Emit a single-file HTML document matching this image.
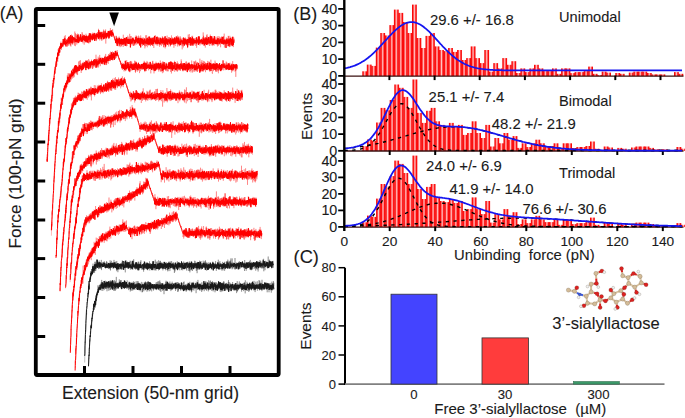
<!DOCTYPE html>
<html><head><meta charset="utf-8"><style>
html,body{margin:0;padding:0;background:#fff;width:685px;height:418px;overflow:hidden}
svg{display:block;font-family:"Liberation Sans", sans-serif}
text{stroke:#1a1a1a;stroke-width:0.1px}
</style></head><body>
<svg width="685" height="418" viewBox="0 0 685 418">
<rect width="685" height="418" fill="#fff"/>
<g transform="scale(0.1)" fill="none" stroke="#ff0000" stroke-width="10" stroke-opacity="1.0" stroke-linejoin="round">
<path d="M470 1593l2 24 1-67 2-14 2-23 1-38 2-37 2 13 1-30 2-68 2 57 1-50 2-56 2 8 1-49 2-15 2-6 1-62 2 13 2-7 1-23 2-53 2 2 1-69 2 8 2-7 1-53 2 6 2 17 1 0 2-51 2-16 1-50 2-21 2-19 1 21 2-11 2-41 1-26 2 14 2-12 2-22 1 13 2-38 2-12 1-32 2 12 2 12 1-35 2-10 2-4 1-12 2-5 2-10 1-7 2-36 2 12 1-45 2 27 2-37 1 15 2 3 2-24 1 3 2-40 2 9 1 23 2-41 2 29 1-45 2 4 2-10 1 16 2 4 2-35 1 11 2 30 2-42 1-14 2 18 2-16 1-13 2-24 2 46 1-30 2 8 2-23 1 42 2-13 2 3 1-23 2 9 2 6 1 1 2-16 2-9 1-7 2-9 2-5 1 23 2-13 2-34 1 33 2 22 2-26 1-32 2 32 2 16 1-12 2-12 2 42 1 0 2-39 2 17 1-9 2 7 2 12 1-12 2-15 2-15 2-3 1 14 2 22 2-17 1-5 2 4 2-5 1 9 2-32 2-17 1 30 2-15 2 53 1-35 2-2 2-25 1 35 2-18 2 33 1-6 2-31 2 23 1-60 2 38 2 36 1-9 2-12 2-4 1-26 2 0 2 30 1 29 2-75 2 53 1-1 2 6 2-34 1 6 2 10 2-20 1-4 2 6 2 15 1 8 2-8 2 2 1-15 2-1 2 35 1-23 2 0 2 19 1 5 2 1 2-17 1-9 2 6 2-2 1 23 2-21 2 6 1-13 2 26 2-65 1 46 2 7 2-37 1 63 2-44 2 0 1-18 2 37 2-13 1-15 2 15 2 9 1 9 2-19 2-22 2 7 1-33 2 29 2 28 1-5 2-11 2-5 1 36 2-25 2 12 1-10 2-20 2 42 1-54 2 1 2 14 1-6 2 4 2-1 1 29 2-17 2 5 1-37 2 14 2 36 1-43 2 45 2-42 1 25 2-22 2 19 1-21 2 12 2 37 1-40 2 46 2-48 1-13 2 23 2-9 1 41 2-18 2 6 1-10 2 34 2-32 1-5 2-26 2-2 1 21 2 15 2 2 1-39 2 27 2-6 1-25 2 30 2-53 1 48 2 42 2-67 1 20 2-37 2 21 1 29 2-34 2 18 1-6 2-1 2 11 1 5 2 14 2-8 1-26 2 37 2-3 1-54 2 42 2 3 2 2 1-8 2-35 2 19 1-35 2 37 2 41 1-26 2 3 2-26 1-10 2-1 2 22 1-18 2 3 2 34 1-54 2 6 2 15 1 8 2-1 2-24 1 30 2-7 2 9 1-27 2 25 2-1 1-17 2 8 2-7 1 36 2-85 2 32 1-6 2 25 2-6 1 5 2 21 2-45 1 15 2 12 2-19 1 29 2-1 2-20 1-20 2 63 2-21 1-2 2-6 2-2 1 15 2-16 2-12 1 25 2-13 2-16 1-3 2 39 2-10 1 25 2-48 2-4 1 21 2 19 2-16 1-3 2 27 2-50 1-10 2 9 2 8 1 13 2 12 2-12 1 20 2-45 2 52 2-52 1 37 2-40 2 24 1-6 2 8 2 4 1-18 2 2 2 5 1-29 2 10 2-17 1 30 2 42 2-29 1-31 2 3 2 32 1-28 2-22 2 10 1-1 2 0 2 32 1-12 2-30 2 18 1-12 2-2 2-6 1 61 2-39 2 16 1 5 2-24 2 17 1 0 2-7 0 2 2 1 2 4 1 9 2 9 2 3 2 2 1 5 2 6 2 6 2 9 2 8 1-3 2 12 2 3 0 16 2 4 1-32 2 6 2-9 1 25 2-38 2 10 1 8 2 36 2 23 1-46 2-23 2 24 1-18 2 26 2-30 1 14 2 7 2 10 1-11 2 25 2-22 1-36 2 52 2-24 1-7 2 42 2-48 1 20 2-15 2 40 1-33 2 11 2-30 1 53 2-47 2 37 1 4 2 2 2 11 1-56 2 30 2-5 1 5 2 13 2-19 1-18 2 14 2 31 1-51 2 24 2-21 1 40 2-52 2 25 1 4 2 4 2 43 1-15 2-50 2 61 1-64 2-13 2 8 1 32 2 6 2-52 1 50 2-13 2 18 2-20 1 24 2-6 2-33 1 49 2-23 2 10 1 10 2-43 2 17 1-14 2-2 2 23 1 1 2 19 2 1 1-26 2-16 2 77 1-20 2-43 2-16 1 10 2 13 2 16 1-3 2-10 2-13 1 8 2-9 2 7 1-3 2 12 2-46 1 29 2 1 2-15 1 18 2-17 2 7 1 7 2 1 2-6 1 32 2-17 2 2 1-2 2-17 2-4 1 33 2-23 2-27 1-8 2 46 2-18 1 13 2-9 2 2 1 5 2-21 2 24 1 19 2-6 2-46 1 8 2 0 2 20 1 21 2-10 2-39 1 34 2 14 2-24 1 45 2-48 2 34 1 23 2-69 2 18 1 17 2 50 2-95 1 45 2-6 2-13 1-8 2 6 2 4 1-18 2 54 2-51 1 13 2-5 2 5 1 10 2-16 2 10 1 37 2-13 2-25 1 22 2-32 2 19 1-31 2 5 2 6 1 40 2-20 2 6 1-7 2 4 2 1 1 7 2-12 2-20 1 2 2 38 2 4 1-16 2-42 2 61 1-24 2-7 2 1 1-7 2 40 2-1 1-52 2 16 2 10 1 18 2-70 2 64 1 14 2-38 2 5 1 25 2-17 2-33 1 4 2 2 2-7 1 27 2-10 2 11 2 12 1 21 2-30 2-40 1 62 2-29 2 25 1-31 2 14 2-8 1 2 2 25 2-37 1 16 2 1 2-12 1-34 2 48 2-60 1 25 2 20 2 17 1 8 2-1 2-4 1-18 2 30 2-28 1 26 2-64 2 25 1 7 2 11 2-46 1 61 2 4 2-4 1-25 2 37 2-38 1 28 2-18 2 0 1-2 2 2 2 22 1 6 2 0 2-10 1-5 2-4 2 25 1-42 2-3 2 13 1-33 2 27 2 4 1-19 2 9 2 24 1-18 2 6 2 18 1-31 2-10 2 21 1 9 2-43 2 47 1-18 2-2 2-9 1 13 2 22 2-8 1 5 2-22 2 37 1-6 2-25 2-49 1 51 2 51 2-53 1-19 2 52 2-44 1 21 2 5 2-42 1 30 2 21 2-29 1 18 2-13 2 20 1 16 2-56 2 15 1 13 2-19 2-4 1 9 2 2 2-8 1 19 2 9 2-1 1-1 2 10 2-49 1 24 2 6 2 6 1-41 2 67 2-53 1 22 2 9 2 7 1-34 2 3 2 17 1 4 2 6 2-18 1-12 2-12 2 58 1-59 2 39 2-8 1 10 2 3 2 8 1-27 2 9 2-45 2 38 1-18 2 14 2 27 1-22 2 19 2-25 1 12 2-16 2-40 1 35 2 8 2 8 1-3 2-2 2 20 1-6 2-19 2 24 1-55 2 33 2 2 1 28 2-35 2-18 1 32 2 28 2-36 1 2 2-2 2 5 1 24 2 13 2-29 1-11 2 37 2-33 1 0 2-9 2 1 1 11 2-10 2 13 1-6 2 9 2-18 1 4 2 8 2-3 1 0 2 21 2-43 1-17 2 51 2-18 1 30 2-27 2-21 1 64 2-34 2-16 1-6 2 25 2-24 1 21 2 14 2-48 1 19 2 16 2 23 1-14 2-26 2 36 1-35 2 4 2 10 1-28 2 80 2-36 1-19 2-15 2-11 1 29 2 6 2-20 1 3 2 15 2-12 1-34 2 48 2-8 1 9 2-28 2-26 1 16 2 30 2 34 1 5 2-39 2-34 1 22 2 15 2-1 1-6 2 24 2-43 1-24 2 24 2-5 1 65 2-46 2-24 1 39 2 7 2-18 1 3 2 16 2-10 1-23 2 24 2 7 1-11 2 10 2-6 1-15 2 1 2 15 1-22 2 32 2 1 1-62 2 38 2-13 1 2 2 15 2-6 1 14 2-5 2 1 1-22 2 8 2 35 1-75 2 80 2-44 2 33 1-71 2 41 2 24 1-13 2 16 2-36 1 6 2-1 2 22 1-1 2-11 2-3 1-1 2 8 2-20 1 17 2-2 2-7 1-1 2 39 2-40 1 20 2 18 2-12 1-14 2 19 2-46 1 4 2 15 2 4 1 2 2 38 2-4 1-33 2 6 2-22 1 23 2-31 2 52 1-37 2 21 2-36 1 51 2-14 2 25 1-36 2-32 2 16 1-9 2 54 2-42 1-2 2 25 2-6 1 4 2-19 2-28 1 12 2-16 2 66 1-7 2-24 2 19 1 1 2-1 2-2 1 7 2-15 2-44 1-11 2 77 2-13 1-59 2 51 2-20 1 7 2-39 2 64 1-17 2 18 2 5 1 4 2 6 2-25 1-2 2-16 2 22 1-15 2-17 2 45 1-9 2-65 2 16 1 31 2-22 2 49 1-19 2 7 2 7 1 8 2-31 2 17 1-7 2 11 2-5 1 17 2-17 2-20 1 12 2-24 2 27 1 23 2-40 2-20 1 30 2-8 2 9 1-11 2 13 2-21 1 49 2-34 2 14 1 5 2-18 2 12 1-13 2-4 2 4 1 14 2-34 2 7 1 2 2 5 2 32 1-22 2-5 2 8 2 18 1-35 2 34 2-64 1 27 2 46 2 1 1-26 2-12 2 24 1-23 2 37 2-7 1-8 2-30 2 34 1-23 2 0 2-3 1 6 2 11 2 7 1 0 2 49 2-72 1 29 2-35 2 9 1-18 2 45 2-18 1-2 2-5 2 20 1-27 2 17 2 40 1-50 2-10 2-7 1 35 2-14 2-16 1-1 2 16 2-20 1 60 2-44 2 0 1 2 2-33 2 7 1 21 2 6 2-23 1 56 2-24 2 16 1-2 2-27 2 51 1-44 2-38 2-9 1 45 2 16 2-15 1 32 2-39 2 16 1 4 2-34"/>
<path d="M514 2303l2-60 1 22 2-68 2-28 1-40 2-30 2-1 1-62 2-14 2-48 1-25 2-13 2-32 1-66 2-9 2-50 1 0 2-56 2-36 1 4 2-56 2-14 1-16 2-49 2-20 2-5 1 10 2-52 2-16 1-32 2-19 2 11 1-59 2-15 2 26 1-59 2-24 2 19 1-5 2 1 2-5 1-99 2 26 2-16 1 0 2-36 2 4 1-8 2-14 2-33 1 9 2-33 2-12 1 0 2 8 2-64 1 26 2 16 2-34 1-23 2 5 2 16 1-43 2-20 2 19 1-28 2-16 2 21 1-40 2 2 2 24 1-31 2 14 2-65 2-2 1 7 2 6 2-41 1 35 2-20 2-6 1 6 2-11 2-23 1 14 2-23 2 44 1-38 2 0 2-11 1 10 2 0 2-10 1-21 2 38 2-25 1-38 2-10 2 18 1-4 2-12 2 10 1 22 2 14 2-23 1 0 2 12 2 17 1-23 2-14 2-17 1-19 2 24 2 12 1-20 2-19 2 19 1-16 2-13 2-29 1 46 2-26 2 33 2-37 1 11 2-14 2 42 1-10 2-28 2 26 1-53 2 34 2-25 1 7 2-8 2 19 1-48 2 24 2 34 1-72 2 38 2-23 1-27 2 57 2-18 1 32 2-61 2 41 1 22 2-67 2 47 1-1 2-10 2 21 1-15 2-28 2-2 1 11 2 34 2-36 1 19 2-21 2 14 1-3 2 13 2 11 1-46 2-13 2 20 1 0 2 5 2 13 2-28 1 8 2-1 2 21 1-30 2 31 2 13 1-42 2 31 2-17 1-13 2 40 2-15 1-31 2 17 2-25 1-14 2 47 2-21 1 31 2-29 2 2 1-8 2 5 2-19 1 10 2-29 2-2 1 8 2 14 2 10 1-3 2 26 2 25 1-95 2 74 2-10 1-30 2 14 2-41 1 33 2 34 2-54 1 11 2 13 2 11 1-13 2-11 2 22 1-24 2 57 2-22 2-23 1-18 2 5 2-4 1 7 2 15 2-34 1 28 2-4 2-18 1 42 2-16 2-3 1-18 2-3 2 14 1-29 2 35 2-29 1 21 2 13 2-19 1-8 2-2 2 17 1-25 2 20 2 19 1-55 2 21 2 20 1-27 2 0 2-4 1 40 2-58 2 38 1-2 2 4 2-16 1 16 2-12 2-7 1 65 2-30 2-41 1 7 2 21 2 19 2-32 1 17 2-10 2 18 1-34 2-4 2 19 1 0 2-5 2 22 1-11 2-12 2-24 1 34 2 3 2-29 1 10 2-20 2 23 1-7 2-30 2 33 1-7 2 0 2 26 1-12 2 7 2-23 1 31 2-41 2 29 1-43 2 32 2-24 1-9 2 40 2-10 1 5 2-9 2 4 1-7 2-3 2 5 1 41 2-63 2-10 1 10 2 4 2 23 2 10 1 0 2-26 2 17 1 21 2-23 2 12 1-44 2 35 2-2 1-40 2 24 2 10 1-29 2 33 2 1 1-14 2-8 2-2 1 10 2 13 2-48 1 29 2 1 2-23 1-8 2 19 2-28 1 35 2-10 2-17 1 21 2-18 2 2 1 35 2-38 2-35 1 54 2-26 2 2 1 45 2-31 2 16 1-43 2 5 2 3 1 29 2-27 2-25 2 50 1-25 2 10 2 12 1 26 2-43 2 30 1-57 2 28 2 2 1-49 2 22 2 4 1 23 2-20 2 0 1-6 2 21 2-11 1-1 2-4 2 17 1-28 2 12 0 1 2 6 1 7 2 3 2 0 2 11 1 6 2 5 2 4 2-2 1 9 2 7 2 5 2 2 1 6 2 1 2 9 1-2 2 10 2 9 2-2 1 12 2 7 2 1 2 2 1 5 2 3 0 19 2-35 1 24 2-24 2 31 1-37 2 24 2-11 1 33 2-27 2 5 1 24 2-43 2-2 1 22 2-18 2 51 1-29 2 2 2-11 1-54 2 84 2-26 1-37 2 18 2 20 1 25 2-18 2 1 1-1 2-23 2 4 1 13 2-26 2 27 1 12 2-58 2 41 1-1 2 7 2 31 1-60 2 64 2-24 1 34 2-54 2 14 1-10 2 12 2-26 1 2 2 11 2 16 1-37 2 18 2-5 1 17 2 10 2-44 1 9 2 13 2-13 1 46 2 6 2-18 1-5 2-31 2 3 1 26 2 21 2-36 2 13 1 25 2 2 2-52 1 24 2 9 2-45 1 22 2 13 2-14 1 20 2-18 2-25 1 9 2-17 2 15 1 36 2-5 2 4 1 15 2-47 2 13 1 12 2 29 2-26 1-8 2 8 2-23 1-21 2 47 2-17 1 17 2-32 2 6 1 32 2-11 2 14 1-31 2 14 2 12 1 4 2-18 2 7 1-8 2-1 2 2 1 10 2-35 2 25 1-19 2 20 2-5 1 8 2-8 2 1 1-23 2 53 2-53 1-10 2 42 2 5 1-13 2-5 2-15 1 57 2-68 2 77 1-75 2 11 2 15 1-4 2 18 2-26 1 10 2-24 2 53 1-28 2-9 2 15 1 17 2-10 2-21 1 17 2 4 2 1 1-13 2 19 2-34 1 23 2-18 2 17 1-12 2 24 2-21 1 31 2-41 2 38 1-36 2-31 2 28 1 36 2-13 2 5 1-16 2 14 2-26 1 52 2-2 2-22 1-19 2-2 2 25 1-5 2-24 2 31 1 3 2-6 2-3 1-3 2-4 2-6 1-6 2 35 2-53 1 32 2 14 2 27 1-50 2 33 2-2 1-6 2 17 2-66 1 50 2-20 2 10 2-11 1-13 2-20 2 44 1-13 2-20 2 22 1-18 2 4 2 20 1 11 2-52 2 36 1 12 2-35 2 18 1 12 2 12 2-40 1-9 2 19 2 2 1 9 2 1 2-38 1 51 2-46 2 39 1 3 2-2 2-2 1 1 2-22 2-1 1 57 2-11 2-4 1-10 2-46 2 66 1-40 2 4 2 15 1-28 2 38 2-71 1 69 2-13 2-26 1 32 2 6 2-7 1 3 2-23 2 25 1 0 2 4 2-11 1-45 2 42 2-35 1 10 2 12 2 6 1-10 2 12 2 4 1-7 2-2 2 5 1 7 2-31 2-11 1 49 2-18 2-47 1 65 2 1 2-57 1 12 2 13 2-14 1 12 2 10 2 21 1-67 2 49 2 20 1-68 2 53 2-7 1-10 2 26 2 11 1-5 2 19 2-54 1-25 2 29 2 14 1 19 2-12 2-22 1 38 2-18 2-4 1-8 2 12 2 3 1-11 2-46 2 29 1 25 2 22 2-7 1-2 2 13 2-21 1 13 2-6 2-15 1-22 2-14 2 40 1-32 2 22 2 16 1-28 2 32 2-17 1-18 2 28 2 3 1-23 2 19 2-32 1 25 2 3 2-26 2 22 1 27 2-41 2-10 1-5 2 12 2-6 1-11 2 35 2 4 1-25 2 20 2 17 1-11 2-3 2 9 1-26 2 30 2 19 1-49 2-23 2 22 1-5 2 24 2 19 1-13 2 23 2-25 1-7 2-39 2 45 1-20 2 2 2 5 1 37 2-15 2-16 1-28 2 19 2 4 1 22 2-7 2 0 1-29 2 37 2 34 1-79 2 7 2 21 1 17 2-14 2-3 1 27 2-50 2-19 1 10 2 46 2 2 1-26 2-20 2 11 1 24 2 11 2-31 1-4 2-2 2 6 1 25 2-10 2 4 1-5 2 1 2-29 1 5 2 27 2 1 1 14 2-23 2-15 1 13 2-1 2 15 1-13 2 13 2 1 1 0 2 1 2-31 1 42 2 10 2-16 1 16 2-23 2-18 1 21 2-11 2-2 1 34 2-48 2 38 1-32 2-23 2 48 1-12 2 2 2 1 1 17 2-14 2-12 1 3 2 11 2-19 1 18 2-46 2 36 1 2 2 14 2-34 1 17 2 12 2 46 1-51 2 8 2-22 1 52 2-46 2 0 1 7 2-27 2 5 1 12 2-8 2 34 1-29 2 52 2-37 1-19 2 17 2 10 2-14 1 9 2-13 2-11 1 13 2 35 2-41 1 6 2-27 2 16 1 19 2-13 2 28 1-4 2-26 2 6 1 14 2-5 2-13 1-29 2 61 2-26 1 3 2-17 2 42 1-30 2 5 2-41 1 29 2 7 2 9 1 5 2-16 2 23 1-22 2-1 2 3 1-31 2-11 2 76 1-67 2 21 2 23 1-24 2 34 2-58 1 39 2 9 2 29 1-13 2-41 2 30 1-11 2-29 2 14 1 29 2-25 2-13 1 6 2-12 2-6 1 37 2 1 2 11 1-48 2 8 2 28 1-5 2-6 2-19 1 16 2-20 2 55 1-16 2-31 2 41 1-42 2 30 2-8 1-10 2 32 2-56 1 25 2 0 2-28 1 5 2 31 2 3 1-24 2 29 2-1 1 5 2-19 2 3 1 13 2-22 2-5 1-7 2 33 2 14 1-58 2 29 2 19 1 15 2-23 2-20 1 29 2 30 2-36 1 6 2 19 2-59 1 43 2 12 2-9 1-14 2-10 2-4 1-14 2 15 2-13 1 20 2-2 2-7 1 4 2 8 2-24 1 35 2-9 2 8 1-17 2 2 2 7 1-1 2-9 2 1 2-3 1 2 2-6 2-1 1-4 2 43 2-37 1 10 2-16 2 21 1 20 2-36 2 16 1-4 2 17 2-17 1-1 2-2 2-31 1 54 2 12 2-46 1 31 2-15 2 26 1-36 2 18 2 16 1-14 2-6 2-4 1-11 2 14 2-20 1 48 2-20 2-13 1-24 2 46 2 5 1-16 2 8 2 0 1-16 2-4 2 7 1 20 2-33 2-18 1 31 2 0 2-4 1 5 2-25 2 6 1 8 2 6 2 10 1 4 2-9 2-6 1-15 2 9 2-20 1 15 2 20 2 3 1-29 2 39"/>
<path d="M560 2578l2-27 1 7 2-65 2-52 1-61 2 17 2-30 1-73 2-7 2-83 1 0 2 19 2-78 1 27 2-11 2-69 1 8 2 15 2 2 1-62 2 13 2-61 1-12 2 7 2-8 1-26 2 4 2-21 1-6 2-27 2-30 1-15 2-21 2-12 1 2 2-19 2-10 1-26 2-17 2-51 1-8 2-19 2-22 2-51 1 45 2-51 2-10 1-16 2 29 2-38 1 6 2-45 2 2 1-15 2-32 2-8 1-51 2-1 2 9 1-61 2 37 2-15 1-30 2 16 2-19 1 1 2-31 2-4 1-17 2-44 2 15 1-13 2-6 2-11 1 6 2-27 2-22 1 15 2-61 2 3 1 42 2-61 2 25 1-36 2 25 2-15 1 5 2-18 2 4 1-49 2 39 2-45 1 17 2-27 2 19 1-20 2-10 2 2 1-18 2-4 2 23 1-21 2-12 2-13 1 28 2-41 2 11 1-23 2 8 2 6 1 8 2-10 2 17 1-55 2 74 2-31 1-4 2-27 2 33 1-34 2 11 2 4 1 5 2-2 2-28 2-9 1 49 2-12 2-5 1-4 2 1 2-47 1 35 2 17 2-17 1 11 2-7 2-17 1-8 2 12 2 21 1-51 2 46 2-54 1 73 2-42 2 5 1-12 2 26 2-33 1 39 2 14 2-41 1-18 2 31 2-30 1 7 2 9 2 15 1-42 2 34 2-5 1-12 2 14 2-12 1-10 2-31 2-10 1 47 2 11 2-33 1 13 2 34 2-14 1-50 2 45 2-19 1 14 2-9 2-20 1 56 2-89 2 28 1 41 2-25 2 7 1-26 2 33 2-30 1-9 2-1 2 43 1-23 2 14 2-7 1-12 2-19 2 27 1 6 2-34 2 9 1-5 2-24 2 45 1 5 2-13 2 5 2-2 1 20 2-8 2 1 1-33 2 24 2-11 1-21 2 29 2-41 1 10 2 41 2-8 1-49 2 42 2-5 1-8 2-17 2 15 1 19 2 20 2-18 1-34 2 29 2 27 1-45 2-21 2 45 1-33 2 12 2 5 1-11 2 3 2 12 1 1 2-9 2 8 1-9 2-19 2 46 1-28 2 3 2 10 1-23 2-25 2-7 1 24 2 27 2-13 1 3 2-21 2-19 1 22 2-31 2 17 1 26 2-23 2-16 1 36 2-1 2-7 1-38 2 47 2-20 1 15 2 10 2-12 1 15 2-11 2-23 1-3 2 47 2 5 1-47 2 11 2 3 1 6 2-45 2 44 1-12 2 1 2-12 2 34 1-34 2 41 2-5 1-40 2 27 2 1 1-25 2-37 2 36 1 11 2 37 2-19 1-7 2-14 2 12 1-34 2 0 2-10 1 2 2 18 2 41 1-66 2 32 2-5 1-37 2 31 2-38 1 61 2-5 2-32 1 6 2-3 2-3 1 26 2-36 2 14 1-17 2 44 2-19 1 16 2-36 2-35 1 60 2-5 2 10 1-18 2 12 2 4 1-28 2-32 2 54 1-10 2-13 2-15 1 56 2-31 2-1 1-20 2 2 2 18 1-29 2 47 2-32 1 32 2-22 2-18 1 53 2-40 2-10 1 27 2-10 2-8 1-39 2 5 2 49 1-28 2 19 2-27 1 22 2-40 2 29 2 32 1-24 2-12 2 5 1 1 2 35 2-33 1 5 2-18 2 19 1-2 2-23 2-19 1 27 2 26 2-34 1 4 2 29 2-25 1-35 2 67 2-30 1-12 2 5 2 14 1-20 2 43 2-26 1 3 2-7 2-16 1 13 2 30 2-43 1 6 2 9 2-22 1 31 2-41 2 31 1-27 2 12 0 5 2 14 1-4 2 10 2 3 2 2 1 10 2 3 2 0 2 5 1 11 2 5 2 0 1 10 2 4 2 8 2 2 1 7 2 5 2 7 1 7 2 8 2-5 2 10 1 2 2 5 2 3 2 9 1 7 2 4 0 3 2 0 1 4 2-7 2 5 1-3 2-12 2-17 1-3 2 36 2-27 1 32 2-23 2-5 1 9 2 8 2 29 1-40 2-2 2 17 1 11 2-20 2-8 1 20 2-4 2 3 1-34 2 38 2-10 1 18 2-24 2 12 1-12 2 44 2-67 1 9 2 3 2-41 1 46 2 40 2-16 1 6 2-22 2-10 1 9 2-21 2-8 1 53 2-21 2 26 1-51 2 27 2-30 1 58 2-28 2-21 1 1 2 42 2-44 1 16 2 5 2-19 1 47 2 6 2-45 1 14 2 10 2-2 2 2 1-34 2 22 2-27 1 24 2 12 2 6 1-55 2 44 2-31 1 35 2-1 2-4 1 15 2-13 2-20 1 8 2 13 2-37 1 26 2 11 2-26 1 42 2-2 2-10 1-12 2-5 2 18 1-3 2 10 2-31 1 24 2 9 2-38 1 20 2-2 2-4 1 21 2-21 2 17 1-6 2 7 2-19 1-7 2 24 2-12 1 15 2-24 2-2 1 23 2-10 2-5 1 15 2-16 2 7 1 6 2-29 2 38 1-18 2-5 2 4 1-10 2-22 2 34 1-9 2 38 2-3 1-36 2 15 2 14 1-13 2-9 2-3 1-13 2 34 2-4 1-8 2-3 2 31 1-23 2 16 2-46 1 6 2 1 2 28 1-20 2 31 2-22 1 16 2-24 2 22 1-21 2 4 2-17 1-14 2 11 2 26 1 0 2-34 2 8 1-4 2 35 2-26 1-2 2 26 2-19 1 20 2 4 2-23 1-21 2 26 2 44 1-58 2 43 2-36 1-5 2 43 2-34 1-31 2 15 2 8 1 5 2 33 2-5 1-17 2 8 2-17 1-21 2 30 2-4 1 20 2-11 2 15 1-28 2 1 2-1 2-7 1 34 2-16 2-25 1 11 2 45 2 8 1-17 2-23 2 26 1-29 2-20 2 22 1-21 2 16 2 44 1-31 2-5 2 10 1-22 2 12 2-22 1-7 2 16 2-13 1-19 2 31 2-10 1 3 2 42 2-14 1 6 2-22 2-15 1 3 2 48 2-83 1 42 2 13 2-31 1 46 2-34 2 15 1 28 2-12 2-20 1 2 2 29 2 8 1-25 2-43 2 25 1 28 2-32 2 8 1-13 2 10 2 26 1-5 2-32 2 42 1-49 2 44 2-1 1-40 2-10 2 52 1-6 2-8 2-18 1 21 2-34 2 41 1 28 2-46 2 23 1-35 2 22 2-10 1 12 2-14 2-25 1 50 2-40 2 41 1-42 2 36 2-8 1-16 2 27 2-13 1 25 2-17 2 10 1-60 2 63 2-30 1 0 2-19 2 10 1 8 2 7 2-1 1-8 2 10 2 13 1-25 2-3 2 32 1-12 2-25 2 30 1-5 2 32 2-23 1-2 2-16 2-16 1 16 2-3 2-1 1 26 2-40 2 51 1-50 2-8 2 44 1-22 2-9 2 21 1-17 2 11 2-9 1 10 2-18 2 27 2-20 1 9 2-41 2 48 1-19 2 6 2-2 1-4 2-8 2 35 1-26 2 5 2-3 1-7 2 33 2-32 1 18 2-21 2-12 1 0 2 36 2-45 1 4 2 20 2 22 1-24 2 33 2-23 1-1 2 32 2-19 1-17 2-2 2 25 1 10 2-30 2 2 1 23 2-32 2 20 1-3 2-7 2-14 1-26 2 39 2-19 1 27 2-15 2 2 1 34 2-13 2-30 1 33 2-22 2-17 1 26 2-3 2 18 1 1 2 1 2-32 1 11 2-31 2 38 1-9 2-36 2 51 1-3 2-37 2-12 1 34 2 10 2-6 1 28 2 16 2-40 1-6 2-4 2 46 1-37 2 12 2 3 1 3 2-11 2 27 1-24 2-7 2-23 1 13 2 6 2 20 1-29 2 14 2-8 1-45 2 54 2 26 1-58 2 48 2-44 1 15 2 6 2 19 1-17 2 1 2 16 1 1 2-20 2 12 1 16 2-16 2-28 1 20 2-29 2 68 1-37 2-34 2 22 1 17 2 5 2-16 1-5 2-10 2 34 1 7 2-17 2-3 1-1 2-13 2 4 1 17 2-6 2 3 2-21 1 28 2-34 2 43 1-27 2 9 2-18 1 11 2-13 2 17 1-36 2 55 2-18 1 9 2-15 2 12 1-23 2-3 2 9 1-20 2 42 2-21 1 2 2-12 2 26 1 10 2-26 2 27 1-15 2-2 2-35 1 15 2 39 2-3 1 22 2-53 2 27 1-43 2 12 2-4 1 5 2 21 2 21 1-23 2-26 2 48 1-18 2-36 2 55 1-25 2 13 2-26 1 2 2 18 2-38 1 31 2 16 2-9 1-9 2-7 2 0 1 36 2-23 2-2 1-20 2 25 2 6 1-57 2 74 2-16 1-19 2-30 2 80 1-33 2-22 2-18 1 47 2-55 2 34 1-5 2-17 2 9 1 0 2 30 2-9 1 14 2-41 2 44 1-18 2 17 2-29 1 15 2-27 2 39 1-19 2-14 2 9 1 4 2-37 2 37 1-23 2 18 2 6 1 41 2-37 2-33 1 36 2-33 2 3 1 5 2 32 2 14 1-19 2-38 2 28 1 13 2-64 2 41 1 56 2-75 2 7 1-3 2 49 2-8 1-4 2 9 2-35 1-24 2 47 2-42 1 44 2-2 2-7 1 22 2-17 2-31 2 8 1 28 2-25 2 24 1-17 2 11 2-24 1 15 2-28 2 18 1 24 2-23 2-6 1 35 2-2 2-37 1 27 2 5 2-27 1 3 2 11 2 32 1-29 2-1 2-49 1 57 2 11 2-39 1 36 2-8 2 8 1-15 2 1 2 47 1-13 2-52 2-14 1 39 2 1 2-7 1-4 2 30 2-85 1 38 2 31 2-3 1 0 2-23 2 46 1-14 2-2 2-8 1-36 2 16 2-13 1 24 2-29 2 27 1-12 2 12 2-42 1 21 2 23 2 11 1-37 2 36"/>
<path d="M600 2909l2-77 1 17 2-77 2-24 1-29 2-48 2 4 1-63 2-10 2-20 1-4 2-33 2-11 1-34 2-72 2 25 1-34 2-9 2-19 1 2 2-72 2 23 1-28 2-38 2 2 1-6 2-24 2-16 1-28 2-2 2-25 1-37 2 36 2-78 1 30 2-54 2-21 1 9 2-45 2-27 1-6 2 15 2-66 1 44 2-30 2-17 2-25 1-41 2-7 2 3 1-8 2-15 2-27 1-20 2 43 2-81 1 11 2-35 2 33 1-44 2 11 2 5 1-89 2 17 2-30 1 2 2-11 2 0 1 32 2-36 2 0 1 12 2-35 2-15 1 18 2-26 2-33 1-30 2 19 2 7 1-23 2 20 2 15 1-22 2-72 2 34 1-16 2 31 2-12 1-16 2-7 2-11 1-19 2 17 2-22 1 7 2 24 2-31 1 16 2-14 2-24 1 24 2-24 2 12 1-13 2 19 2-15 1-15 2-16 2 50 1-46 2 3 2-5 1-11 2-22 2 13 1-13 2 34 2 20 1-58 2 11 2 10 1-36 2 2 2-4 1 38 2-20 2-30 1 14 2-3 2-3 1-39 2 32 2 3 1 4 2-10 2-16 2 2 1 21 2 36 2-71 1 34 2 0 2-26 1-58 2 68 2-21 1-4 2 20 2-27 1-4 2 37 2-1 1 2 2-13 2-8 1 9 2 10 2 7 1-19 2 4 2-24 1 27 2 14 2-2 1-34 2-37 2 17 1 21 2-28 2 7 1 47 2-63 2-1 1 26 2-1 2 41 1-34 2 2 2-4 1-36 2-8 2 5 1 24 2-29 2 46 1-16 2 10 2 1 1-11 2-35 2 15 1 18 2-32 2 22 1-19 2 34 2-3 1-8 2 7 2 10 1-20 2 5 2 11 1-13 2-4 2-5 1-6 2-6 2 24 1-7 2-12 2 27 1 2 2-21 2-18 1 22 2-7 2 10 1-10 2 17 2-41 1 20 2-5 2 11 2-20 1-1 2-13 2 25 1 33 2-2 2-41 1 7 2 7 2-39 1 43 2 13 2-29 1-32 2 5 2 38 1-18 2 4 2 14 1-12 2-8 2 0 1-29 2 57 2 1 1-34 2 15 2-23 1 27 2-13 2-9 1-3 2 31 2-21 1 10 2-26 2 65 1-44 2-31 2 48 1-47 2 43 2-3 1 16 2-41 2-25 1 38 2 6 2-11 1-4 2 30 2-12 1-38 2 23 2-30 1 17 2-29 2 16 1-5 2-14 2 32 1 6 2-16 2-19 1 57 2-32 2-6 1-3 2 28 2-39 1 20 2-26 2 44 1-37 2-3 2 29 1-2 2 7 2-5 1 24 2-53 2 25 1 4 2-7 2 19 1-8 2-11 2 16 1-35 2 14 2-16 2 34 1-38 2-2 2 23 1-7 2-24 2 22 1 22 2-23 2-26 1 20 2-18 2 3 1 33 2-7 2 15 1-40 2 10 2-17 1 37 2-35 2-1 1-4 2 32 2-5 1-4 2 21 2-22 1-16 2 53 2-52 1 0 2 35 2-24 1 5 2-36 2 15 1-3 2 23 2-13 1 14 2-24 2 9 1 11 2-30 2 5 1 38 2-32 2 52 1-28 2-2 2-16 1 9 2-5 2-29 1 16 2 2 2 22 1-21 2-42 2 49 1-9 2 15 2-6 1-30 2-5 2 16 1-6 2 16 2-10 1 7 2 13 2-16 1-4 2 19 2 7 1-8 2-40 2 31 1-7 2 22 2-66 1 45 2 2 2 7 1-15 2-2 2 9 1-30 2 29 2-32 2 13 1 32 2-9 2 0 1 13 2-14 2-2 1-21 2 2 2 38 1-41 2 32 2-11 1 22 2-44 2 34 1-32 2 4 2 39 1-2 2-28 2 23 1-17 2-13 2 20 1-43 2 0 2-29 1 56 2-21 2 7 1 9 2-2 2 12 1-13 2 23 2-56 1 50 2 1 2-26 1 34 2-33 2 46 1-16 2-18 0-10 2 8 1 5 2 5 2 7 2 9 1 2 2 4 2 14 2 1 1 7 2 4 2 5 2 10 1 7 2 1 2 5 1 9 2 6 2 4 2 10 1 4 2 3 2 8 2 7 1 6 2 4 0 15 2-30 1 26 2-10 2-17 1 5 2-16 2-1 1 0 2 34 2-7 1-21 2 10 2-8 1 37 2-32 2 17 1 6 2 4 2 9 1-25 2-26 2 41 1 1 2-44 2 31 1 8 2-14 2 7 1-25 2 8 2-4 1 51 2-29 2-7 1-10 2 19 2 0 1-7 2-17 2 4 1-10 2-5 2 40 1-18 2 20 2-12 1-2 2-1 2 6 1 35 2-24 2-25 1 37 2-31 2-17 1-12 2 4 2 44 1 3 2-33 2 15 1-21 2 22 2 20 2-10 1-14 2-10 2 20 1 4 2-15 2 5 1 19 2-14 2-26 1 46 2-24 2-33 1 56 2 7 2-21 1-18 2-10 2 12 1-29 2 48 2 0 1-30 2 52 2-16 1 13 2-18 2 13 1-16 2-27 2 21 1-26 2 6 2 16 1-19 2-5 2 38 1-16 2 1 2 6 1-29 2 28 2-19 1 24 2-1 2-5 1 28 2-26 2 7 1-7 2 3 2 17 1 16 2-34 2-9 1-1 2 3 2 26 1-34 2-14 2-26 1 45 2 5 2-7 1 3 2 4 2-15 1 14 2-19 2 14 1 50 2-35 2-6 1-6 2 3 2 24 1-39 2 15 2-5 1 26 2-11 2-23 1-23 2 49 2 10 1-34 2 37 2-54 1 1 2-8 2 45 1-19 2 21 2-66 1 64 2-10 2 29 1-20 2-37 2 58 1-29 2 22 2-41 1 25 2 10 2 2 1-4 2-38 2 16 1-13 2 25 2-39 1 64 2-46 2 30 1-34 2 62 2-8 1-67 2 1 2 38 1-37 2 27 2 22 1-37 2 8 2 2 1 10 2 16 2-6 2-37 1 3 2 27 2 20 1-35 2-6 2 11 1 1 2 8 2-8 1 9 2-18 2 31 1-3 2-7 2-6 1-13 2-11 2 28 1-9 2-2 2 34 1-33 2 31 2 12 1-15 2-28 2 14 1-13 2 9 2 1 1-30 2 23 2 7 1 7 2-6 2-4 1-7 2 27 2-32 1-1 2 12 2-5 1-20 2 37 2 8 1-17 2-3 2 3 1 13 2-35 2 20 1 20 2-37 2 28 1-49 2 54 2 15 1-17 2-6 2-27 1 0 2-1 2 28 1-13 2 24 2-25 1 18 2-6 2-9 1-8 2 23 2-58 1 89 2-54 2 19 1 28 2-62 2 7 1 37 2-44 2 22 1-2 2 10 2-10 1 17 2-27 2 13 1-25 2 36 2-44 1 42 2-20 2 40 1-22 2 1 2-18 1 18 2 10 2-7 1 23 2-32 2 37 1-64 2 17 2 7 1-2 2 14 2-17 1-16 2 16 2-17 1 23 2 4 2-72 1 85 2-33 2 14 1 6 2-6 2 21 1 5 2-77 2 99 1-52 2 9 2-7 1-14 2 14 2 4 2 2 1 16 2-7 2-25 1 40 2-14 2-24 1 23 2 6 2-19 1 2 2-46 2 10 1 28 2 3 2 21 1-43 2 11 2 13 1-19 2 0 2 41 1-19 2 26 2-47 1 36 2 1 2 21 1-34 2 21 2-4 1-20 2-25 2 10 1 1 2 7 2 18 1 7 2-39 2 28 1 2 2 4 2-35 1-4 2 37 2-16 1 1 2 31 2-42 1-14 2 14 2 41 1-32 2 15 2 0 1 29 2-53 2 21 1-2 2-9 2 8 1-36 2 40 2-33 1 44 2-21 2-29 1 22 2 22 2-29 1-25 2 36 2 4 1-1 2 5 2 20 1-4 2 2 2-25 1 38 2-64 2 3 1 5 2 17 2 8 1-23 2 19 2 17 1-9 2-1 2 13 1 6 2-41 2 11 1-26 2 14 2-1 1 8 2-24 2 28 1 4 2-22 2 12 1 24 2-1 2-30 1 7 2 6 2 15 1 6 2-26 2 1 1 12 2-15 2 17 1-33 2 13 2 46 1-30 2-22 2 39 1-17 2-2 2 3 1 36 2-47 2-9 1 29 2 2 2-31 2 10 1 38 2-16 2 14 1-33 2 6 2-22 1-21 2 59 2-39 1 20 2-15 2 15 1-11 2 46 2-33 1-13 2 11 2-47 1 58 2-25 2 35 1-43 2 48 2-72 1 32 2 34 2-8 1-21 2 26 2-33 1 35 2 10 2 3 1-50 2 47 2-1 1-22 2 1 2 3 1-17 2 3 2 16 1 7 2-17 2-34 1 45 2-50 2 62 1-10 2-31 2 35 1-1 2-25 2-20 1 50 2-18 2-12 1 25 2-30 2 35 1 10 2-44 2 2 1 26 2-14 2-36 1 56 2-30 2 32 1-49 2 33 2 2 1 2 2-28 2-12 1 42 2 7 2-17 1 7 2-23 2-6 1 43 2 6 2 8 1-29 2-25 2-35 1 59 2 15 2-9 1 1 2-35 2 45 1 5 2 22 2-24 1 6 2-67 2 8 1 1 2 43 2-16 1-20 2 2 2 29 1-44 2 41 2 0 1 32 2-39 2-37 1 63 2-23 2-6 1-11 2 18 2-19 1 5 2-1 2 33 1-9 2-39 2 25 1-10 2 14 2 6 1-15 2 29 2 0 2-43 1 19 2-21 2-9 1 2 2 5 2 2 1 29 2-3 2-20 1-5 2 23 2 6 1 16 2-22 2 5 1-39 2 23 2 16 1-23 2-2 2 59 1-24 2-20 2 19 1-13 2-18 2 10 1-2 2 23 2-23 1 3 2-22 2 1 1 18 2 1 2 14 1-1 2-6 2-24 1 30 2-39 2 32 1 7 2 18 2-37 1 12 2-3 2-29 1 46 2-26 2 22 1-37 2 33 2 4 1-12 2 40 2-36 1 11 2-54 2 54 1-47 2 10"/>
<path d="M655 2873l2-8 1-15 2-12 2-43 1-40 2-11 2-74 1 9 2-47 2 24 1-82 2 9 2 0 1-71 2-28 2-11 1-30 2-37 2-19 1 4 2-28 2-55 1-26 2-1 2-18 1-30 2-21 2 13 1-38 2-29 2-45 1 25 2-55 2-9 1-69 2 49 2-63 1 7 2 21 2-37 1-21 2 20 2-4 1-26 2 0 2-43 1 14 2-20 2-38 1 35 2-23 2-5 2 1 1-13 2 13 2-33 1 16 2-29 2 14 1-16 2 10 2 25 1-50 2 7 2-37 1 5 2 10 2 12 1-49 2 13 2 24 1-62 2 38 2-18 1 37 2-45 2-18 1 43 2-2 2-23 1 23 2-46 2 6 1-19 2-7 2 20 1-15 2 37 2-51 1 14 2-49 2 43 1-16 2-3 2 11 1-11 2-19 2 32 1-14 2-16 2 38 1-32 2 15 2-2 1-26 2 10 2-11 1-16 2 7 2 38 1-33 2 27 2-19 1-44 2 23 2 15 1-15 2 4 2-3 1-22 2 30 2 17 1-46 2 1 2 8 1 11 2-23 2 24 1-26 2-8 2-26 1 44 2 8 2-34 1 16 2-17 2-3 1 46 2-12 2-59 1 53 2-12 2 28 1-29 2-3 2-22 1 11 2-3 2-24 1 43 2-26 2 12 1 8 2-49 2 26 1-8 2 1 2-13 1 25 2-30 2 14 2-1 1 0 2 5 2 3 1 5 2 33 2-53 1 8 2-9 2 45 1-68 2 12 2 37 1-11 2-35 2 48 1-41 2 0 2 44 1-1 2-8 2-15 1 11 2-31 2 52 1-72 2 45 2 13 1-45 2 12 2 12 1 27 2-15 2 2 1-24 2 11 2 0 1 17 2-55 2 28 1-5 2-7 2 43 1-51 2 25 2-8 1 8 2-27 2-10 1 63 2-20 2-24 1-12 2 16 2-4 1-7 2 22 2-10 1-9 2 7 2-17 1 22 2-6 2-44 1 50 2-22 2 5 1 15 2-13 2 7 1-34 2 47 2-27 1 27 2-20 2 1 1 17 2-8 2-14 1 9 2 28 2-38 1-8 2 19 2-38 1 31 2-12 2 11 1-52 2 62 2-14 1-20 2 32 2-28 1-18 2 3 2 18 1-5 2 6 2-9 1 18 2 5 2-32 2 40 1-40 2 30 2 3 1-19 2-9 2-11 1 58 2-68 2 26 1 1 2 22 2-7 1-19 2-10 2 53 1-45 2-12 2 46 1-37 2-17 2 32 1-19 2-35 2 35 1 12 2-37 2 27 1 25 2-31 2-15 1 5 2 31 2-26 1 19 2-12 2-14 1 33 2 16 2-55 1 26 2 1 2-2 1-3 2 29 2 17 1-44 2-6 2 18 1-31 2 0 2 24 1 8 2-15 2 5 1-53 2 23 2 15 1 16 2-35 2 29 1-10 2 10 2-15 1 25 2-33 2 41 1-38 2 18 2-32 1 8 2 20 2-50 1 43 2 0 2 61 1-63 2 34 2-35 1-10 2 34 2-14 1 22 2-55 2-6 1 49 2 3 2-2 1-24 2 23 2-22 1-11 2 9 2-33 1 50 2-1 2-32 1-14 2 36 2 15 1-67 2 38 2-6 1 39 2 2 2-57 1 13 2-24 2 36 2 5 1 17 2-62 2 3 1 39 2-1 2-19 1 13 2 9 2-13 1 35 2 2 2-25 1-14 2-20 2 16 1-2 2-52 2 56 1 9 2-8 2-31 1 2 2 38 2 6 1-34 2-13 2 17 1 13 2 36 2-21 1-9 2-19 2 9 1-20 2 38 2-15 1-22 2 20 2 31 1-47 2-8 2 15 1 4 2 7 2-8 1 16 2-15 2 6 1 26 2-58 2 3 1 23 2-23 2 6 1 60 2-68 2 2 1 27 2-10 2-35 1 39 2 20 2-31 1 12 2-12 2-17 1 1 2 29 2-5 1-42 2 50 2-12 1 4 2 8 2-53 1 24 2-6 2-3 1 12 2 11 2-14 1 44 2-62 2 75 1-51 2 32 2-28 1-26 2 12 2-8 1 24 2-10 2-29 1 68 2-26 2-53 1 14 2 8 2 9 1 0 2-12 2 41 1-63 2 38 2-8 2 21 1-33 2 5 2 39 1-34 2-7 2-4 1-4 2-20 2-1 1 15 2 9 2 16 1-25 2-2 2 8 1-13 2 10 2 22 1-39 2-10 2 13 1 10 2-21 2 33 1 25 2-20 2 6 1 3 2-15 2-14 1 0 2-35 2 4 1 11 2-10 2 6 1 23 2-12 2-5 1 43 2-49 2 6 1 21 2-25 2 26 1-38 2 42 2-21 1-42 2 29 0 5 2 2 1 8 2 2 2 8 2 3 1 9 2 4 2 7 2 5 1 1 2 6 2 7 1 7 2 3 2 0 2 13 1 3 2 7 2-1 2 7 1 4 2 4 2 13 2 0 1 4 2 3 0-8 2 28 1 10 2-12 2-19 1 9 2-37 2 7 1 24 2 8 2-8 1 7 2-15 2 4 1 8 2-9 2-2 1 4 2 37 2-51 1 61 2-58 2 34 1 6 2 4 2-34 1-46 2 35 2 23 1 40 2-51 2 14 1 1 2 26 2-21 1 19 2-45 2-18 1 29 2-16 2 32 1-15 2 19 2-38 1 8 2 3 2 30 1-27 2 3 2 32 1-41 2 2 2 40 1-76 2 68 2-29 1 3 2 4 2 4 2-6 1 29 2-69 2-3 1 47 2-32 2 22 1-3 2 5 2 13 1-56 2 28 2 48 1-40 2-1 2 62 1-45 2-24 2 28 1 2 2-35 2 38 1-21 2-32 2 53 1 0 2-5 2-1 1-21 2 3 2-10 1 38 2-8 2 24 1-26 2-18 2-4 1-6 2 1 2 75 1-95 2 16 2-9 1 50 2-15 2-8 1 22 2-26 2 17 1 25 2-35 2-1 1 13 2 5 2 1 1-21 2 12 2-5 1 18 2-26 2 1 1-15 2 11 2-4 1 20 2 17 2-33 1 48 2-43 2 29 1-13 2-23 2 10 1-29 2 40 2 27 1-31 2 30 2-35 1-5 2 7 2-10 1 15 2 29 2-34 1-12 2 10 2 18 1-21 2-32 2 17 1 49 2-33 2 26 1-25 2-13 2 18 1 16 2-25 2-21 1 19 2-7 2 36 1-41 2-2 2-8 1 28 2-9 2 2 1 15 2-11 2 51 2-14 1-46 2 49 2-34 1 6 2-27 2 29 1 11 2-8 2-5 1 12 2-6 2-43 1 27 2 11 2-21 1 54 2-30 2-11 1 5 2 5 2-17 1-6 2-20 2 52 1-14 2-30 2 45 1-18 2-11 2-8 1 54 2-16 2-10 1 0 2-11 2 0 1 32 2-41 2-3 1 32 2-55 2 26 1-4 2 12 2-26 1 19 2-1 2 12 1 12 2 12 2-22 1-13 2-4 2 5 1 49 2-12 2-6 1-9 2-34 2 43 1-25 2-17 2 0 1 25 2-18 2 44 1-6 2-10 2-5 1 6 2-55 2 12 1 28 2-9 2-34 1 48 2-16 2-10 1 36 2 6 2-37 1 13 2 7 2-12 1 10 2-28 2 7 1 24 2-8 2 38 1-47 2 4 2 11 1 6 2-5 2 19 1-19 2 12 2-28 1 30 2-12 2-36 1 49 2-4 2-34 1 22 2 21 2-30 1 31 2-32 2 29 2-19 1-58 2 52 2-6 1 13 2-18 2 32 1-15 2-6 2-2 1 0 2-13 2 21 1-24 2 6 2-11 1 45 2 3 2-40 1 6 2-21 2-1 1 40 2 33 2-55 1 27 2-43 2 62 1 11 2-42 2 7 1 29 2-29 2-32 1 31 2-35 2 45 1-8 2 14 2-15 1 4 2-17 2 17 1-14 2-6 2 60 1-89 2 40 2-15 1 3 2 11 2 1 1 18 2-55 2 43 1-12 2 24 2-42 1-25 2 43 2-6 1-7 2 5 2 28 1-26 2 31 2-11 1-29 2-29 2 58 1-36 2-1 2 35 1 12 2 1 2-31 1 3 2-18 2 22 1 5 2 31 2-39 1-16 2 38 2-35 1-7 2 24 2 1 1-3 2-22 2 18 1-20 2-8 2 42 1 15 2-18 2 19 1-14 2 31 2-55 1 9 2 0 2 15 1 6 2-29 2-12 1-11 2-4 2 53 1-36 2 41 2-25 2 20 1 2 2-1 2 5 1-27 2 19 2-19 1-10 2 14 2 11 1-21 2 37 2-45 1-5 2 9 2 35 1-24 2 12 2 2 1-36 2 24 2 20 1-2 2-16 2 11 1-6 2 10 2-46 1 10 2 45 2-24 1-22 2 29 2-3 1-23 2 21 2-6 1 19 2-16 2 5 1 12 2-10 2-17 1-10 2 6 2 1 1 11 2-2 2-2 1-7 2 39 2-27 1-23 2 27 2 16 1-18 2 8 2-25 1 33 2-3 2 10 1-14 2 33 2-20 1 2 2 3 2-45 1 34 2 4 2 0 1-25 2-12 2 7 1-14 2 31 2-20 1 15 2-1 2-4 1-11 2 1 2 37 1-52 2 33 2-22 1 4 2 9 2 44 1-31 2 5 2 1 1 5 2-11 2 20 1-22 2-15 2 9 1 0 2 31 2-60 1 15 2 13 2 2 1-5 2-14 2 16 1 6 2-29 2 20 1 4 2 0 2 32 2-56 1 33 2-1 2-34 1 43 2-37 2 24 1-18 2 7 2 19 1 9 2-18 2 2 1-7 2 22 2-9 1-52 2 76 2-49 1-18 2 15 2 13 1-4 2-19 2 37 1-21 2 13 2 31 1-28 2-46 2 19 1 11 2 18 2 13 1-34 2 7 2 12 1 6 2 8 2 1 1-39 2 31 2-30 1 19 2 12 2-1 1-13 2-14 2 31 1-5 2-50 2 63 1-5 2-53 2 60 1-12 2-4"/>
<path d="M701 2799l2-4 1-55 2 5 2-11 1-53 2-46 2-2 1 7 2-7 2-69 1-19 2-19 2-13 1-42 2-3 2-35 1 4 2-16 2-19 1-31 2-12 2-15 1 45 2-58 2 13 1-37 2-31 2 12 1-22 2 10 2-16 1-21 2 10 2-44 1-20 2-10 2 57 1-82 2-20 2 24 2-15 1-37 2-29 2-27 1 23 2-30 2 4 1 27 2-62 2-31 1-1 2 37 2-34 1 9 2-16 2 9 1-47 2-9 2-47 1 47 2-20 2-33 1 10 2 2 2-9 1-14 2-6 2-22 1 37 2-8 2-69 1 30 2-16 2-25 1-1 2 32 2-7 1-25 2 2 2-7 1-3 2-39 2 54 1-38 2 61 2-69 1 10 2 20 2 11 1-35 2 23 2-11 1 39 2-27 2-5 1-1 2 11 2-22 1 35 2-28 2-33 1 13 2 33 2-40 1 15 2 50 2-49 1 46 2-27 2-1 1-7 2-17 2-3 1 22 2-25 2 23 2-5 1 36 2-29 2-10 1 25 2-10 2-16 1 9 2 26 2-29 1 3 2-31 2 53 1-14 2-40 2 39 1-29 2-4 2 4 1-10 2-1 2 6 1 29 2-25 2 17 1-2 2-7 2 12 1-21 2 15 2-7 1-32 2 41 2-29 1 17 2 6 2-30 1 24 2 30 2-33 1-3 2 32 2-25 1 3 2-1 2-12 1 8 2 19 2-42 1 61 2-35 2-8 1 22 2-35 2 18 1 5 2-3 2 17 1-44 2 21 2 19 1-31 2 10 2-4 1 9 2-10 2-8 1 18 2 1 2-10 1-1 2 3 2 23 1-28 2 23 2-1 2 8 1-15 2-1 2 5 1 10 2-32 2 11 1-24 2 29 2-9 1 21 2-32 2 52 1 1 2-68 2 45 1-29 2 24 2-40 1 24 2 24 2-4 1-23 2 10 2 16 1 18 2-12 2-37 1 3 2 8 2 6 1-37 2 18 2 11 1-11 2-25 2 27 1 27 2 6 2-45 1 29 2-11 2 8 1 25 2-31 2-11 1 7 2-5 2-22 1 42 2-27 2 34 1 3 2-26 2-1 1 0 2-1 2-13 1 4 2-31 2 54 1 10 2-29 2 6 1 7 2-9 2 7 1-26 2 28 2-5 1 3 2-27 2 6 2 33 1-34 2 1 2 28 1-9 2-18 2 20 1 1 2 24 2-11 1-29 2 10 2-22 1 17 2 15 2-19 1 4 2 18 2 34 1-33 2 1 2-19 1 20 2-37 2 7 1-15 2 50 2-23 1-1 2 1 2-3 1-4 2 6 2-26 1-12 2 15 2 8 1 28 2 4 2-24 1 36 2-27 2-13 1-21 2 31 2 7 1-19 2-1 2-4 1 43 2-35 2 2 1-3 2-2 2 3 1 34 2-10 2 0 1-36 2 17 2-33 1 41 2-6 2 24 1-26 2 19 2-32 1 6 2-31 2 21 1 6 2-18 2 28 1 22 2-40 2-2 1 35 2-12 2-22 2 19 1-22 2-23 2 25 1 22 2-6 2-2 1-20 2-7 2 34 1-9 2 31 2-63 1 47 2-5 2-14 1-40 2-4 2 53 1 4 2-5 2-26 1 4 2 10 2-31 1 28 2 2 2 10 1-35 2 41 2-21 1 3 2-21 2 4 1 21 2-23 2 18 1 1 2-11 2-15 1 43 2 9 2 1 1-44 2 7 2-8 1 9 2-1 2 1 1 9 2-11 2 13 1-78 2 81 2-54 1 79 2-72 2 25 1 5 2 32 2-59 1 10 2 27 2-39 1 67 2-22 2-50 1 44 2-9 2-24 1 36 2-24 2 24 2-18 1 32 2-14 2-14 1-10 2-12 2 22 1 10 2-6 2-18 1 3 2 17 2-2 1 30 2-72 2 23 1-5 2 21 2 22 1-57 2 21 2 23 1-26 2 22 2-38 1 55 2-16 2-27 1 47 2 6 2-33 1-1 2-10 2-17 1 38 2-22 2 10 1-16 2 5 2 10 1 8 2-7 2-18 1 35 2-17 2 3 1 3 2-3 2-27 1 8 2-18 2 41 1-47 2 32 2-12 1 1 2-3 2 23 1-14 2-9 2 2 1-3 2 41 2-41 1 16 2-11 2 14 1-11 2-18 2 21 1 20 2-2 2-47 1 44 2-6 2-17 1 16 2-29 2 24 2-35 1 33 2 6 2-33 1-5 2 20 2-31 1 39 2-6 2 43 1-50 2-24 2 33 1-10 2 23 2-33 1 11 2-4 2 2 1-8 2 25 2-9 1-20 2 24 2 2 1-25 2-5 2 10 1 15 2-10 2-4 1-29 2 21 2 7 1 12 2-12 0-3 2 10 2 13 1 8 2 1 2 15 2 10 2 14 2 9 1 9 2 9 2 8 0-17 2 23 1 4 2 27 2-43 1 7 2 0 2 45 1-34 2 7 2-19 1-1 2 21 2-58 1 31 2 21 2-11 1-33 2 27 2 6 1-10 2 29 2-28 1 14 2-29 2 27 1 16 2-3 2-44 1 27 2-11 2 4 2-6 1 1 2 15 2 28 1-31 2 35 2-47 1-16 2 19 2 12 1-17 2-8 2 52 1-4 2-6 2-12 1-5 2-14 2 6 1 8 2-21 2 17 1 4 2-9 2 3 1-1 2 27 2-41 1-4 2 11 2 25 1-10 2-33 2 11 1 41 2-60 2 42 1 32 2-69 2 39 1-31 2 17 2-5 1-31 2 32 2 16 1-9 2 37 2-62 1 13 2-20 2 6 1 47 2 6 2-5 1-18 2 0 2 32 1-6 2-33 2 27 1-21 2 32 2-19 1-13 2-20 2 15 2 7 1-1 2-5 2-14 1 15 2 1 2 25 1-21 2 10 2-26 1 0 2-5 2 6 1 23 2 21 2-40 1 52 2-39 2 13 1-48 2 36 2 5 1 16 2-35 2 8 1-1 2-20 2 48 1-19 2 38 2-41 1 12 2-40 2 13 1 0 2 50 2-39 1-24 2 26 2-25 1 56 2-40 2-8 1 7 2 36 2-35 1 31 2-25 2 2 1 19 2-30 2 21 1-20 2-21 2 27 1-5 2-6 2 13 1-4 2 24 2-18 2-24 1 16 2 6 2 15 1-2 2-29 2 45 1-14 2-11 2-11 1-34 2 77 2-10 1-3 2-39 2-3 1 13 2 3 2-21 1 19 2 29 2-62 1 48 2 2 2-20 1 6 2-2 2 4 1 21 2-42 2 76 1-27 2-20 2 6 1-9 2 25 2 2 1-48 2 31 2 11 1-33 2 20 2-5 1-6 2-2 2 22 1-37 2 33 2 3 1-13 2-21 2-9 1 5 2 13 2 16 1-57 2 71 2-42 1 27 2-27 2 4 1 21 2-30 2 57 1-51 2-6 2 36 2 4 1-40 2 31 2-41 1 56 2-34 2-15 1 38 2-13 2 7 1-26 2 41 2-18 1-28 2 19 2-19 1-5 2 50 2 3 1 3 2-63 2 25 1 14 2-43 2 1 1 64 2-30 2-4 1-21 2 64 2-50 1-9 2 57 2-40 1-33 2 48 2-3 1-27 2 20 2 24 1 4 2-11 2-33 1 35 2-10 2-41 1 30 2-15 2 22 1-24 2 44 2-38 1 5 2-5 2 39 1-39 2-22 2 18 1 32 2-4 2 39 2-48 1 2 2-11 2 12 1-2 2 5 2-42 1 61 2-28 2-7 1-4 2 15 2 11 1 6 2-14 2 28 1-70 2 38 2 14 1-2 2-10 2-21 1 8 2 19 2-21 1 26 2-32 2 13 1-24 2 17 2 23 1-14 2-16 2 62 1-52 2 18 2 17 1-45 2 15 2 0 1 17 2-6 2-19 1-9 2-3 2 34 1 9 2-22 2-2 1 23 2-35 2 4 1 52 2-27 2-11 1-44 2 53 2-25 1 31 2-3 2-13 1 12 2 16 2-4 1-26 2 11 2-13 2 5 1-21 2 46 2-24 1 11 2-31 2-19 1 21 2 24 2 4 1 22 2-27 2-6 1 20 2-14 2 8 1 15 2-58 2 51 1-61 2 33 2-3 1 11 2 29 2-34 1 5 2 8 2-28 1-10 2 38 2 1 1-4 2-8 2-16 1 35 2-27 2 35 1-38 2 9 2-3 1 42 2-33 2 23 1-31 2 45 2-27 1 12 2-9 2-29 1 44 2-17 2 28 1-66 2 9 2 38 1-6 2-54 2 29 1-4 2 23 2 13 2-5 1-20 2 6 2-1 1-22 2 34 2-12 1-45 2 44 2 13 1 18 2-27 2 10 1-17 2 13 2 1 1-6 2-12 2 0 1 45 2-14 2 4 1-21 2 6 2-47 1 29 2 17 2-18 1 12 2-32 2 13 1 36 2-67 2 53 1-1 2 3 2 19 1-2 2-29 2 4 1-13 2-4 2-13 1 13 2 38 2 0 1-8 2-7 2-17 1 6 2-24 2 33 1-5 2 2 2-15 1 1 2-1 2 32 1-8 2-17 2 25 1 0 2 6 2-45 1 34 2-9 2-10 2-18 1 17 2-7 2 30 1 23 2-71 2 24 1 13 2-34 2 16 1 24 2-46 2 56 1-9 2-18 2 1 1-4 2-10 2 17 1 12 2 0 2-8 1-32 2 12 2 36 1-15 2 3 2 24 1-56 2 40 2 1 1-39 2-17 2 14 1 21 2-34 2 4 1 26 2-12 2 22 1-22 2 12 2 9 1-20 2 15 2 5 1 5 2-16 2-11 1 6 2 18 2-24 1 17 2-2 2 9 1 7 2 4 2-33 1 14 2 9 2-13 2 9 1-41 2 73 2-36 1 26 2-28 2 17 1-2 2 13 2-41 1 26 2-36 2 10 1-6 2 23 2 32 1-58 2 51 2-22 1-12 2-6 2 33 1-12 2 11 2-22 1-32 2 1 2 44 1-26 2 21 2-13 1 0 2-32"/>
<path d="M703 3528l2-76 1-4 2-72 2-17 1-89 2-26 2-23 1-29 2-35 2-42 1-22 2-50 2-26 1-8 2-26 2-58 1 39 2-32 2-42 1 29 2-35 2-24 1 14 2-30 2 15 1-49 2-11 2 3 1-55 2 3 2-36 1 45 2-25 2-73 2 28 1-12 2 11 2-44 1 31 2-51 2 23 1-43 2-1 2-27 1 12 2-45 2 11 1 28 2-7 2-18 1-19 2-57 2 74 1-59 2 19 2-19 1-18 2-32 2 41 1-48 2-15 2 3 1 0 2-11 2 8 1-46 2-6 2 26 1-49 2-11 2 0 1-3 2-21 2 46 1-35 2-45 2 5 1 13 2-33 2-8 1 62 2-40 2-46 1-7 2 4 2 9 1-2 2-20 2-21 1 16 2 19 2-13 1-44 2 15 2 40 1-8 2-11 2 22 1-21 2 2 2-7 2-7 1-16 2 12 2-3 1-18 2-6 2 5 1 3 2 29 2-20 1-2 2 7 2-4 1-15 2-11 2 28 1 0 2-41 2 34 1-18 2 21 2 11 1-23 2 13 2-28 1 7 2-7 2 23 1-33 2 0 2-30 1 45 2-30 2 10 1 35 2-2 2 10 1-71 2 39 2-33 1 5 2 34 2-23 1-32 2 23 2 70 1-79 2 7 2 1 1 20 2-26 2-21 1 28 2 7 2-43 1 6 2 32 2-11 1-13 2 46 2-7 1-14 2 43 2-55 1-7 2 38 2-50 2-26 1 28 2-5 2 26 1-11 2 3 2-2 1 18 2-43 2-1 1 8 2-8 2 32 1-36 2 46 2-53 1-9 2 26 2 40 1-41 2 11 2-20 1 20 2 11 2-26 1-10 2 48 2-51 1 2 2 17 2-21 1 22 2 29 2-23 1-26 2 29 2-65 1 58 2-20 2 19 1-40 2 16 2 40 1-29 2-13 2-20 1 33 2-12 2 31 1-52 2 38 2 17 1-14 2-55 2-2 1 23 2-19 2 19 1 20 2-20 2 0 1-7 2 54 2-43 1-1 2-1 2-10 2 39 1-36 2 17 2 14 1-40 2 15 2 5 1-4 2-16 2-22 1 47 2-27 2 3 1-11 2 32 2 21 1-29 2-24 2 20 1 7 2 21 2-27 1-16 2 0 2 10 1-12 2 15 2-9 1 0 2-12 2-10 1 23 2-29 2 32 1-21 2 42 2-17 1-24 2 31 2-24 1 21 2-19 2-8 1-24 2-19 2 50 1 17 2-21 2-51 1 61 2-7 2-21 1 14 2 2 2-18 1 39 2-52 2 60 1-27 2-17 2-9 1-5 2 22 2-9 2 8 1 32 2-32 2 7 1-7 2-12 2 24 1 9 2-49 2 43 1-4 2-49 2 35 1-33 2 36 2-52 1 45 2 3 2-22 1 9 2 15 2 13 1-46 2 13 2-16 1 11 2 0 2 9 1 2 2-36 2 4 1 19 2-7 2 17 1-24 2-4 2-5 1 9 2 23 2-5 1-14 2 6 2-21 1 4 2-20 2 38 1-29 2 18 2 21 1-62 2 26 2-10 1 21 2-42 2 43 1 22 2-56 2 28 1-2 2-5 2 5 1 27 2-7 2-60 1 34 2-21 2 1 2 15 1-14 2 45 2-30 1 13 2-24 2 17 1-19 2 1 2 8 1-6 2 29 2-27 1-29 2 18 2 2 1 13 2-10 2 28 1-18 2 2 2-12 1-26 2 14 2-17 1 6 2-17 2-5 1 40 2-35 2 17 1-2 2 44 2-39 1-32 2 19 2 8 1 4 2-20 2 0 1-6 2 39 2-46 1 38 2-6 2-7 1 19 2-63 2 54 1-8 2 31 2-29 1-3 2-19 2 35 1-16 2-47 2-1 1 17 2 31 2-60 1 16 2 17 2-3 1 31 2 1 2-27 2-17 1 14 2-15 2 18 1-42 2 45 2-43 1 35 2-25 2 23 1-42 2 3 2 23 1 4 2 24 2-11 1-24 2-14 2-7 1 34 2-38 2-1 1-1 2 15 2 8 1-68 2 64 2-47 1 55 2-10 2-22 1-14 2 30 0-16 2 3 1 4 2 9 2 4 2 4 1 7 2 6 2 12 1-2 2 3 2 8 2-4 1 13 2 6 2 5 1 4 2 6 2 2 1 8 2-1 2 10 2-2 1 16 2-1 2 6 1 9 2-5 2 10 2 8 1 5 2 3 2 5 1 5 2 6 2 8 2 8 1-1 2 11 0 19 2-16 1-52 2 62 2-13 1-14 2 23 2 17 1-39 2 9 2 9 1-39 2 32 2-11 1 7 2 14 2 13 1-31 2 15 2 6 1-13 2 16 2 16 1-46 2 16 2-35 1-1 2 67 2-76 1 71 2 1 2-25 1-1 2-2 2-42 1 40 2-6 2 1 1-29 2 33 2-19 1 34 2-32 2 34 2-13 1-5 2-7 2 50 1-40 2-40 2 36 1 18 2-26 2 9 1 36 2-24 2-13 1 48 2-20 2-1 1-61 2 16 2 39 1-20 2-1 2 29 1-32 2 2 2 15 1-8 2-6 2-9 1 56 2-34 2 3 1 5 2 3 2-30 1 13 2-3 2 13 1-28 2-7 2 41 1 10 2-22 2 3 1-27 2 3 2 13 1-12 2 14 2-6 1-25 2 13 2 19 1-34 2 23 2-9 1 5 2 3 2 17 1-27 2 0 2 16 1-8 2-1 2-9 1 22 2-22 2 13 1-6 2 23 2-7 1-31 2 21 2 21 1-6 2-24 2 8 1-8 2-5 2-3 1 29 2 0 2 4 1-12 2-2 2-1 1-9 2-24 2 13 2 52 1 9 2-28 2-14 1 4 2-33 2 35 1-13 2 20 2-8 1 4 2 4 2-13 1-5 2-14 2 9 1 12 2-7 2 38 1-30 2 53 2-75 1 52 2-65 2 32 1 2 2 10 2-37 1 39 2 4 2-23 1 3 2 19 2-15 1 15 2-1 2-7 1-22 2 22 2-7 1 4 2-9 2 19 1-16 2 20 2 19 1-19 2-18 2-2 1 7 2-14 2 6 1 16 2-37 2 9 1 22 2-20 2 20 1-8 2 16 2 0 1-27 2 25 2 3 1-33 2 20 2-22 1 0 2 34 2 18 1-34 2-10 2-2 1 21 2 17 2 2 1-41 2 27 2-30 1 18 2-8 2 30 1-27 2-18 2-20 1 24 2 27 2 17 2-10 1-5 2-15 2 9 1-10 2-12 2 32 1-30 2 28 2-35 1 28 2 11 2 6 1-38 2 16 2 20 1-39 2 35 2-9 1 4 2-16 2-2 1 12 2-24 2 37 1-16 2 13 2-20 1 17 2-1 2-13 1 19 2-26 2 9 1 23 2-9 2-3 1 0 2 19 2-15 1 19 2 5 2-42 1-3 2-16 2 18 1 2 2 26 2-35 1 32 2 3 2-17 1 12 2-7 2-26 1 22 2 3 2 0 1-30 2 44 2-41 1 10 2-30 2 31 1 20 2-4 2-21 1 15 2 14 2-10 1-23 2 21 2-16 1 17 2 18 2-20 1-9 2 8 2 29 1-27 2-14 2-22 1 45 2-7 2 26 1-32 2 20 2 29 2-67 1 0 2 25 2 8 1 0 2 2 2-33 1 12 2 8 2-28 1 22 2-15 2 25 1-20 2-19 2 48 1 4 2-7 2-22 1 15 2 14 2-53 1 15 2-23 2 53 1-9 2 61 2-73 1 13 2-48 2 57 1-15 2 5 2 2 1 10 2-12 2 0 1-1 2-1 2 11 1-4 2-11 2-28 1 27 2 39 2-20 1 8 2-15 2-13 1 8 2 16 2 0 1-43 2 21 2-3 1-8 2-22 2 10 1-13 2 48 2-22 1 38 2-29 2 24 1-12 2-7 2-16 1 15 2-22 2 34 1-11 2-12 2 48 1-57 2 13 2 5 1-9 2-6 2 30 1-18 2 22 2-17 1 1 2 50 2-53 2-2 1 5 2-8 2 4 1 35 2-7 2-37 1 26 2-15 2-17 1 32 2-15 2-18 1 37 2-29 2-14 1 41 2 17 2-31 1-13 2-26 2 42 1 3 2 2 2-17 1 4 2 22 2-30 1 53 2-39 2 22 1 6 2-72 2 19 1 38 2-20 2-32 1 16 2 9 2 30 1-19 2 10 2-24 1-1 2 27 2-21 1 19 2-31 2 12 1 43 2-58 2 17 1 15 2 3 2-12 1-7 2-2 2-46 1 63 2-20 2 25 1 4 2-12 2 14 1-3 2-28 2 47 1-55 2 25 2 21 1-50 2 18 2 27 1 6 2 10 2-37 1 12 2-14 2 17 1-46 2 25 2 26 1-45 2 32 2 3 1 10 2-1 2-65 2 49 1-40 2 43 2 7 1-36 2 48 2-20 1-6 2-18 2 14 1-18 2 17 2 25 1-41 2 1 2 0 1 12 2 21 2-11 1 18 2 5 2 11 1-52 2 23 2 21 1-45 2 5 2-18 1 15 2-15 2 50 1-42 2 24 2 31 1-13 2-25 2 40 1-5 2-38 2 20 1-11 2-9 2-3 1 13 2-18 2 8 1 5 2 16 2 15 1-37 2 16 2 18 1-23 2 6 2 30 1-58 2 27 2 22 1-40 2 28 2 8 1-31 2 15 2-17 1 27 2-16 2 1 1-5 2 16 2-26 1 13 2 16 2-8 1-11 2-17 2 26 1-1 2 1 2 5 1-5 2 7 2-63 1 33 2 29 2 3 1-19 2-15 2 13 2-25 1 16 2 12 2-29 1 29 2 27 2 4 1 24 2-51 2 3 1 5 2-14 2-5 1-9 2 42 2-28 1-22 2 33 2-44 1 24 2 36 2-24 1-10 2 39 2-42 1 32 2 7 2-47 1 5 2 37 2 9 1-63 2 60 2-55 1 66 2-36 2-6 1 3 2 6 2-35 1 59 2-20"/>
<path d="M751 3705l2-51 1-51 2-2 2-46 1-62 2-17 2-22 1-11 2-69 2-50 1-22 2-21 2-42 1-1 2-49 2-26 1-51 2 13 2-37 2-33 1-6 2-18 2-52 1 30 2-31 2-28 1-15 2-21 2 10 1 0 2-57 2 18 1-36 2-5 2 14 1-19 2-38 2 32 1-58 2 19 2 1 1 1 2-6 2 7 1-34 2-1 2 1 1-8 2-18 2 10 1-27 2 25 2 2 2 2 1-45 2-13 2-11 1-28 2 14 2 5 1 30 2-20 2-6 1-40 2 3 2 8 1-10 2-14 2 45 1-11 2-23 2-45 1 25 2-30 2 14 1-30 2 30 2 0 1 11 2-20 2-14 1 14 2-32 2 32 2 4 1-43 2 32 2-3 1-43 2 21 2 14 1-38 2 23 2-10 1-28 2 48 2-16 1-30 2 43 2-49 1 5 2-33 2 55 1-33 2 37 2-43 1-13 2 17 2-33 1 4 2 11 2 43 1-60 2 8 2-17 1 17 2 7 2-5 1 30 2-76 2 10 2 28 1-42 2 46 2-27 1-31 2 37 2-36 1 15 2-20 2 41 1-16 2-16 2 32 1-16 2-4 2 2 1-12 2 53 2-85 1 31 2-1 2 5 1 29 2-48 2-3 1 6 2-9 2-2 1-17 2 10 2-10 2 10 1 14 2-46 2 26 1 0 2-9 2-29 1 64 2-21 2 16 1-24 2-50 2 40 1 3 2 3 2 6 1 0 2-10 2-10 1-3 2 24 2 14 1-47 2 20 2-33 1 30 2 8 2 21 1-20 2-28 2 15 1 11 2-30 2-11 1 30 2-20 2 4 2-10 1 2 2 10 2-21 1 51 2-41 2 1 1 9 2-1 2-34 1 19 2 15 2-26 1-5 2-5 2 21 1 32 2-42 2-13 1 27 2-5 2 24 1-38 2 3 2-4 1-29 2 7 2-6 1-2 2 38 2-14 2-15 1 42 2-38 2 19 1 29 2-40 2 33 1-63 2 42 2-19 1 12 2 15 2-8 1-4 2-12 2-4 1 8 2 35 2-51 1 61 2-37 2-17 1-2 2 4 2-14 1 14 2-33 2-13 1 55 2-10 2-3 1-6 2-9 2-27 1 55 2-38 2 27 2-33 1 24 2-26 2 5 1 42 2-31 2 8 1 4 2 9 2-13 1-13 2-1 2-1 1 16 2-42 2 33 1 26 2-42 2 13 1-9 2-25 2 62 1-18 2-21 2 24 1-52 2 44 2 15 1-12 2-24 2 9 2 8 1-51 2 47 2-43 1 8 2 22 2 34 1-42 2 23 2 7 1 2 2-26 2-2 1 14 2 2 2-19 1 26 2-31 0 19 2 0 2 1 2 8 1-3 2 8 2 5 2 2 2 2 2 6 1 1 2 5 2 3 2 3 0 28 2-28 2-3 3-15 2 25 2-25"/>
<path d="M1299 2320l2 31 1-72 2 56 2 36 1-75 2-17 2 54 1-13 2 4 2 1 1-20 2-9 2 16 1-8 2-24 2 24 1 9 2-1 2 16 2-7 1-26 2-4 2 9 1 25 2-31 2-3 1 8 2 27 2-31 1 16 2 29 2-32 1 15 2 9 2-18 1-2 2-5 2-3 1-14 2 13 2 22 1 2 2 33 2-45 1-9 2-7 2 9 1-6 2 11 2-16 1-23 2 27 2 2 2-6 1 12 2-5 2 37 1-62 2-8 2 40 1-21 2-2 2-30 1 54 2-38 2-18 1 44 2-19 2-28 1 42 2-10 2-43 1 38 2 11 2 8 1 2 2-27 2 4 1-11 2-17 2 50 1-25 2 9 2 0 1 15 2-44 2 57 2-47 1 26 2-5 2-4 1-31 2 13 2 22 1-8 2-10 2 17 1-26 2 8 2 22 1-39 2 35 2-8 1-2 2-3 2-10 1-8 2 29 2-20 1-3 2-25 2 53 1-44 2 9 2-23 1 15 2 68 2-69 1 29 2-34 2 4 1 31 2-17 2-28 2 31 1-24 2 32 2 12 1 6 2-29 2 19 1-20 2-4 2-23 1 3 2-6 2-6 1 33 2-4 2 14 1 19 2-20 2-31 1 59 2-3 2-60 1-24 2 47 2 25 1-20 2-3 2 15 1-4 2-32 2-4 1 57 2-35 2 17 2-63 1 28 2-28 2 23 1 12 2-17 2 28 1-7 2-13 2 27 1-66 2 54 2 0 1-1 2-40 2 59 1-27 2 9 2-22 1 15 2 0 2-19 1 15 2-9 2-11 1-9 2 14 2-6 1 1 2 4 2-2 1 25 2-14 2 6 1-15 2-16 2 3 2 6 1 17 2 10 2-24 1 10 2-14 2-12 1-14 2 11 2 7 1 19 2-33 2 27 1 17 2-33 2-8 1 8 2 11 2 2 1 15 2-21 2-26 1 55 2-38 2-49 1 33 2 35 2-30 1 23 2-32 2 6 1 3 2 5 2-9 2 23 1-42 2 37 2-2 1 8 2-33 2 16 1 3 2-20 2 1 1-18 2 32 2-18 1 38 2-10 2 8 1-8 2-9 2 6 1-6 2-27 2 44 1-28 2-20 2-4 1 33 2 8 2-18 1-6 2 0 2-13 1 5 2 6 2-10 2 14 1-28 2 24 2-3 1 3 2 13 2-30 1-5 2 5 2 35 1-61 2 35 2 36 1-23 2 6 2 3 1-12 2-33 0 28 2 5 1 3 2 2 2 3 2 6 1 8 2 4 2 5 1-4 2 11 2 10 2 8 1 1 2 1 2 7 1 8 2 4 2 3 2 9 1 2 2 3 2 5 1-4 2 17 2 3 2 1 1 8 2 1 2 10 1 5 2 6 2 4 2 6 1 0 2 4 0 5 2 2 1-22 2-5 2 29 1-14 2 11 2 1 1-39 2 46 2-25 1 17 2 1 2-18 1-2 2 39 2-12 1-19 2-42 2 84 1-9 2-42 2 35 1-35 2 37 2 0 1-20 2 5 2 0 2-8 1 44 2-40 2 16 1-29 2 19 2 2 1-10 2-50 2 68 1 6 2-9 2-29 1 26 2-33 2 11 1-3 2 34 2-29 1 7 2 28 2-42 1 18 2-19 2 11 1 13 2 11 2-25 1 18 2-3 2-26 1 48 2-47 2 18 1-10 2 11 2-21 1 41 2-9 2-7 1-9 2-12 2-8 1 36 2-6 2 43 1-21 2-55 2 33 1-7 2 29 2 19 2-75 1 28 2-59 2 70 1-21 2 16 2 10 1-14 2-11 2-28 1 44 2-32 2 36 1-20 2 28 2-20 1 20 2-21 2 7 1 1 2-13 2-2 1-15 2 35 2 8 1-44 2-9 2 43 1-55 2 51 2-8 1-25 2 31 2-5 1-4 2 10 2-1 1-5 2-32 2 30 1-2 2-11 2 30 1-20 2-7 2 11 1 13 2-1 2-14 1-26 2 62 2-31 2-15 1 2 2 0 2 22 1-7 2 7 2-10 1-32 2 19 2 16 1-9 2 17 2 5 1-44 2 43 2-24 1 19 2-11 2-6 1-5 2 19 2-48 1 51 2 5 2-56 1 42 2-30 2 44 1-33 2 10 2 36 1-33 2-6 2-9 1 3 2 41 2-13 1 5 2-5 2-12 1 22 2-33 2 15 1-22 2-14 2 9 1-1 2 21 2 8 1-3 2-27 2 29 2-31 1 27 2 10 2-2 1-16 2-21 2 34 1 18 2-3 2-20 1 4 2 33 2-15 1 10 2-2 2-40 1 14 2 2 2-14 1 25 2 5 2-29 1 16 2 19 2-44 1 3 2-6 2 21 1 18 2-26 2-6 1 9 2-30 2 29 1 45 2-28 2-18 1 31 2-33 2 35 1-32 2 11 2 6 1-18 2 19 2-27 1 18 2 9 2-25 1-31 2 26 2 42 2-29 1 22 2-43 2 9 1 20 2 7 2-39 1-4 2 46 2 13 1-29 2 28 2-40 1 12 2 16 2-17 1 35 2-11 2 12 1-48 2 8 2-14 1 17 2-20 2 23 1 0 2-4 2-14 1 51 2-34 2-10 1-6 2 18 2-23 1 41 2-15 2-8 1 22 2-64 2 66 1 2 2-6 2 8 1-27 2 44 2-53 1 5 2 30 2-3 1-32 2 22 2-18 2 3 1 11 2 0 2 9 1-10 2 21 2-51 1 40 2-58 2 72 1-37 2-10 2 50 1 20 2-74 2 28 1-3 2 6 2-1 1-3 2-10 2 6 1-8 2 10 2-14 1 14 2 21 2-23 1 21 2-37 2 37 1-16 2-18 2 12 1 13 2-19 2 23 1-48 2 1 2-13 1 64 2-39 2 36 1-24 2 11 2-23 1 22 2 1 2 19 1-6 2-35 2 12 2 66 1-51 2-21 2-23 1 42 2-27 2 16 1 20 2-17 2 4 1-23 2 11 2-5 1 8 2 11 2-21 1 36 2-32 2 13 1-30 2 25 2 30 1-11 2-13 2 14 1-12 2-26 2 24 1-10 2-30 2 40 1 24 2-8 2-16 1 18 2-16 2-15 1 13 2-9 2 15 1-10 2 29 2-29 1 20 2-38 2 29 1 1 2 20 2-37 1 47 2-90 2 36 2 8 1 6 2-25 2 34 1 19 2-47 2 14 1-16 2 2 2 22 1-2 2 3 2 18 1-49 2 10 2 28 1 5 2-2 2-28 1 28 2-23 2 25 1-26 2 18 2 11 1-12 2-9 2 3 1 23 2-16 2-26 1 16 2-9 2 17 1-22 2 9 2 2 1-17 2 14 2 34 1-10 2-7 2 21 1 12 2-40 2 28 1-33 2-6 2 29 1 8 2-27 2 20 2 8 1-31 2-4 2-1 1 41 2 1 2-41 1-3 2-11 2 22 1 0 2 44 2-50 1 14 2-17 2-26 1 14 2 0 2 40 1-37 2 16 2-3 1-20 2 47 2-25 1 23 2-21"/>
</g>
<g transform="scale(0.1)" fill="none" stroke="#ff0000" stroke-width="5" stroke-opacity="0.55" stroke-linejoin="round">
<path d="M470 1603l1 2 1-33 1 33 1-38 1 37 1-74 1 36 1-88 1 6 1-48 1 2 1-13 1 10 1 4 1-56 1-45 1 23 1-19 1-22 1 20 1-6 1-61 1-14 1-63 1 37 1 25 1-59 1 34 1-20 1-15 1-12 1-32 1 15 1-12 1-31 1-22 1 22 1-7 1-68 1 26 1-31 1 47 1-80 1-18 1-18 1 37 1-61 1 33 1-40 1 38 1-4 1-20 1-90 1 3 1-42 1 129 1-93 1-5 1 3 1 5 1-33 1 2 1-11 1-42 1 72 1-10 1-53 1-12 1 44 1 7 1-69 1 6 1-33 1 12 1-82 1 1 1 63 1-23 1 8 1-14 1 7 1-15 1-17 1 9 1-34 1 48 1-67 1 9 1 28 1-38 1 29 1 8 1-23 1-37 1 56 1-43 1-42 1 73 1-52 1 6 1 3 1-41 1 33 1-60 1 2 1 12 1 63 1-45 1 11 1-45 1 21 1-72 1 45 1 14 1-29 1-40 1 5 1 56 1 15 1-48 1 48 1-79 1 47 1-11 1 16 1-69 1 62 1-26 1-29 1 8 1 4 1 10 1-32 1-3 1 22 1-6 1 12 1 8 1-74 1 44 1 7 1-7 1-31 1 45 1 24 1-50 1-18 1 40 1-21 1 1 1 1 1-19 1 11 1-20 1-33 1 77 1-21 1-10 1 36 1-40 1 32 1-9 1-30 1-26 1 44 1-7 1 20 1-68 1 36 1 9 1 2 1-7 1 5 1-70 1 52 1-10 1-24 1 43 1-14 1-20 1-7 1 44 1-75 1 63 1-27 1 32 1 47 1-24 1-29 1 41 1 9 1-24 1 23 1-44 1 11 1-19 1-8 1 10 1-21 1 17 1 61 1-40 1-24 1 50 1-8 1-66 1 10 1 63 1-43 1 2 1-19 1-16 1 59 1-51 1 35 1 34 1-35 1-20 1 22 1-2 1-27 1 19 1-39 1-14 1 31 1-32 1 29 1 13 1 8 1 44 1-73 1 12 1-1 1-14 1 79 1-74 1 14 1 2 1 68 1-72 1-13 1 53 1-50 1-39 1 86 1-6 1-62 1 4 1 32 1-25 1-15 1 8 1 79 1-19 1-57 1 24 1 7 1-12 1 7 1 48 1-64 1-4 1 19 1-17 1 6 1 0 1-15 1 59 1-50 1 52 1-58 1-2 1 31 1-14 1 30 1-5 1 44 1-141 1 51 1 26 1-5 1 5 1 70 1-130 1 79 1-25 1 6 1 29 1-31 1 23 1 13 1-3 1-82 1 33 1-18 1 14 1 15 1 61 1-73 1 9 1 3 1 45 1-55 1 27 1 9 1-7 1-69 1 19 1 53 1-66 1 41 1-35 1 51 1-12 1-41 1 35 1-22 1 13 1 49 1-27 1 2 1 32 1-39 1 33 1-25 1-4 1-17 1-12 1-6 2 3 1 38 1-3 1-33 1 55 1-50 1 7 1-27 1 14 1 46 1-12 1-28 1 49 1-34 1 3 1 26 1-16 1-21 1-19 1 62 1-97 1 46 1-30 1 30 1 38 1-31 1-3 1 10 1 53 1-15 1-31 1-23 1 7 1 19 1-15 1 3 1-25 1-8 1 6 1 36 1-31 1 91 1-52 1 2 1 10 1-54 1-4 1 25 1 22 1-1 1 29 1-7 1-9 1 2 1-22 1 15 1-30 1-3 1 36 1-69 1 81 1 12 1-62 1 33 1-15 1-31 1 36 1 4 1 13 1-35 1 12 1-20 1 42 1-29 1 25 1-40 1 21 1-27 1 4 1 48 1-34 1 2 1 22 1-41 1 72 1-71 1 10 1 67 1-102 1 91 1-36 1 3 1-41 1 31 1-37 1 59 1-33 1-11 1 4 1 9 1 29 1-16 1-30 1-3 1-4 1 47 1-8 1-42 1-14 1 41 1-14 1 29 1-17 1 13 1 11 1 6 1-33 1 24 1-34 1-17 1 37 1 26 1 5 1-39 1-43 1 53 1-14 1 21 1 12 1-40 1-7 1 8 1-8 1-8 1 31 1-25 1 12 1-1 1-8 1 32 1-28 1 9 1 23 1-25 1-34 1 25 1 0 1 29 1 26 1-38 1-9 1 42 1-57 1 26 1 4 1-13 1-4 1 9 1 35 1-25 1-30 1 22 1 18 1 21 1-26 1-16 1 31 1-13 1-19 1-22 1 20 1 22 1-53 1-13 1 54 1-53 1 6 1 28 1-1 1 7 1 3 1 9 1-17 1-19 1-51 1 105 1-12 1-5 1-17 1-22 1 35 1-15 1-33 1 61 1-63 1 25 1 57 1-67 1 25 1 23 1-28 1-36 1 23 1 11 1-37 1 75 1-29 1 10 1-12 1 3 1-19 1-29 1 55 1-17 1 40 1-71 1 34 1 52 1-91 1 4 1 36 1 38 1-75 1 32 1-7 1-9 1 7 1 38 1-28 1-38 1 18 1 18 1-39 1 18 1 7 1-44 1 103 1-91 1 44 1-7 1-11 1 47 1-30 1-24 1 52 1-16 1-41 1-13 1 62 1-27 1-34 1 52 1-52 1 19 1-4 1-30 1 69 1 73 1-74 1-7 1-17 1 5 1 8 1 9 1-29 1 14 1-7 1 20 1 10 1 4 1-41 1-1 1 31 1-25 1 1 1 17 1-2 1 25 1-67 1 61 1-42 1 30 1-51 1 30 1-13 1 62 1-71 1 54 1-51 1-8 1 37 1 19 1-29 1 17 1-10 1-8 1 37 1-36 1 23 1-53 1 24 1 30 1-37 1-44 1 75 1-5 1-22 1 10 1-12 1 18 1 19 1-21 1-11 1-10 1 8 1-9 1 38 1-53 1 12 1 24 1-1 1-2 1-18 1 16 1-42 1-3 1 6 1 43 1 25 1-47 0 9 1 4 1 12 1-3 1 3 1 1 1 8 1 6 1 0 1-1 1 12 1-2 1 11 2-8 1 7 1 5 1-4 1 10 1 6 1 0 1 6 1 2 1 0 1 10 1-3 0-4 1-11 1 35 1-28 1-1 1-43 1 48 1 33 1-80 1 64 1-11 1-44 1 35 1 35 1-25 1 10 1 19 1-37 1 31 1-55 1 10 1 60 1-2 1-11 1-63 1 33 1-17 1 72 1-84 1 2 1 17 1 24 1-23 1 7 1 16 1-7 1-50 1 17 1 74 1-41 1 46 1-9 1-9 1-27 1 38 1-51 1 69 1-42 1 0 1-25 1-5 1 9 1-7 1-9 1-5 1 33 1 25 1 20 1-30 1-23 1 19 1 28 1-40 1 22 1-16 1-6 1-18 1 33 1-40 1-4 1 34 1 17 1-2 1-2 1-29 1 4 1 32 1 25 1-123 1 101 1-26 1-7 1-18 1 3 1-15 1 38 1-32 1 20 1-34 1 70 1-14 1-47 1 42 1-22 1-13 1 24 1 20 1 17 1-31 1 23 1-13 1 0 1 8 1-60 1 24 1 49 1-73 1 13 1 70 1-75 1 29 1 4 1-14 1 31 1-2 1-40 1 63 1-66 1 9 1 8 1 9 1-34 1 35 1-64 1 44 1-10 1 4 1 16 1 8 1-25 1 20 1-40 1 29 1 34 1-42 1 9 1 8 1 21 1-11 1-14 1-21 1 31 1-80 1 85 1-30 1 35 1-18 1 36 1-50 1-35 1 51 1-13 1 10 1 33 1-53 1 40 1 5 1 5 1-78 1 55 1-22 1 12 1-15 1 12 1 33 1 20 1-26 1-50 1 64 1-64 1 22 1 39 1-44 1 33 1-25 1-23 1 35 1-19 1 59 1 2 1-7 1-66 1 74 1-40 1 5 1-8 1-19 1 17 1 20 1 17 1-25 1-15 1-12 1 4 1 50 1-24 1-12 1-48 1-3 1 62 1-1 1 13 1-24 1-22 1-27 1 21 1-36 1 67 1 4 1 23 1-82 1 11 1 52 1-8 1-60 1 34 1 20 1-12 1 19 1-8 1-16 1 25 1-12 1 32 1-68 1 32 1-12 1 11 1 17 1 6 1-72 1 86 1-16 1-1 1-12 1 23 1-14 1-57 1 29 1 11 1-3 1-2 1 27 1-44 1 9 1-6 1 25 1 12 1-35 1 34 1-25 1 51 1-94 1 57 1 30 1-39 1-19 1 6 1 37 1-29 1 42 1-26 1-16 1 3 1 24 1 14 1-47 1-10 1 1 1 42 1 35 1-60 1 31 1-28 1 34 1-62 1 54 1-50 1 12 1 31 1-15 1 5 1 15 1-9 1 34 1-19 1-42 1 21 1-13 1 4 1 57 1-67 1 54 1 6 1 32 1-71 1 6 1 1 1-17 1 56 1 5 1-111 1 51 1 40 1-58 1 9 1 18 1-1 1-4 1 1 1 51 1-108 1 47 1-16 1 36 1-18 1 24 1-12 1 60 1-95 1 22 1 35 1-33 1 14 1-44 1 59 1-22 1 18 1-39 1 10 1-8 1 66 1-90 1 57 1-4 1 26 1-26 1-34 1 40 1-59 1 74 1-31 1-17 1 7 1 28 1-59 1 89 1-64 1 59 1-36 1 46 1-82 1 55 1-25 1-15 1 39 1-28 1-14 1 14 1-15 1 15 1 4 1 30 1-31 1-18 1 41 1-30 1-16 1-6 1 78 1-49 1 45 1-68 1-3 1 74 1-52 1 1 1-1 1-21 1 54 1-59 1 52 1-48 1 97 1-50 1 11 1-74 1 54 1-26 1-7 1 1 1 44 1-21 1-14 1-3 1-1 1 3 1 7 1-23 1 6 1-34 1 57 1 16 1-28 1 50 1-57 1 21 1 30 1-24 1-28 1 31 1-20 1 40 1-9 1-26 1 19 1 32 1-16 1-7 1-27 1-11 1-4 1 47 1-56 1 39 1 32 1-84 1 51 1-36 1 23 1 17 1-39 1-9 1 24 1 16 1-16 1-15 1 44 1-48 1-8 1 40 1 54 1-70 1 11 1-24 1 11 1-14 1 37 1-25 1-3 1 45 1-63 1 63 1-29 1-19 1 23 1-7 1 16 1-14 1 55 1-22 1 2 1-61 1 23 1 40 1-15 1-16 1-2 1 29 1-77 1 27 1-13 1 66 1-66 1 29 1 43 1-44 1 16 1-7 1 17 1 40 1-89 1 30 1 45 1 19 1-68 1 42 1-19 1-1 1-54 1-5 1 46 1-7 1 1 1-29 1 69 1-42 1 76 1-78 1 16 1 10 1-29 1-17 1 12 1 15 1-14 1 66 1-66 1 34 1 1 1-16 1-34 1 42 1 12 1-21 1-4 1-57 1 28 1 24 1 10 1 15 1-28 1 12 1-31 1 43 1 3 1-22 1 28 1-33 1-5 1 5 1 60 1-95 1 48 1-14 1 12 1-42 1 58 1-2 1-24 1-4 1 13 1 23 1-65 1 77 1-45 1 30 1-44 1 74 1-45 1 40 1-63 1 0 1 46 1-11 1-9 1 23 1-21 1-20 1-41 1-10 1 77 1-2 1-39 1 38 1-19 1 6 1 25 1-67 1 51 1 4 1-19 1 10 1-35 1 34 1 13 1 4 1-39 1 39 1-13 1 10 1-19 1 18 1-11 1 58 1-72 1 38 1-30 1-39 1 52 1 19 1-12 2 1 1-42 1 29 1-44 1 83 1-6 1-68 1 17 1-22 1 12 1 8 1-19 1 19 1 29 1-24 1 26 1-23 1 7 1-36 1 57 1-54 1 20 1-24 1 47 1-41 1 43 1 36 1-42 1-68 1 85 1-21 1 11 1-5 1 20 1-4 1-28 1-31 1 30 1 23 1-70 1 53 1-51 1 77 1 19 1-25 1-35 1 32 1 15 1 9 1-7 1-9 1-54 1 23 1 15 1-11 1-53 1 47 1-14 1 24 1 4 1-47 1 18 1 24 1-32 1 27 1-22 1 4 1 41 1-26 1-11 1 55 1-49 1 7 1 2 1 79 1-63 1 6 1-33 1 32 1 8 1-61 1 43 1 32 1 4 1-41 1 54 1-79 1 46 1-13 1-42 1 54 1-60 1 16 1 15 1-29 1 63 1-43 1-21 1 40 1-7 1-29 1 14 1 38 1-1 1-64 1 67 1 1 1 4 1-43 1-7 1 18 1-15 1 10 1-9 1 9 1-6 1 14 1 3 1-11 1-7 1 56 1-17 1-12 1-36 1 40 1-21 1 20 1-10 1 60 1-65 1-28 1 55 1 2 1 5 1-104 1 44 1 3 1-22 1 47 1 14 1 11 1-5 1-23 1 40 1-34 1-81 1 65 1-11 1 29 1-21 1 3 1 45 1-57 1-16 1 42 1 11 1-20 1 3 1-16 1-19 1 14 1-8 1 61 1-39 1 44 1-41 1-21 1 29 1 1 1 29 1-88 1 42 1 22 1-31 1 23 1-11 1 46 1-4 1-88 1 13 1 20 1 19 1-2 1-9 1 29 1 7 1-20 1-10 1 8 1-22 1 43 1 1 1-47 1 63 1-40 1 23 1-21 1-5 1 23 1-44 1 19 1-25 1 45 1-19 1-3 1-5 1 31 1-10 1-13 1-7 1 60 1-8 1-69 1 62 1-18 1-6 1 3 1-47 1 101 1-11 1-53 1-1 1 4 1-22 1 32 1-15 1-28 1 16 1-5 1 2 1 7 1 25 1-28 1-32 1 81 1-53 1 53 1-31 1 8 1-37 1 25 1-13 1 9 1 14 1-23 1 32 1-59 1 9 1 40 1 2 1 14 1 15 1-31 1 8 1-13 1-2 1-7 1 6 1-18 1 11 1 25 1-8 1 17 1-43 1 3 1 21 1-34 1-1 1 40 1-24 1 30 1-20 1-14 1-16 1 59 1-34 1-21 1-16 1 6 1 22 1 43 1-56 1 31 1-2 1-93 1 54 1 54 1-75 1 83 1-29 1-44 1 93 1-53 1 45 1-36 1-25 1 49 1 18 1-14 1-65 1 48 1-48 1 16 1 51 1-73 1 103 1-106 1 6 1 54 1-25 1 1 1-20 1 43 1-13 1-8 1-19 1-18 1 39 1-58 1 41 1 34 1 1 1-29 1-57 1 83 1 8 1-21 1 32 1-7 1-71 1 38 1-7 1 55 1-13 1-26 1 12 1 9 1-42 1 14 1 2 1-9 1 3 1 14 1-40 1 4 1 51 1 20 1 9 1-96 1 56 1-32 1 8 1 8 1 17 1 4 1-79 1 48 1 45 1-26 1-46 1 17 1 5 1 48 1 19 1-75 1 42 1-21 1 23 1-22 1-23 1 12 1 0 1 56 1-59 1 35 1-37 1 5 1 23 1-21 1 67 1-17 1-65 1 44 1 26 1-72 1 22 1 50 1-62 1 39 1-19 1 7 1-32 1 25 1-9 1 58 1-30 1-14 1-3 1 18 1-60 1 16 1 2 1 3 1-22 1 57 1-26 1 45 1-36 1-7 1 22 1 0 1-20 1 23 1 18 1-45 1 46 1-39 1 28 1-24 1-9 1 18 1-38 1-12 1 41 1-5 1-24 1 86 1-45 1-30 1 33 1 0 1-24 1 4 1-43 1 55 1 44 1-20 1-2 1-43 1-13 1 51 1-15 1-13 1-3 1 33 1-8 1-29 1 9 1-41 1 13 1 46 1-27 1-11 1 30 1 26 1-55 1 14 1 1 1 71 1-37 1-20 1-44 1 57 1-5 1-20 1-15 1 8 1-31 1 33 1-2 1-12 1 16 1-34 1 72 1-34 1-27 1 51 1-5 1-28 1-22 1 33 1 14 1 5 1 7 1-2 1-61 1 42 1-52 1 74 1-15 1 15 1-24 1-1 1-15 1-58 1 67 1 73 1-34 1-39 1 14 1 4 1-27 1 15 1 9 1-22 1 25 1 20 1-10 1-15 1-11 1 23 1-33 1-2 1 50 1-43 1-26 1 58 1-4 1 11 1-32 1 32 1-33 1-23 1 22 1 11 1-35 1 24 1 11 1-17 1 13 1-3 1-20 1 30 1 6 1-67 1 34 1 39 1-9 1-61 1 55 1 31 1-14 1-2 1-23 1 5 1-32 1 30 1 60 1-61 1-23 1 38 1-67 1 112 1-43 1-23 1-2 1-14 1 26 1-2 1-41 1 66 1-35 1-19 1 53 1-5 1-34 1-2 1 45 1-39 1 16 1 30 1-67 1-7 1 17 1 7 1 16 1 24 1-36 1 55 1-38 1-57 1 50 1 20 1 10 1-47 1 16 1 61 1-55 1-27 1-16 1 28 1 21 1-38"/>
<path d="M514 2357l1-70 1-18 1 28 1-78 1 29 1-41 1-93 1 32 1-21 1-42 1-34 1 31 1-48 1-10 1-26 1-1 1 0 1-11 1-26 1-42 1-14 1 0 1-1 1-54 1-50 1 22 1-10 1-47 1 24 1-62 1-5 1-9 1 15 1-90 1 28 1-11 1-39 1 13 1-59 1-28 1-17 1 0 1-24 1 28 1-25 1-50 1 67 1-47 1-60 1-17 1 39 1 24 1-54 1 23 1 7 1-33 1-37 1-35 1 7 1 43 1-43 1-35 1 6 1-3 1 26 1-53 1 56 1-51 1-5 1-47 1 32 1-11 1 4 1-46 1 17 1-54 1 6 1 79 1-81 1-15 1 36 1-36 1 66 1-74 1 9 1-33 1 30 1-36 1 64 1-98 1 24 1 0 1-56 1 9 1-13 1-30 1 46 1-91 1 35 1-2 1 32 1-18 1 26 1-2 1-33 1-35 1 39 1-44 1 6 1 4 1 34 1 26 1-42 1-50 1 32 1 5 1-61 1 22 1-26 1-3 1 14 1-3 1-28 1 16 1-37 1 24 1 4 1-20 1-32 1 16 1 27 1 11 1-3 1-2 1 15 1-60 1 38 1-54 1 64 1-23 1-55 1 42 1 5 1-49 1 27 1 12 1 23 1-65 1 52 1-69 1 3 1 55 1-18 1-41 1 58 1-29 1-10 1-15 1-62 1 66 1 23 1-28 1 18 1-23 1 37 1-114 1 87 1-39 1 28 1 10 1 11 1-11 1 9 1-60 1 28 1-63 1 64 1-54 1 70 1-25 1-14 1-12 1 20 1-22 1-24 1 46 1-35 1 33 1-39 1-8 1 88 1-44 1 14 1-40 1 4 1-1 1 50 1-36 1-16 1-6 1 2 1 24 1-28 1-1 1 33 1-12 1-6 1 30 1-56 1-28 1-14 1 39 1 7 1 18 1-64 1 1 1 28 1-3 1-31 1 31 1 22 1-26 1 67 1-44 1-41 1 15 1-33 1 93 1-65 1-2 1 26 1-29 1-10 1 15 1 28 1-1 1-64 1-8 1 54 1-21 1-5 1 39 1-17 1-26 1 29 1-37 1 6 1 62 1-57 1 20 1-22 1-2 1-22 1-1 1 62 1 25 1-41 1-3 1-31 1 13 1 40 1 28 1-50 1-9 1 18 1-26 1-24 1-4 1 16 1-4 1-53 1 15 1 68 1 3 1-4 1-28 1-13 1 16 1 10 1-22 1 41 1-47 1-45 1 80 1 5 1-29 1 32 1 4 1-100 1 78 1-43 1 50 1-12 1 15 1-29 1-10 1 23 1 57 1-53 1-40 1 27 1-6 1 40 1-31 1-12 1 13 1-24 1 31 1-42 1 17 1 17 1-42 1 0 1 15 1 59 1-17 1-21 1 25 1-4 1-39 1-13 1 60 1-49 1 34 1-59 1 39 1-31 1 50 1 3 1-10 2 10 1-36 1 25 1 5 1-39 1 39 1-9 1 5 1-19 1 4 1 14 1-10 1 12 1-51 1 61 1-47 1 49 1-66 1 21 1 23 1 3 1-22 1-13 1 40 1 11 1-51 1-9 1 16 1 13 1-44 1 19 1 45 1-39 1-1 1 62 1-12 1 15 1-44 1-4 1-7 1-28 1-18 1 54 1-19 1 37 1 9 1-66 1 4 1 42 1 31 1 4 1-60 1 20 1 36 1-58 1-6 1 61 1-54 1-13 1 73 1-53 1 0 1 26 1 24 1-18 1-15 1 5 1 0 1-4 1-54 1 54 1-44 1 16 1 23 1-7 1 12 1-10 1 13 1 35 1-77 1 57 1 20 1-60 1 1 1 7 1 15 1-31 1 8 1 9 1 2 1 36 1-51 1 35 1-1 1-16 1-2 1-25 1 2 1 28 1-3 1-14 1 38 1-27 1-3 1-6 1 32 1-14 1-6 1-42 1 77 1-81 1 47 1-42 1-10 1-44 1 87 1 3 1-18 1-3 1-24 1 34 1-7 1-32 1 26 1 4 1-21 1 58 1-64 1 85 1-21 1-43 1 55 1-14 1 3 1-28 1-31 1-30 1 63 1-11 1-13 1 70 1-42 1-52 1 35 1 17 1-46 1 38 1-15 1-31 1 50 1 7 1-87 1 80 1-27 1 6 1-35 1 17 1 72 1-28 1-23 1 6 1-24 1 18 1-20 1 29 1-36 1 34 1 15 1-29 1 13 1 2 1-22 1-23 1 65 1-26 1-11 1 40 1-54 1 8 1-6 1-9 1 23 1-13 1 53 1-54 1 49 1-56 1 15 1 9 1-24 1 40 1-34 1-2 1 35 1-38 1 36 1 11 1-8 1 16 1-48 1 43 1-46 1-30 1 38 1 55 1-77 1 72 1-84 1 60 1-11 1-25 1-47 1 76 1-1 1-5 1 12 1-46 1 72 1-28 1-44 1 76 1-57 1 12 1 9 1-45 1-1 1 19 1-26 1 24 1 41 1-66 1 31 1-17 1 36 1-53 1 1 1 24 1 56 1-77 1-21 1 18 1 44 1 5 1-26 1 8 1-43 1 46 1-15 1-13 1 42 1 1 1-40 1 17 1-56 1 22 1 61 1-64 1 5 1 53 1-90 1 42 1 37 1-32 1-12 1-4 1 32 1-31 1 32 1-12 1 4 1 28 1-42 1-12 1 24 1 6 1-12 1-40 1 61 1-63 1-7 1 76 1 14 1-47 1-14 1 57 1-71 1 33 1-15 1 30 1-8 1-28 1 48 1-10 1-19 1-9 1 5 1-31 1 26 1-1 1 21 1-21 1-5 1 16 1 18 1-11 1-18 1-9 1 46 1-35 1-32 1 36 1-52 1 31 1 30 1-21 1-5 1 27 1 11 1-56 1-5 1 10 1-12 1 42 1 6 1-23 1-25 1-14 1 36 1-17 1 31 0-16 1 6 1 3 1 9 1 2 1 1 1 2 1 5 1-7 1 13 1-1 1 10 1 0 1 4 1-4 1 17 1-6 1 1 1 0 1 6 1-6 1 16 2 0 1 0 1 9 1-1 1 3 1-1 1 6 1-3 1 3 1 8 1 0 1 0 1 8 1-4 1 16 1-6 1 2 1 13 1-9 1 0 1 11 1 2 1 8 0-5 1-40 1 45 1-10 1 39 1-24 1-32 1 6 1 18 1-11 1 16 1 2 1-37 1 36 1 15 1-52 1-6 1 57 1-6 1 10 1 22 1-49 1-24 1 33 1-23 1 27 1 10 1-17 1 12 1-14 1 6 1-36 1 73 1-61 1 7 1-8 1 12 1-5 1-40 1 92 1-31 1-17 1 7 1 27 1-5 1-14 1 15 1-90 1 89 1-28 1-14 1-7 1 29 1-48 1 54 1-29 1 39 1-65 1 56 1-22 1-19 1 63 1-4 1-53 1 17 1 45 1-35 1-19 1-9 1 5 1 35 1 9 1-34 1-17 1 6 1-27 1 59 1-12 1 28 1 30 1-23 1-46 1 2 1-26 1-20 1 103 1-42 1-47 1 58 1-73 1 49 1 8 1-20 1 3 1 34 1-34 1 44 1-77 1 36 1 56 1-72 1 0 1 27 1-12 1 18 1 20 1-12 1-9 1-16 1 16 1 19 1-47 1 12 1-19 1 30 1 4 1-18 1-15 1 9 1 37 1-32 1 37 1-38 1-4 1 41 1-41 1 50 1-87 1 58 1-15 1 4 1 17 1-59 1 108 1-67 1 76 1-42 1-16 1-47 1 86 1-28 1 15 1-73 1-6 1 37 1 24 1 7 1 11 1-55 1-13 1 56 1-47 1 26 1 55 1-65 1 21 1-3 1-7 1 10 1 4 1-12 1 39 1-15 1-52 1 65 1-35 1-8 1-16 1 41 1-21 1-20 1-1 1 52 1-39 1-2 1 77 1-57 1 8 1-13 1-5 1-24 1 44 1-11 1-29 1 19 1 49 1-39 1-6 1-18 1 1 1 30 1 8 1-17 1 18 1-45 1 11 1 20 1 21 1-43 1 37 1-53 1 57 1 5 1-42 1 18 1 10 1-37 1 7 1-1 1 26 1 10 1-48 1 5 1 36 1-34 1 12 1 26 1-20 1 26 1-24 1-6 1-16 1-39 1 48 1-37 1 68 1-1 1-8 1 18 1 25 1-100 1 42 1 24 1-27 1 3 1 32 1-15 1-50 1 74 1-59 1 27 1 9 1-58 1 88 1-27 1-8 1 11 1-27 1 25 1-2 1-74 1 26 1 56 1-52 1 42 1-19 1 23 1-65 1 49 1-2 1 7 1-2 1-4 1 8 1 3 1-27 1 52 1-37 1-17 1 34 1-56 1 66 1-37 1 10 1 0 1 11 1-29 1 4 1 21 1-25 1 15 1-3 1-6 1-9 1-3 1 10 1-20 1 2 1 99 1-69 1 23 1-16 1 11 1-15 1 23 1-21 1 2 1-38 1 56 1-30 1 4 1 12 1-4 1-7 1 32 1-54 1-29 1 43 1-49 1 53 1 37 1 7 1-67 1 38 1-41 1 39 1 27 1-51 1 55 1-32 1 61 1-83 1-7 1 56 1-10 1-8 1-35 1 24 1-17 1 53 1-23 1-33 1-4 1-16 1 22 1 15 1 11 1 17 1-40 1 45 1-84 1 49 1 19 1-29 1 19 1 15 1-35 1 19 1 23 1-59 1 60 1-32 1-34 1 47 1 8 1-22 1 13 1 4 1-11 1 2 1 18 1-1 1-20 1-47 1 14 1 23 1 39 1-16 1 33 1-34 1-1 1-19 1 40 1-67 1 44 1-12 1-10 1 38 1-7 1-7 1-19 1-29 1 3 1-31 1 30 1 43 1 28 1-65 1 61 1 17 1-20 1 15 1-45 1-11 1 19 1 18 1-12 1-7 1 15 1-43 1 43 1-71 1 88 1-1 1 25 1-84 1 8 1-12 1-11 1-22 1 80 1-26 1 3 1-44 1 51 1 49 1-49 1 18 1-52 1 58 1-29 1 4 1 6 1-15 1 24 1-21 1-8 1-17 1-2 1 53 1 5 1-30 1-3 1-10 1 20 1 32 1-30 1-21 1 42 1-8 1-66 1 34 1 45 1-22 1-12 1 13 1-42 1 1 1 27 1 6 1 39 1-45 1 11 1 32 1-55 1 8 1 8 1 6 1-3 1 14 1-49 1-3 1 32 1-41 1 84 1-62 1 6 1 30 1-7 1 6 1-16 1-33 1 30 1-13 1-27 1 36 1 32 1-49 1 5 1-1 1 40 1-73 1 65 1-9 1-6 1-22 1 18 1 57 1-45 1-16 1 32 1-54 1 62 1-32 1 68 1-7 1-43 1-4 1-22 1 26 1 4 1-55 1-4 1 54 1-30 1 19 1-1 1 1 1-10 1 22 1 22 1 4 1-52 1 13 1-1 1-41 1-2 1 37 1 16 1 8 1-38 1 34 1-20 1-8 1 37 1-70 1-16 1 110 1-51 1 21 1-23 1-15 1-12 1-17 1 52 1-32 1 24 1 10 1-9 1 4 1 37 1-32 1-1 1-10 1 41 1-4 1-48 1 25 1-14 1-8 1-12 1 71 1-33 1-69 1 83 1 18 1-43 1-4 1 5 1 20 1-38 1 25 1-50 1 70 1-60 1 19 1 21 1 15 1-45 1 1 1 57 1-56 1-5 1 8 1 31 2 1 1 8 1-15 1-22 1 23 1 8 1-50 1 14 1 15 1 43 1-50 1 10 1-1 1 9 1 7 1-44 1-47 1 94 1-75 1 63 1 3 1 7 1-45 1 36 1 9 1 0 1 15 1-59 1 12 1 7 1 6 1 28 1-5 1-19 1 43 1-30 1-46 1 64 1-68 1 1 1 22 1-1 1 9 1 3 1-21 1 2 1 36 1-10 1-13 1-16 1 22 1-26 1-8 1 60 1-8 1-27 1 51 1-45 1 20 1-4 1-10 1 1 1 36 1-16 1-72 1 64 1-73 1 31 1 38 1-40 1 61 1-42 1 25 1-7 1 13 1 13 1-72 1 37 1 6 1 22 1-13 1-21 1-29 1-6 1 18 1 29 1-1 1 34 1-30 1 12 1-56 1 42 1-19 1-3 1 48 1-32 1-2 1 2 1-35 1-8 1 92 1-48 1-1 1 6 1-18 1 4 1-15 1 31 1-12 1 31 1 13 1-68 1 45 1-28 1 67 1-51 1 20 1-38 1 46 1-52 1-14 1-31 1 62 1-9 1 15 1-29 1 24 1-1 1-27 1 78 1 8 1-50 1 7 1 3 1 2 1-40 1 28 1 40 1-51 1-3 1-17 1 13 1-46 1 56 1 29 1-19 1-4 1-3 1 0 1-29 1-22 1 98 1-35 1-71 1 100 1-53 1 36 1-28 1-14 1 39 1-31 1-56 1 79 1-17 1 1 1-7 1 20 1 28 1-13 1-18 1-6 1-22 1 66 1-97 1 25 1 21 1 8 1 4 1-18 1 61 1-18 1-82 1 25 1-11 1 73 1-49 1-29 1 33 1-26 1 35 1 17 1-48 1 36 1 2 1-27 1 32 1-30 1 34 1-21 1-8 1 49 1-11 1-34 1-75 1 90 1-20 1 23 1-10 1-8 1-2 1 46 1 3 1-5 1-65 1 20 1 15 1-56 1 79 1-57 1 54 1-40 1 25 1-57 1-21 1 46 1-16 1 1 1 22 1 20 1 14 1-47 1-15 1 37 1-26 1-4 1 20 1 41 1-22 1-63 1 107 1-87 1 39 1-25 1 47 1-15 1 21 1-25 1-10 1 36 1-83 1 17 1-5 1 34 1-8 1-10 1 42 1-5 1-27 1-25 1 95 1-48 1-24 1 20 1 5 1-26 1 37 1-16 1-16 1 42 1-41 1 46 1-30 1-11 1 38 1-41 1 25 1 21 1-45 1-6 1 36 1 6 1-85 1 72 1 17 1-45 1 41 1-35 1-8 1 9 1 28 1-30 1-5 1 16 1 20 1-75 1 83 1 8 1-65 1 26 1 14 1-10 1 47 1-46 1-18 1 4 1 20 1-29 1 4 1 2 1 58 1-27 1-48 1 44 1-84 1 71 1 17 1-7 1 5 1-9 1-23 1 12 1-1 1-32 1 41 1-28 1 43 1 43 1-3 1 13 1-80 1-1 1 29 1-41 1 41 1-32 1 24 1-19 1 52 1-11 1-9 1-54 1 65 1-43 1-25 1 44 1 20 1-68 1 61 1-27 1 1 1 18 1-22 1-9 1 47 1-94 1 92 1-61 1 66 1-63 1 68 1-82 1 93 1-44 1-9 1-3 1 36 1-32 1 21 1-12 1-33 1 73 1-48 1 12 1-1 1-7 1 45 1-35 1-17 1 9 1-10 1-22 1 59 1-55 1 58 1-30 1 20 1-23 1-7 1 69 1-71 1-15 1 36 1 26 1-71 1 20 1 37 1 2 1-10 1-26 1 17 1-24 1 30 1-12 1 7 1-13 1 25 1-18 1-21 1 57 1-31 1-13 1 2 1 44 1-37 1 5 1-29 1 12 1-6 1-7 1-6 1 19 1-25 1 50 1 3 1-43 1 33 1-29 1 26 1 3 1-55 1-21 1 77 1 0 1-14 1-14 1-4 1-49 1 104 1-96 1 65 1-12 1 13 1-40 1 10 1 34 1-41 1 31 1-36 1 38 1 8 1-12 1 14 1-45 1 16 1 5 1 46 1-52 1 15 1 31 1-26 1 18 1-51 1 53 1-26 1 13 1 5 1-67 1 78 1-40 1 41 1-37 1 12 1-45 1 10 1 56 1-48 1 28 1-8 1-28 1 24 1 1 1 20 1-26 1-5 1 52 1 1 1-35 1-28 1 37 1-24 1 50 1-38 1-15 1 8 1-16 1 22 1-31 1 39 1 15 1-8 1-37 1 34 1-21 1-26 1 34 1 25 1-17 1-14 1-8 1 15 1 13 1-7 1 25 1-9 1 5 1-33 1 19 1-10 1 9 1-2 1 55 1-92 1 39 1-22 1 23 1-4 1 33 1-43 1-13 1 25 1-1 1-61 1 102 1-71 1 63 1-8 1 4 1-30 1-26 1 2 1 51 1-44 1 22 1-19 1-5 1 39 1-48 1 18 1-2 1 11 1-6 1-24 1 16 1 2 1 58 1-30 1-22 1 7 1-12 1 50 1-47 1-20 1 127 1-123 1 6 1-11 1 36 1-28 1-2 1 45 1 11 1-28 1-35 1 39 1-28"/>
<path d="M560 2573l1-1 1-20 1 10 1-54 1-19 1-58 1-39 1 47 1-75 1 19 1-34 1-42 1 9 1 20 1-26 1-63 1-11 1-61 1 7 1 3 1 1 1-1 1-35 1 31 1-66 1 29 1-54 1 6 1 3 1 5 1-47 1-2 1-6 1 4 1 21 1-28 1-35 1-9 1 31 1-6 1-17 1-36 1-31 1-6 1 13 1-39 1 13 1 50 1-55 1 3 1-57 1 51 1-55 1 2 1-7 1-14 1-25 1 19 1 27 1-72 1 20 1-59 1 25 1-34 1 42 1-57 1 17 1-24 1-43 1 22 1-12 1 10 1-34 1-51 1 10 1 2 1 21 1-36 1 22 1-40 1 8 1 6 1-31 1-56 1 63 1-44 1 17 1-99 1 61 1-10 1-18 1 0 1-31 1-7 1 27 1-26 1 17 1-17 1-36 1 10 1-17 1 14 1 21 1-49 1-22 1 60 1-69 1-19 1 1 1-53 1 86 1-17 1-8 1-21 1-25 1-16 1-13 1 32 1-2 1-10 1-52 1 69 1-74 1 14 1-7 1-17 1-51 1 20 1 11 1 35 1-42 1 13 1-45 1 16 1 35 1 10 1-43 1 0 1-17 1-12 1 0 1 18 1-48 1-17 1 39 1-36 1 20 1-42 1 29 1-22 1-8 1 26 1-38 1-50 1 26 1 21 1 44 1-56 1-24 1 11 1 38 1-21 1 0 1-2 1 22 1-75 1 64 1-21 1-42 1 40 1 15 1-43 1 30 1-82 1 15 1 49 1-12 1 13 1-5 1 7 1-60 1-1 1 65 1-22 1-8 1-7 1 45 1-61 1 27 1 26 1-53 1-1 1 6 1-44 1 78 1-4 1 20 1-47 1 10 1 6 1 24 1-34 1 3 1-30 1 25 1-10 1 26 1-9 1-48 1 0 1 36 1-21 1 18 1 20 1-61 1 41 1-36 1 23 1-3 1-25 1-33 1 48 1-22 1 35 1-3 1 20 1-10 1-64 1 4 1 21 1 19 1 9 1-25 1 26 1-33 1 51 1-40 1-2 1 0 1 13 1 36 1-33 1 19 1-43 1 35 1 2 1 6 1-50 1 1 1 23 1 13 1-37 1 26 1 34 1-90 1 17 1 26 1 17 1-13 1 13 1 23 1-49 1-9 1 56 1-78 1 64 1 11 1-27 1-22 1 18 1-18 1 64 1-36 1-14 1 9 1 1 1 13 1-18 1-29 1 12 1-20 1-9 1 41 1-20 1 9 1 20 1 7 1-21 1-17 1 30 1-38 1 59 1-50 1 39 1-55 1 46 1-9 1-16 1 30 1-14 1-11 1-5 1 14 1-9 1-24 1 2 1 13 1-26 1-20 1 70 1-36 1 72 1-53 1 15 1-2 1-18 1-11 1-32 1 12 1-7 1-2 1-3 1 43 1-55 1 90 1-62 1 31 1-3 1 3 1-14 1-3 1 8 1 19 1-5 1-14 1-42 1 15 1 24 1 27 1 7 1-52 1 23 1-24 1-10 2 26 1 12 1-9 1-66 1 89 1-83 1 79 1 9 1 44 1-118 1 24 1 16 1 8 1-24 1 40 1-39 1 11 1-2 1 20 1-7 1-53 1 60 1-47 1 2 1 5 1 12 1 21 1 0 1-53 1 35 1 29 1-4 1-19 1-24 1 34 1-22 1-29 1-29 1 76 1 17 1 20 1-17 1-23 1-15 1 8 1 12 1-48 1 33 1-13 1 27 1-3 1-71 1 14 1 39 1 14 1-36 1 24 1-4 1-13 1-3 1 24 1 21 1-45 1 28 1-8 1-20 1-1 1-10 1 27 1 11 1-23 1-39 1 47 1-5 1-8 1 38 1-49 1 12 1 11 1 34 1-65 1 32 1-53 1 29 1 10 1-27 1 47 1-8 1-26 1 22 1-22 1 11 1 1 1 40 1-58 1 37 1 15 1-27 1 13 1 36 1-80 1-1 1 43 1-14 1 37 1-53 1 16 1 14 1-70 1 90 1-35 1-25 1 7 1 2 1 47 1-57 1 56 1-49 1 26 1-21 1 8 1 25 1-27 1-13 1 39 1 27 1-57 1-2 1-8 1-21 1 15 1 28 1-26 1 24 1-4 1 11 1 22 1-41 1-33 1 40 1 8 1 31 1-45 1-18 1-7 1 38 1-21 1 31 1 8 1-34 1 14 1-14 1 14 1-50 1 12 1 62 1-79 1 11 1 40 1-39 1 13 1-12 1 60 1-41 1 44 1-36 1-47 1 44 1-50 1 70 1-80 1 82 1-13 1 24 1-27 1-5 1-17 1-6 1-3 1 9 1 3 1 65 1-49 1-34 1 56 1-32 1-21 1 21 1-20 1 30 1-22 1 35 1-59 1 37 1-40 1 80 1-77 1 80 1-57 1 32 1-47 1 12 1 44 1-70 1 48 1-56 1 94 1-26 1-75 1 37 1 37 1 30 1-60 1-46 1 79 1-53 1 20 1-13 1-24 1-23 1 98 1-37 1-3 1-17 1 25 1-38 1-3 1-7 1-2 1 45 1-47 1 87 1-52 1-9 1 5 1 47 1-101 1 60 1 45 1-18 1-20 1-19 1 71 1-73 1 61 1-75 1-16 1 41 1-12 1-52 1 62 1 64 1-68 1 15 1-12 1 0 1 6 1-2 1-5 1 9 1 2 1-8 1-43 1 16 1-8 1 23 1 46 1-33 1-18 1 63 1-31 1-39 1 30 1 14 1-2 1-41 1 22 1-24 1-18 1 48 1-65 1 47 1 30 1-10 1-18 1 11 1-6 1 30 1-20 1 5 1-37 1 14 1-10 1 40 1-5 1-19 1 19 1-20 1-6 1 19 1-8 1 53 1-93 1 58 1-50 1 45 1-47 1-19 1 85 1-45 1 46 1-61 1-3 1 53 1-48 1 17 1-25 1 16 1-50 1 46 1 6 1 27 1 1 1-28 1 5 1-4 1 56 1-74 1 40 1-19 1-36 1 47 1 16 1-22 1-38 1 44 1 1 1-27 1 34 1-66 1 10 1 22 1 9 1 23 1 1 0-30 1 10 1 6 1 0 1-1 1 3 1 1 1-1 1 7 1 1 1 9 1 3 1 4 1 3 1 4 1-1 1 4 1 6 1 7 1-10 1 6 1 6 1 0 1 5 1 6 2 0 1 9 1 3 1 3 1 2 1 4 1-11 1 18 1-4 1 15 1-8 1 7 1-4 1 5 1 8 1 4 1 7 1 1 1 5 1 5 1-10 1 15 1-6 1 7 1 2 0 25 1-1 1-7 1-26 1-36 1 49 1-2 1 2 1 13 1 36 1-22 1-17 1-25 1-18 1 71 1-21 1-17 1-41 1 31 1 25 1-5 1-22 1 16 1-11 1-4 1 46 1-17 1-11 1-20 1 47 1-70 1 41 1-34 1-27 1 42 1-41 1 45 1-29 1 36 1-13 1-28 1 29 1-9 1 58 1-1 1-17 1 3 1 40 1-55 1-2 1 36 1-24 1-40 1 65 1-36 1 32 1 4 1-51 1 11 1 14 1-48 1 8 1 29 1-4 1-24 1 22 1 12 1-28 1-3 1 16 1-24 1 5 1 12 1-40 1 35 1 21 1-33 1 57 1-21 1 26 1-36 1 18 1-18 1-26 1 43 1-34 1 33 1-40 1 26 1-8 1 40 1-40 1 37 1-15 1 25 1-49 1 35 1-1 1-6 1-10 1 29 1-72 1 56 1-35 1 29 1 8 1-13 1-16 1-18 1-13 1 19 1 30 1-50 1 105 1-68 1-19 1 47 1 2 1-18 1-30 1 21 1 28 1-10 1-71 1 72 1 24 1-63 1-31 1 29 1 23 1-8 1 0 1-75 1 62 1-1 1 16 1 32 1-51 1 50 1 6 1-9 1-40 1 48 1-45 1 5 1-34 1 14 1 2 1 59 1-26 1-2 1-17 1-2 1-14 1 16 1 45 1-41 1 58 1-38 1-24 1 43 1-34 1 27 1-40 1 51 1-26 1-5 1 19 1-39 1-40 1 32 1 46 1 16 1-75 1 48 1 2 1-50 1-10 1 90 1-35 1-19 1 22 1-57 1 53 1-13 1-6 1 37 1-28 1 0 1-13 1-9 1 18 1 41 1-90 1 23 1 12 1 32 1-34 1 33 1-71 1 28 1 46 1-81 1 69 1 28 1-17 1 2 1-42 1 7 1 42 1-18 1 37 1-34 1-7 1-4 1 38 1-12 1-39 1 29 1-38 1 47 1-31 1 44 1 2 1-18 1-62 1 27 1 22 1 0 1 2 1 18 1-45 1-15 1-4 1 65 1-5 1-36 1 11 1 35 1-43 1 27 1 3 1-14 1 15 1 8 1-40 1-35 1 41 1-36 1-6 1 64 1-45 1 14 1 16 1-28 1 40 1 35 1-73 1 21 1-68 1 45 1 69 1-47 1-10 1 25 1-21 1 47 1-42 1-14 1 9 1-61 1 81 1 3 1-64 1-23 1 56 1 21 1 35 1-64 1 2 1 20 1 36 1-59 1 14 1-10 1 45 1 16 1 15 1-11 1-20 1-39 1 29 1 20 1-12 1-44 1 16 1-4 1 37 1-19 1-18 1 30 1-8 1-28 1 46 1-26 1-6 1-23 1 30 1 10 1-73 1 40 1 10 1 22 1-48 1 87 1-60 1-17 1 20 1 27 1-24 1-19 1 26 1 2 1-5 1-29 1 35 1 99 1-113 1 11 1-62 1 56 1 9 1-21 1 7 1-22 1 48 1-21 1-32 1 22 1 17 1-2 1 61 1-69 1 5 1-25 1 38 1-38 1 35 1-30 1-5 1 1 1 75 1-84 1 58 1-26 1-34 1 25 1-12 1 30 1 21 1 23 1-68 1 0 1-3 1 18 1-21 1 68 1-49 1-4 1-74 1 85 1-32 1 91 1-47 1-26 1 24 1 37 1-41 1 11 1-71 1 29 1-13 1 45 1-51 1-7 1 34 1 7 1 20 1 27 1-8 1-31 1 2 1-55 1 81 1-54 1 11 1 10 1-26 1 20 1 32 1 12 1 15 1-28 1-37 1 26 1-40 1-38 1 78 1-26 1 0 1-16 1 79 1-48 1 32 1-31 1 4 1-2 1 35 1-91 1 43 1-10 1 29 1-27 1 16 1-17 1-8 1 35 1 16 1-19 1-46 1 16 1 42 1-31 1 32 1-20 1 38 1-66 1 32 1 18 1-10 1-48 1 12 1 11 1-19 1 17 1-1 1 4 1 0 1-11 1 42 1 7 1-31 1 39 1-2 1-42 1 57 1-7 1-16 1-33 1 19 1-23 1 34 1-28 1-23 1 0 1 15 1-10 1 38 1 8 1-17 1-14 1 3 1-7 1-9 1 36 1-29 1 30 1-42 1-5 1 41 1 65 1-72 1-23 1 61 1-38 1-10 1-23 1 51 1-32 1-11 1 15 1 38 1-8 1-52 1-23 1 95 1-40 1 53 1-44 1 3 1-14 1 1 1 6 1-5 1 41 1-48 1-4 1 41 1-56 1 17 1 9 1-43 1 52 1-14 1 25 1-15 1-41 1-5 1 17 1 14 1 2 1-2 1 22 1-48 1 17 1 56 1-41 1 1 1 21 1-54 1 44 1-12 1-17 1 25 1 34 1-31 1-12 1 47 1-27 1 38 1-18 1-31 1-20 1 8 1 38 1-64 1 99 1-132 1 79 1 17 1-53 1-36 1 44 1 2 1 35 1-25 1 8 1-11 1 44 1-52 1 8 1 12 1 69 2-161 1 25 1 42 1-8 1 23 1 23 1-3 1-24 1-12 1 14 1-15 1 74 1-20 1-36 1 22 1-32 1 13 1 5 1-36 1 33 1-18 1 30 1-41 1 12 1 31 1 26 1-26 1-5 1-48 1 23 1 20 1-6 1 4 1 29 1 6 1-51 1-8 1-22 1 47 1 14 1 18 1-54 1 7 1-10 1 83 1-15 1-57 1 19 1-28 1 10 1 71 1-67 1 2 1 5 1-37 1-7 1-12 1 84 1-49 1 4 1 42 1-55 1 17 1-9 1 32 1-17 1-41 1 75 1 8 1-27 1-16 1 4 1-29 1 23 1 38 1-21 1-45 1-1 1 30 1 42 1-22 1-13 1 25 1-44 1 30 1-19 1-22 1 46 1-50 1 34 1 29 1-62 1 69 1 3 1-16 1-28 1 0 1 0 1 7 1-25 1 33 1 32 1-78 1 83 1-75 1 6 1 12 1 10 1 7 1 40 1-30 1 18 1-46 1 26 1-61 1 16 1 97 1-68 1 20 1 6 1-5 1-56 1 42 1 57 1-33 1-40 1 12 1-14 1 18 1-2 1-3 1-20 1-28 1 61 1-7 1 9 1 16 1-37 1 39 1-36 1 31 1-9 1-39 1 49 1-14 1-10 1-6 1 4 1-21 1-14 1 33 1 23 1-26 1 24 1-61 1 86 1-38 1-14 1 8 1 9 1-8 1 8 1-45 1 51 1-21 1-25 1 52 1-22 1 42 1-58 1 53 1-21 1-36 1 45 1-10 1 12 1-42 1-50 1 53 1 15 1 22 1 7 1 3 1-18 1-12 1-16 1 25 1-25 1 19 1-17 1 29 1-29 1-7 1 2 1 30 1-29 1 47 1-61 1 35 1-16 1-24 1 30 1 14 1 5 1-25 1-21 1 10 1 4 1 64 1-82 1 30 1 62 1-89 1 74 1-6 1-16 1-8 1-61 1 44 1-3 1 39 1-2 1-63 1-34 1 44 1 74 1-49 1-3 1 19 1-26 1 16 1-32 1 2 1 35 1-8 1 13 1-17 1 24 1-15 1-2 1 20 1-26 1-34 1 8 1 17 1 34 1-43 1 7 1 42 1 6 1-77 1 6 1 27 1 7 1-18 1-25 1 98 1-48 1 30 1-18 1-5 1-62 1 55 1-4 1-1 1-24 1-13 1 35 1 16 1 9 1-22 1-52 1 37 1-4 1-5 1-14 1 49 1-35 1 21 1 12 1-36 1 13 1-10 1 49 1-51 1-21 1 66 1-90 1 104 1-26 1-1 1 1 1-9 1 9 1-79 1 57 1-23 1-20 1 18 1 23 1 15 1-28 1-4 1 64 1-21 1-41 1 1 1 25 1 19 1-37 1 11 1 28 1-65 1 44 1-10 1-21 1 32 1 16 1-30 1-6 1 50 1-30 1-28 1 31 1 11 1-23 1-44 1 33 1-14 1 71 1-62 1 67 1-45 1 1 1 5 1 36 1-71 1 17 1 3 1 17 1-25 1 20 1 19 1-34 1 45 1-35 1-3 1 21 1-25 1 20 1-28 1-15 1 40 1 10 1-21 1 25 1-34 1 67 1-63 1 21 1-15 1-3 1-19 1 60 1-41 1-12 1 46 1-2 1-45 1 36 1 12 1-24 1-38 1 31 1-17 1-13 1 38 1 11 1-76 1 48 1-12 1 33 1-26 1-21 1 73 1-41 1 39 1-29 1-29 1-14 1-1 1 31 1 11 1 31 1-66 1 33 1 18 1 16 1-10 1-10 1 2 1-51 1 36 1-35 1 89 1-30 1-30 1-4 1 0 1 24 1-24 1 5 1-20 1 38 1 3 1-44 1 43 1-20 1 27 1 3 1-39 1 29 1 13 1-61 1 32 1-28 1 44 1-60 1 67 1-32 1 26 1 37 1-55 1-25 1-4 1 49 1-54 1-4 1 48 1 25 1-26 1 41 1-17 1-12 1-8 1-2 1 2 1 15 1-23 1-43 1-7 1 18 1 28 1-41 1 34 1 13 1 23 1-54 1-1 1-9 1 2 1 21 1 49 1-124 1 85 1 6 1 29 1-2 1-25 1-53 1 22 1 12 1-11 1 40 1-33 1-16 1 28 1 23 1-36 1-13 1 6 1 23 1 7 1-26 1-2 1 40 1 38 1 11 1-6 1-79 1 22 1-7 1-10 1-2 1 15 1 13 1 22 1 0 1-42 1 0 1 32 1-6 1-31 1 14 1-48 1 55 1-39 1 39 1-83 1 75 1-33 1 18 1 17 1-21 1 61 1-17 1-36 1 55 1-46 1 7 1 41 1 3 1-48 1 19 1-23 1 29 1-32 1 36 1-73 1 53 1 21 1-26 1-49 1 49 1-34 1 16 1 14 1 44 1-50 1-27 1 77 1-54 1-10 1 10 1-1 1 41 1-90 1 33 1 42 1-16 1-7 1-48 1 74 1-38 1 51 1-97 1 69 1 6 1 28 1-40 1-20 1 24"/>
<path d="M600 2881l1 33 1-43 1-9 1-12 1-72 1 72 1-127 1 42 1-90 1 33 1-40 1-46 1 3 1-15 1-23 1-2 1-26 1 6 1 10 1-61 1-27 1 79 1-104 1-25 1 61 1-72 1 26 1-30 1-28 1 28 1-57 1 40 1-84 1 52 1-20 1-33 1-47 1 33 1 6 1-9 1 21 1-15 1-62 1-5 1-26 1 19 1-3 1-4 1-35 1 24 1-51 1 14 1 27 1-69 1 1 1-64 1 72 1-9 1-29 1-3 1-67 1 53 1-14 1 16 1-72 1 0 1-44 1-18 1 45 1-23 1-34 1 27 1 10 1-61 1 21 1-21 1-6 1 13 1-49 1 14 1-72 1 50 1 37 1-18 1-31 1-58 1 34 1-25 1-18 1 9 1-6 1 16 1-39 1-57 1 37 1 37 1-43 1 15 1-13 1-24 1 20 1 0 1-5 1-65 1 22 1-5 1-1 1-52 1 11 1 27 1 9 1-36 1-32 1 67 1-37 1 7 1-41 1 0 1 0 1 1 1-50 1 21 1-68 1 72 1-48 1 75 1-27 1-1 1-3 1-14 1-32 1 0 1 4 1-27 1-9 1 37 1 35 1-56 1-38 1-32 1-4 1 25 1 38 1-27 1-27 1 27 1-7 1 20 1-8 1-17 1-35 1-4 1 24 1-14 1 46 1-4 1-73 1 73 1-70 1 28 1 16 1-53 1 30 1-11 1 29 1-36 1-13 1 38 1-12 1 10 1-31 1-29 1 61 1-22 1 55 1-69 1-51 1 35 1 20 1-61 1 16 1 27 1-14 1 22 1-30 1 73 1-77 1 17 1-31 1 24 1 1 1-25 1-15 1 86 1-66 1 1 1-31 1 85 1-81 1 26 1-1 1 29 1-61 1 36 1-4 1-21 1-20 1-8 1 26 1-12 1 22 1 21 1-23 1 6 1-46 1-28 1 51 1 17 1-34 1-23 1 21 1 8 1 20 1-33 1 16 1-18 1-61 1 95 1-45 1 64 1-2 1-59 1 4 1 24 1-15 1 36 1 1 1-83 1-17 1 80 1 18 1-49 1-12 1 21 1-23 1-52 1 18 1 27 1 42 1-40 1 12 1-38 1 63 1-79 1 69 1-12 1-4 1-3 1 0 1-12 1 21 1 50 1-52 1-59 1 33 1 33 1-7 1-3 1-16 1-6 1-11 1-19 1 56 1 2 1 47 1-45 1-26 1 32 1-3 1-64 1 45 1 11 1-46 1 12 1 2 1 37 1-43 1 30 1-57 1 71 1-4 1 16 1-41 1-12 1-34 1 67 1 13 1-35 1-4 1-23 1 63 1-52 1 31 1-74 1 59 1 0 1 18 1 13 1-58 1-2 1 36 1 13 1-77 1 24 1 68 1-61 1 8 1-1 1 21 1-3 1-22 1 61 1-13 1-31 1-11 1-20 1 36 1-50 1 22 1 8 1 5 1-12 1 53 1-47 1 25 1-10 1-19 1 19 1-18 1-19 1-4 1 37 1-31 1 27 1-5 1 10 1-4 1-18 1 25 1-15 1 10 1-11 1-14 1-1 1-2 1 11 1-20 1 31 1-8 1-4 1-12 1 47 1 3 1-10 1-32 1 10 1 22 1-1 1-6 1 2 1 14 1-33 1-35 1 42 1-5 1 41 2-48 1 2 1 9 1-34 1 0 1-12 1 1 1 53 1 7 1-82 1 57 1 5 1 1 1 17 1-98 1 104 1-62 1-43 1 95 1-18 1-54 1-19 1 58 1 39 1-7 1-47 1 4 1 36 1-29 1-10 1 14 1-21 1-35 1 53 1-24 1 53 1-23 1-25 1-23 1 26 1 14 1-19 1 53 1 13 1-29 1-55 1 9 1-35 1 53 1-6 1 17 1-26 1-20 1 54 1-26 1 24 1 32 1-58 1 51 1-47 1 6 1 23 1-80 1 68 1 0 1 8 1 14 1-23 1-7 1 20 1-7 1 32 1-57 1 35 1 2 1 5 1-33 1-2 1-42 1 42 1-46 1 36 1-5 1 3 1 0 1 17 1 25 1-16 1-33 1-2 1 17 1 19 1-43 1 39 1 38 1-51 1-29 1 65 1-19 1-21 1-2 1 15 1 5 1-36 1 30 1-54 1 35 1-15 1 26 1 13 1 23 1-17 1-57 1 36 1 33 1-67 1 27 1 41 1-39 1-28 1 37 1-25 1 26 1-34 1 21 1-14 1-21 1 26 1 93 1-59 1 56 1-108 1 33 1 4 1-36 1 15 1 19 1 41 1-54 1-36 1 59 1 38 1-67 1 4 1 3 1-35 1 3 1 30 1 23 1-9 1-31 1 13 1 38 1-26 1-20 1 42 1 54 1-101 1-15 1 17 1-30 1 12 1 16 1-1 1-3 1 1 1-29 1 55 1-22 1-3 1 23 1-25 1 21 1 64 1-100 1-4 1 15 1 24 1-61 1 56 1 0 1-1 1-24 1 17 1 4 1 0 1-36 1 43 1-41 1 50 1-78 1 54 1-15 1 27 1-31 1 75 1-68 1 43 1-27 1-2 1 42 1-31 1-39 1 26 1-20 1 32 1-18 1-53 1 25 1 23 1 23 1 2 1-74 1 58 1-18 1 3 1 8 1-13 1-8 1-41 1 109 1-55 1 13 1 60 1-27 1-13 1-12 1-34 1 12 1 12 1 32 1-16 1 2 1-4 1-9 1 7 1-75 1 8 1 5 1 41 1 22 1-9 1 11 1-19 1 13 1-52 1 59 1-47 1 16 1-3 1 15 1-37 1-3 1 75 1-78 1 71 1-33 1-10 1 8 1 37 1-40 1 3 1 25 1-53 1 33 1 2 1-24 1 54 1-52 1 11 1 21 1-20 1 7 1-35 1 64 1 25 1-28 1-25 1 29 1-14 1-34 1 6 1 22 1-14 1-23 1 18 1 30 1-33 1-6 1 16 1-64 1 67 1 35 1-50 1-47 1 56 1-11 1-42 1 19 1 41 1 11 1-26 1-4 1 19 1-40 1 12 1 7 1-1 1-3 1 8 1 16 1-35 1 15 1-4 1 3 1 35 1-36 1 48 1-43 1-40 1 35 1-16 1 45 1-66 1 31 1-62 1 63 1-40 1 68 1-11 1-16 1 18 1-44 1 19 1-13 1 27 1-50 1 78 1-47 1-15 1 75 1 9 1-34 1-104 1 85 1-25 1 0 1-18 1 33 1-16 1 38 1-49 1 45 1-7 1 20 1-70 1 29 1 1 1 16 1-9 1-17 1 9 1 19 1-21 1 10 1-43 1 38 1 33 1 0 1-39 1-8 1 20 1-13 1-27 1 51 1-12 1 10 1 46 0-62 1 10 1 2 1 7 1 5 1-3 1-1 1 5 1 4 1 14 1-11 1 12 1-3 1 2 1 10 1 0 1 7 1 0 1 10 1 5 1-5 1 8 2 0 1-1 1 3 1 19 1-6 1-1 1 10 1 3 1 2 1 5 1 2 1 2 1 8 1 10 1-1 1 3 1 3 1 4 1 6 1 5 1-7 1 2 1 7 0 39 1 6 1-36 1 16 1-35 1 21 1-30 1 36 1-57 1-11 1 15 1 32 1 10 1 18 1-27 1 27 1-32 1 3 1 23 1-55 1 21 1 9 1-14 1 5 1 4 1 14 1-38 1 47 1-17 1 18 1-15 1 8 1-26 1 18 1-30 1 38 1 26 1-49 1 21 1-52 1 24 1 34 1-31 1 21 1 17 1-32 1 48 1-77 1 28 1 7 1 12 1-61 1 95 1-35 1-3 1 16 1-20 1 23 1-17 1-10 1-13 1 71 1-94 1-5 1 47 1-16 1 86 1-16 1-42 1-29 1 39 1-36 1 63 1-38 1 28 1 11 1-45 1 42 1-67 1 37 1-7 1 3 1-11 1 43 1-49 1 22 1-28 1 58 1-20 1-14 1-10 1 5 1-13 1-27 1-3 1 76 1-68 1 70 1-58 1 26 1 17 1-81 1 13 1 48 1 61 1-116 1 55 1-16 1 12 1-2 1-12 1 32 1 16 1-7 1-98 1 97 1-38 1-7 1 45 1-18 1 36 1-84 1 68 1-37 1 22 1-17 1-2 1-23 1-5 1 90 1-56 1 41 1-52 1 46 1-29 1-6 1-13 1 40 1-54 1 5 1 67 1-40 1-4 1-46 1 25 1 50 1-46 1-34 1 72 1-63 1 54 1 48 1-23 1-40 1-17 1-6 1 31 1-7 1 40 1-38 1 31 1-18 1 35 1-114 1 73 1-30 1 11 1-41 1 58 1-38 1 60 1 21 1-11 1-81 1 39 1 31 1-61 1 62 1 2 1-58 1 41 1-7 1 0 1 24 1-31 1 20 1-22 1-10 1-17 1 51 1-35 1 57 1-43 1-24 1 6 1 31 1 8 1-30 1-17 1 29 1-2 1 25 1-57 1 68 1-65 1 8 1 44 1 8 1-36 1 2 1 7 1-21 1 14 1 38 1 5 1-37 1 3 1-1 1 34 1-77 1 46 1-5 1-8 1 3 1-27 1 31 1 4 1-18 1 32 1 16 1-14 1-22 1-6 1 4 1-33 1 36 1 25 1-32 1 14 1-28 1 23 1 7 1-6 1-56 1 36 1 8 1-3 1 22 1-17 1-45 1 39 1-13 1 48 1-9 1-7 1 27 1-29 1-10 1-21 1 51 1-30 1 23 1-72 1 98 1-32 1 7 1-26 1-25 1 34 1-12 1-8 1 2 1 29 1-18 1-28 1 43 1 0 1-1 1-27 1-3 1 18 1 37 1-59 1-3 1 17 1-24 1 77 1-63 1 39 1-38 1 72 1-26 1-13 1 15 1-4 1-53 1 42 1-7 1 34 1-28 1-32 1 68 1-43 1-21 1-11 1 44 1-49 1 32 1 8 1-57 1 15 1-21 1 61 1-8 1 1 1-5 1 24 1 85 1-82 1-15 1-2 1 47 1-88 1 38 1 35 1-57 1 56 1-59 1 22 1-14 1 18 1-65 1 56 1 5 1-8 1 38 1-12 1-27 1 32 1-42 1 17 1 17 1-10 1 29 1-34 1-10 1 39 1-16 1 9 1 50 1-45 1-22 1 1 1-27 1 28 1-25 1 46 1-28 1-30 1 42 1 23 1-13 1-6 1 28 1-57 1 24 1-11 1 18 1-44 1 57 1-38 1 32 1 10 1-24 1 47 1-76 1 5 1-3 1 12 1 27 1 15 1-31 1-16 1 1 1-32 1 46 1-44 1 68 1-56 1 80 1-109 1 80 1-67 1 36 1-6 1 28 1 27 1-10 1-70 1 70 1-73 1 24 1 57 1-72 1 15 1 18 1-34 1 47 1-58 1 74 1-22 1-9 1 34 1-62 1 43 1-4 1-11 1 6 1-17 1-25 1-14 1 68 1 7 1-24 1-6 1-30 1 80 1-53 1 30 1-2 1-40 1 26 1 14 1-24 1 10 1 10 1-79 1 75 1-15 1 3 1-39 1 22 1 10 1-9 1 18 1-20 1 11 1 0 1 55 1-51 1-43 1 8 1 52 1 5 1-31 1-6 1 32 1-62 1 61 1-5 1 1 1-59 1 60 1 14 1-31 1-12 1-9 1 23 1 23 1-12 1 6 1 22 1-48 1-26 1 4 1 31 1 5 1 3 1 37 1-63 1 20 1-41 1 4 1 5 1 23 1 71 1-56 1 5 1-45 1 23 1-12 1 49 1-28 1 30 1-54 1 28 1 15 1 27 1 8 1-74 1 58 1-38 1 3 1-4 1 11 1-55 1 62 1-26 1 19 1-57 1 49 1-7 1 4 1 7 1 23 1-23 1 12 1-29 1-10 1 12 1-2 1 32 1-1 1 5 1-10 1-20 1-16 1 55 1 0 1-69 1 103 1-78 1 49 1-58 1 37 1-7 1 21 1-19 1-25 1 59 2-83 1 31 1-33 1 69 1-20 1-14 1 50 1-22 1-27 1 7 1 6 1-6 1 28 1-12 1-9 1 10 1-24 1 32 1 12 1-21 1-21 1 9 1-14 1 46 1-1 1-41 1 17 1-22 1 18 1-17 1 50 1-55 1 49 1-43 1 25 1-14 1-13 1-3 1 25 1 11 1-5 1 2 1-20 1 34 1-35 1 3 1 0 1 11 1-49 1 55 1-7 1 8 1 75 1-84 1-37 1 6 1 42 1-26 1 22 1-3 1-17 1-46 1 27 1 7 1 24 1-26 1 24 1 45 1-71 1-28 1 0 1 54 1-14 1 67 1-90 1-16 1 42 1 23 1 25 1 7 1-20 1-28 1-10 1-9 1 32 1-11 1-33 1 23 1-21 1 39 1 2 1 6 1-42 1 8 1 9 1-36 1 28 1 8 1 10 1-20 1 58 1-22 1-33 1-4 1 11 1 22 1 5 1 0 1-6 1-2 1-38 1 16 1 13 1 10 1-43 1 52 1 8 1-72 1-3 1 15 1 6 1 31 1 22 1 2 1-39 1-9 1 57 1-21 1-9 1-21 1-4 1 31 1-16 1-3 1-3 1 21 1 9 1-9 1-12 1-48 1 56 1-12 1-52 1 40 1-14 1 26 1 1 1 16 1 32 1-88 1 66 1-57 1 55 1-21 1-4 1-87 1 95 1 9 1-14 1 15 1 24 1-37 1 5 1-10 1-29 1 65 1-10 1-39 1 3 1 30 1-15 1-27 1 5 1 55 1-50 1 7 1 19 1 5 1 4 1-31 1 3 1 8 1-24 1 74 1-56 1 33 1-48 1 3 1 1 1 0 1-23 1 22 1 30 1 20 1-7 1 3 1 16 1-38 1 21 1 4 1-40 1 11 1 22 1 18 1-68 1 66 1-51 1-17 1 5 1-26 1 42 1 6 1 35 1-17 1 19 1 25 1-17 1-55 1-7 1 21 1-7 1 20 1-26 1-6 1 45 1-16 1 21 1 1 1-50 1 40 1-9 1 2 1 1 1-35 1 4 1-17 1-7 1 12 1-18 1 63 1-13 1-8 1 18 1-64 1 99 1-79 1 31 1-5 1-17 1 30 1-21 1 29 1 2 1-28 1 53 1-28 1-33 1-3 1 34 1-82 1 37 1 30 1 12 1-13 1-1 1-25 1-3 1 67 1-50 1 15 1-10 1 39 1-86 1 48 1-18 1 14 1 16 1-35 1 59 1-47 1 34 1-22 1 4 1 18 1-20 1 13 1-13 1 12 1-43 1 0 1 38 1-10 1-2 1-8 1-30 1 54 1 4 1-26 1-32 1 3 1 55 1-26 1 10 1-15 1 33 1-16 1-33 1-16 1 28 1-11 1-2 1 58 1-2 1-13 1-11 1 57 1-79 1 22 1-14 1-12 1 53 1-32 1-16 1-3 1 17 1-9 1-18 1 12 1 28 1-46 1 23 1 74 1-49 1-23 1 18 1-12 1 1 1 35 1-22 1 11 1-27 1 2 1 26 1 20 1-26 1-24 1 35 1-11 1-19 1-4 1 13 1-35 1 26 1-31 1 70 1-22 1 8 1-41 1 45 1-6 1-33 1 49 1-34 1 8 1 5 1-29 1 13 1 4 1 4 1-10 1 25 1-33 1-16 1 37 1-13 1 14 1 39 1-18 1 2 1-25 1 1 1-9 1 7 1 13 1 5 1-16 1-22 1 41 1-68 1 30 1 21 1 40 1-26 1 22 1-30 1-45 1 27 1-13 1 20 1-12 1 2 1 27 1 1 1 30 1-53 1 8 1 17 1-15 1-16 1 6 1-37 1 21 1 26 1-4 1-20 1 13 1 72 1-35 1-25 1-32 1 52 1-50 1-35 1 72 1 35 1-90 1-7 1 30 1 33 1-23 1-2 1-6 1 30 1 13 1-32 1 41 1-41 1 17 1-11 1-10 1 5 1-53 1 60 1 45 1-9 1-18 1-9 1-43 1 47 1-48 1 44 1 16 1-70 1 32 1 33 1-16 1-8 1 36 1 4 1-51 1-32 1 32 1 17 1 53 1-28 1-44 1 45 1-45 1-5 1 1 1 18 1 18 1-5 1-35 1 23 1-59 1 38 1-38 1 50 1 56 1-30 1-45 1 41 1-2 1-29 1 12 1-29 1 70 1-40 1-30 1-12 1 80 1-76 1 31 1-12 1 6 1 20 1 11 1-30 1 2 1 26 1-7 1 18 1-62 1 65 1 3 1-62 1 31 1 12 1-6 1 21 1 9 1-3 1-59 1 66 1-13 1-46 1-4 1 41 1-31 1 0 1-12 1 55 1-39 1 39 1-60 1 13 1 25 1 15 1 31 1-48 1-12 1-22 1 67 1-32 1 4 1-2 1 1 1-9 1 8"/>
<path d="M655 2867l1 15 1-22 1-35 1-24 1 1 1-27 1-25 1 45 1-70 1-35 1 7 1 25 1-79 1 37 1-95 1 43 1-23 1 1 1 2 1-28 1-74 1 42 1-36 1-5 1-28 1-9 1 25 1-20 1-40 1-45 1 1 1 4 1-26 1 24 1-53 1-26 1 22 1-30 1-60 1 24 1 3 1 7 1-96 1 40 1-26 1-9 1-35 1 27 1-21 1-48 1 4 1 60 1-101 1-20 1 20 1 25 1-28 1-32 1 19 1-30 1 8 1 18 1-72 1 23 1-42 1-16 1 9 1 42 1 29 1-14 1-64 1 29 1-23 1 29 1-40 1-15 1 10 1 14 1-54 1 25 1-43 1 64 1-71 1 14 1 21 1-4 1-37 1 5 1-34 1-57 1 24 1 47 1 9 1-74 1 36 1 1 1-43 1 42 1 7 1 7 1-17 1-18 1 42 1-49 1-18 1 19 1-12 1 24 1-20 1 49 1-25 1-36 1-2 1-12 1 26 1-14 1 13 1-29 1 12 1-2 1-34 1 76 1-60 1 2 1 3 1-38 1 61 1-45 1 29 1 8 1-35 1 27 1-12 1-38 1 39 1-36 1 30 1-42 1 20 1-28 1 38 1-4 1-19 1-29 1-28 1 86 1-41 1-30 1 32 1-3 1 10 1-65 1 46 1 21 1 12 1-21 1-13 1 18 1-18 1-51 1 50 1-37 1 81 1-44 1 21 1 3 1-53 1 0 1 38 1-18 1-29 1-2 1 39 1 23 1-40 1-15 1 2 1-40 1 50 1 10 1-55 1 40 1 4 1 3 1-16 1-15 1 34 1-48 1 48 1-31 1 11 1 5 1-24 1 36 1-58 1 38 1-40 1 58 1-44 1 32 1-61 1 73 1-80 1-9 1 1 1 59 1-11 1-15 1-14 1 26 1 25 1-31 1-35 1 73 1-24 1 2 1-37 1-6 1 32 1-35 1 54 1-37 1 53 1-23 1-29 1 30 1 8 1-78 1 68 1-12 1-73 1 43 1 12 1 34 1-34 1-14 1-30 1 28 1 15 1-24 1 4 1 32 1-7 1 2 1-11 1 23 1-58 1-11 1 107 1-43 1-54 1-20 1 102 1-63 1 17 1 74 1-99 1-34 1 73 1-43 1 91 1-90 1 8 1-1 1 8 1-9 1-10 1 22 1-38 1-4 1 30 1-7 1 40 1 5 1 13 1 16 1-88 1 15 1 31 1 2 1 23 1-57 1-12 1 50 1-9 1-46 1 24 1-22 1 40 1-13 1-11 1-24 1-1 1 37 1-53 1 9 1 52 1 5 1-15 1-31 1-14 1 38 1-14 1-10 1 34 1-2 1-77 1 140 1-71 1-14 1 2 1 37 1-18 1-20 1-6 1 25 1 38 1-36 1 10 1-19 1 13 1-6 1 19 1-4 1-60 1-4 1 34 1-43 1 47 1-23 1-13 1-18 1 12 1-2 1 87 1-39 1 18 1-32 1 2 1-11 1 26 1-18 1-12 1-15 1-20 1 3 1 59 1-41 1 49 1-81 1 58 1 24 1-80 1 8 1 42 1 4 1 2 1-28 1 31 1 5 1-85 1 34 1 20 1-11 1 4 1 22 1-51 1 38 1 49 1-30 1-17 1-3 1 35 1-11 1 2 1-47 1 14 1 0 1-2 1 15 1 5 1 15 1-38 1-18 1 44 1-25 1-4 1-10 1-14 1 30 1-25 1 18 1 17 1 35 1-44 1-9 1 24 1 24 1-49 1 21 1 15 1-50 1-8 1 45 1-42 1-22 1 31 1 35 1-5 1-40 1 57 1-41 1 25 1-42 1 48 1 36 1-73 1-15 1 24 1 15 1 18 1-29 1 9 1-9 1-27 1 62 1-35 1 49 1-70 1 7 1 29 1 7 1 13 1 2 1-11 1-65 1 103 1-54 1-31 1 27 1-36 2 63 1-25 1 3 1-20 1 32 1-11 1-34 1 17 1 12 1-44 1 65 1-46 1 23 1 0 1-46 1 41 1-46 1 47 1-27 1 29 1-33 1-14 1 46 1-66 1 36 1 11 1 25 1-1 1-18 1-21 1-7 1-10 1 39 1-65 1 40 1 41 1-3 1 19 1-13 1-41 1 24 1-84 1 66 1 18 1-32 1 24 1 23 1-40 1 38 1-45 1 51 1-18 1-50 1 27 1 20 1-49 1 29 1 74 1-63 1 45 1-86 1-5 1 41 1-13 1 42 1-92 1 54 1 16 1 10 1-7 1-30 1 23 1-14 1-4 1 21 1-18 1-15 1 11 1 20 1 23 1-18 1-50 1 16 1 73 1-54 1 19 1-14 1-41 1 28 1-14 1 34 1-6 1-48 1 40 1 1 1 0 1 22 1-7 1 25 1-87 1 67 1 25 1-60 1 26 1-20 1-37 1 74 1-52 1 22 1-9 1-1 1-15 1-21 1 57 1-15 1 35 1-47 1 42 1-40 1-55 1 62 1 15 1-10 1 35 1-29 1-25 1-31 1 11 1 46 1-47 1 27 1 27 1 10 1 1 1-46 1 27 1 15 1-37 1-6 1-1 1 10 1-13 1 84 1-72 1 20 1-25 1 30 1 56 1-63 1 45 1-48 1 5 1 5 1 20 1-55 1-3 1 27 1 15 1-35 1 15 1 7 1 9 1-14 1-62 1 64 1 15 1-50 1 52 1-32 1 6 1-34 1 86 1 18 1-67 1-46 1 9 1 18 1 8 1-6 1 32 1-37 1 16 1 9 1 4 1-39 1 50 1-64 1 47 1-41 1 20 1 23 1-20 1 48 1-70 1-15 1 8 1 64 1-56 1 68 1-53 1-32 1 14 1 33 1-23 1-18 1 44 1 13 1-43 1 6 1 38 1-17 1-16 1 11 1 38 1-15 1-15 1-59 1 43 1-19 1 11 1 48 1-32 1-28 1 46 1-78 1 99 1-46 1 18 1-14 1 33 1-55 1 5 1-35 1-2 1 60 1-38 1 50 1-60 1 25 1-52 1 71 1-38 1 25 1 31 1-11 1 17 1-17 1-12 1-38 1 20 1 29 1-34 1 16 1-20 1 58 1-36 1-22 1 58 1-51 1 27 1 47 1-28 1-54 1-13 1 31 1 0 1-11 1 27 1-11 1-4 1-42 1 3 1 59 1-50 1 96 1-88 1 22 1 17 1 20 1-23 1-2 1-65 1 19 1 31 1-25 1 46 1-38 1 7 1 17 1 15 1-50 1 7 1-44 1 34 1 32 1-2 1 20 1-46 1 24 1-69 1 43 1 53 1-94 1 26 1 21 1-19 1-13 1 48 1-20 1 44 1-29 1-3 1-14 1 28 1-32 1 9 1 21 1-25 1 55 1-85 1 33 1 51 1-8 1-27 1 23 1-58 1 15 1-48 1 45 1 14 1 15 1-53 1 64 1-22 1-7 1-35 1 31 1-25 1 31 1 23 1-35 1-29 1 31 1-6 1 27 1-14 1 31 1-100 1 52 1-8 1 10 1-50 1 74 1-29 1-24 1 33 1 19 1-20 1 2 1-19 1 66 1-81 1 34 1-26 1 6 1 39 1-31 1 21 1-34 1 16 1 27 1-56 1-26 1 54 1-9 1 35 1-28 1-48 1 37 1-41 1 38 1-14 1 21 1-29 1 50 1-10 1-27 1 14 1 20 1-51 1-7 1 82 1-79 1 3 1-5 1 10 1 49 1 12 1-11 1-9 1-31 1 34 1-30 1 16 1-28 1 3 1 39 1-28 1 12 1-13 1-19 1 57 1-35 1-15 1 34 1 12 1-23 1-53 1 47 1-13 1-15 1 6 1 16 1 2 1-23 1 18 1-51 1 8 1 57 1 13 1-51 1 5 1 11 1-6 1-5 1-7 1 12 1 19 1-32 1 12 1 7 1-3 1-22 0 23 1-6 1 6 1 7 1 2 1 2 1 1 1 7 1 5 1 10 1-12 1 5 1 10 1 0 1 3 1 6 1 4 1-2 1 3 1-2 1 11 1 4 1 2 2-3 1 0 1 12 1-2 1 3 1 12 1-3 1 1 1 9 1-1 1 8 1 6 1-5 1-1 1 8 1 9 1 4 1 2 1 0 1 4 1-4 1-2 0 14 1-20 1 7 1-17 1 47 1-63 1 20 1 51 1-41 1 2 1 20 1-18 1 26 1 9 1-18 1 6 1-16 1-8 1-20 1 67 1-20 1-61 1 55 1-9 1 27 1-14 1-10 1-12 1-11 1 45 1-16 1 6 1-9 1 4 1-26 1-4 1 11 1 9 1 2 1-15 1 8 1 42 1-98 1 24 1 56 1-62 1 76 1-1 1-56 1 12 1 14 1-24 1 42 1-13 1-59 1 11 1 64 1-54 1 28 1-7 1 8 1-17 1 26 1 29 1-40 1 6 1-4 1 2 1-2 1 20 1-39 1-22 1 79 1-40 1 13 1 3 1 12 1-67 1 19 1 24 1 3 1-20 1 33 1-54 1-3 1 13 1 30 1 60 1-74 1 0 1-25 1 72 1-55 1 23 1 31 1-67 1 1 1 41 1-7 1-18 1 32 1-35 1-4 1-13 1-1 1 12 1 42 1-19 1-13 1-3 1-23 1 36 1 6 1 21 1-58 1 68 1-34 1 0 1-3 1-44 1 60 1-6 1-34 1-9 1 41 1-18 1-31 1 29 1 7 1-33 1 43 1 21 1-39 1 13 1-20 1-5 1 52 1-54 1 69 1-56 1 1 1-31 1 25 1 34 1-16 1 9 1 19 1-40 1 19 1 55 1-80 1 47 1-65 1 40 1 23 1-63 1 26 1-35 1 49 1-27 1 33 1 20 1-41 1-12 1 38 1-69 1 44 1-14 1-26 1 70 1-31 1-9 1 13 1-16 1-11 1 28 1 3 1 6 1-3 1-18 1 58 1-29 1 9 1-62 1 27 1 0 1 38 1-37 1-9 1 10 1-23 1 16 1 20 1 23 1-66 1 110 1-69 1 17 1-39 1 23 1 4 1 9 1-25 1-9 1 13 1 20 1 51 1-88 1 2 1-8 1 3 1 57 1-36 1 11 1 41 1-23 1-1 1-17 1 7 1-5 1 19 1 13 1-34 1 1 1 10 1 0 1 21 1 2 1-34 1-3 1-16 1 7 1 34 1-2 1-85 1 66 1-16 1 20 1 20 1-47 1-14 1 38 1-6 1 31 1-41 1-11 1 12 1-19 1 23 1 21 1-27 1-36 1 25 1 46 1 9 1 0 1-32 1-25 1 28 1 20 1-13 1-30 1 36 1 4 1-78 1 31 1 51 1-9 1-6 1 11 1-23 1-4 1 28 1-56 1 15 1 77 1-60 1 35 1-3 1-3 1-13 1-76 1 93 1-16 1 12 1 4 1 41 1-94 1 35 1 60 1-85 1 43 1-9 1-13 1-49 1 42 1-17 1-3 1 1 1 5 1 23 1-47 1 34 1-2 1-25 1 18 1 8 1-13 1-28 1 48 1-11 1 10 1-48 1 73 1-57 1 39 1-19 1-27 1 23 1 57 1-16 1 3 1-23 1 5 1-52 1 76 1-4 1-37 1 7 1-14 1 28 1 7 1 25 1-36 1-5 1 13 1-24 1 4 1 9 1 32 1-2 1-27 1 21 1-21 1-21 1-17 1 42 1-10 1-2 1-12 1 19 1-35 1 41 1-20 1 4 1 4 1-63 1 63 1 57 1-94 1 60 1-45 1 46 1-44 1 2 1-15 1 57 1-18 1-72 1 57 1-7 1-7 1 37 1-27 1 13 1 1 1 5 1-11 1 52 1-99 1 6 1 10 1 26 1 43 1-25 1-1 1 13 1 1 1-42 1 18 1-6 1 12 1 1 1-7 1 16 1-69 1 122 1-41 1-55 1-12 1 77 1-21 1-17 1-7 1 5 1-28 1-9 1-2 1 17 1-11 1 52 1-30 1 29 1-37 1-33 1 38 1 20 1-40 1 0 1 41 1 6 1-32 1 19 1 2 1 18 1-55 1 51 1 0 1 9 1 5 1-50 1 35 1-17 1 41 1-47 1-18 1 18 1-20 1 38 1-35 1 19 1 23 1-31 1 0 1-4 1 24 1-48 1 78 1-47 1-12 1 68 1-51 1 30 1-1 1-26 1-19 1 18 1-12 1 35 1-39 1 6 1 9 1-21 1 74 1-74 1 9 1 35 1 26 1-75 1 45 2-25 1 24 1 14 1-24 1 14 1-42 1 16 1 37 1-6 1 14 1-14 1-15 1 7 1-47 1 31 1-10 1 56 1-80 1 20 1 0 1-9 1 1 1 4 1 19 1 18 1-13 1-18 1-3 1 2 1 45 1 12 1-72 1 9 1-6 1 18 1-6 1 65 1 16 1-47 1-41 1 78 1-93 1 62 1-35 1 18 1-15 1 20 1 29 1-69 1 2 1 8 1-1 1 82 1-44 1-14 1 21 1-68 1 55 1-73 1 63 1-19 1 6 1-27 1 75 1-44 1 62 1-86 1 9 1 70 1-55 1 16 1-37 1 10 1 19 1-23 1 27 1 23 1-41 1 10 1 21 1-2 1-28 1 37 1-3 1-63 1 29 1 26 1-46 1 12 1 13 1-8 1 15 1 52 1-50 1-10 1-17 1 58 1-8 1-51 1 27 1-38 1 104 1-75 1 20 1-35 1 24 1-9 1 42 1-7 1-20 1 7 1 18 1-70 1 52 1-13 1-12 1 7 1-13 1 11 1 23 1-24 1-28 1 32 1 15 1-15 1-53 1 16 1 65 1-27 1-5 1-19 1 37 1 17 1-33 1 6 1 14 1-5 1-5 1 25 1-75 1 25 1-2 1-22 1 40 1 31 1-58 1 35 1 12 1-56 1 29 1-13 1 53 1-35 1 14 1 16 1 20 1-50 1 0 1-8 1-5 1 3 1-33 1 8 1 22 1 41 1-42 1-24 1 39 1 17 1-19 1-37 1 18 1 30 1 14 1-39 1-3 1 24 1-1 1-8 1 22 1-10 1-36 1 10 1 19 1-43 1 54 1-28 1 83 1-72 1-9 1 20 1 24 1-20 1-37 1 28 1-18 1 16 1 0 1-8 1 38 1-48 1 8 1 29 1 20 1-45 1 12 1 52 1-63 1 50 1-47 1 14 1-25 1 4 1 41 1-47 1 21 1 17 1-19 1-37 1 63 1-21 1 19 1-66 1-1 1 37 1-12 1 46 1 15 1-52 1 24 1-5 1-3 1 23 1-54 1 43 1-35 1-7 1 35 1-12 1-3 1 18 1 10 1-4 1-69 1 35 1-4 1 10 1 24 1-25 1 32 1-34 1 70 1-84 1 32 1 4 1-14 1 27 1-8 1-31 1 34 1-57 1 33 1 15 1 54 1-36 1-8 1 6 1-13 1-19 1 4 1-4 1 55 1-36 1-6 1 2 1-10 1-8 1 51 1-43 1 3 1 4 1-48 1 9 1 22 1-17 1-8 1 67 1-69 1 55 1-51 1 28 1-22 1 6 1 23 1-41 1 51 1 24 1-11 1 4 1-21 1 31 1-16 1 45 1-105 1 58 1-20 1 3 1-39 1 42 1 13 1 6 1 1 1-75 1 55 1 13 1 16 1-20 1 26 1-33 1 11 1-58 1 33 1-5 1 15 1 29 1-43 1 24 1-39 1 37 1-20 1-10 1 15 1-3 1-6 1-6 1 42 1-11 1 33 1-62 1 14 1 27 1-32 1-29 1 49 1 44 1-74 1-7 1 39 1-24 1-12 1 18 1 8 1 17 1 6 1-48 1 34 1 21 1 38 1-63 1-3 1 16 1-3 1-18 1-12 1 0 1 84 1-108 1 28 1 3 1 0 1-2 1 24 1-11 1-75 1 72 1 29 1-7 1-79 1 89 1-22 1-42 1 50 1-25 1 2 1 10 1-52 1 42 1-30 1 64 1-115 1 72 1-7 1 21 1 10 1 14 1-38 1 18 1-30 1 40 1 21 1-67 1 0 1 25 1 28 1-17 1-48 1 6 1 40 1 44 1-73 1 8 1-12 1 19 1 41 1-44 1-48 1 40 1-15 1 45 1 7 1-36 1 8 1 48 1-12 1-25 1-44 1 48 1 1 1 1 1-48 1-23 1 92 1 44 1-115 1 47 1 8 1-6 1 15 1-18 1 30 1-71 1 29 1 47 1-73 1 44 1-40 1 51 1-27 1-28 1 63 1-77 1 52 1 5 1-13 1-4 1-2 1 7 1-24 1 6 1 39 1-29 1 50 1-32 1-21 1 18 1-39 1 35 1-30 1 54 1 25"/>
<path d="M701 2822l1-13 1-53 1 16 1-20 1-23 1 1 1-80 1 4 1-35 1 74 1-39 1-30 1 0 1-42 1-7 1-38 1 14 1-25 1 23 1-45 1 5 1-20 1-1 1-25 1-35 1 51 1-21 1 8 1-19 1 2 1-13 1-30 1 29 1-48 1-46 1-1 1 29 1 3 1-40 1-21 1 14 1 16 1-36 1-19 1 29 1-7 1 7 1-60 1 47 1-8 1-10 1-37 1 2 1-45 1 46 1 9 1-53 1-37 1 67 1-39 1 4 1-9 1-45 1 17 1-27 1-4 1 39 1-70 1 41 1-32 1-7 1 11 1-38 1-12 1-12 1 23 1-5 1-35 1 4 1 24 1-59 1 16 1-29 1 0 1-5 1 8 1-2 1-25 1 33 1-35 1-17 1 8 1-46 1 9 1 24 1 29 1 13 1-49 1-25 1 8 1-1 1-1 1 26 1-95 1 26 1 9 1-36 1 37 1-41 1 34 1-39 1-49 1 72 1-25 1-3 1-16 1 32 1-15 1-5 1 9 1-82 1 80 1-86 1 58 1 2 1 9 1 3 1-32 1-30 1 54 1-9 1-8 1-51 1 57 1-27 1 4 1-15 1-4 1 22 1-9 1-23 1 18 1 8 1 1 1-16 1-20 1 34 1-27 1 13 1 14 1-5 1-6 1-11 1 44 1-33 1 19 1-36 1 27 1-24 1 26 1-30 1 22 1-11 1 51 1-2 1-35 1 15 1-39 1-47 1 47 1 0 1 18 1-10 1 7 1-12 1 52 1-15 1-9 1-26 1-28 1 25 1 4 1 13 1 1 1 35 1-33 1-15 1-14 1 2 1 0 1 0 1 14 1-38 1 60 1-70 1 75 1-46 1 5 1 19 1 32 1-87 1 8 1 28 1 26 1-12 1-35 1 59 1 1 1-31 1-45 1 40 1 22 1 16 1 1 1-58 1 11 1-10 1 42 1-11 1 4 1-2 1-5 1-43 1 32 1-15 1 21 1 8 1-19 1-36 1 53 1 33 1-53 1-11 1 30 1 1 1 12 1 34 1-49 1 5 1 16 1-21 1 26 1-52 1-22 1 29 1-15 1 37 1 49 1-16 1-32 1-15 1 65 1-79 1 11 1 25 1-28 1 15 1-19 1 31 1 23 1-51 1-15 1 12 1 24 1 32 1-54 1-23 1 18 1 39 1-15 1-3 1-56 1 49 1-39 1 84 1-16 1-2 1 6 1-32 1-7 1 13 1-4 1-33 1-16 1 38 1 17 1 24 1-13 1 28 1-37 1-37 1 49 1-27 1 41 1-28 1-10 1-40 1 96 1-19 1-59 1 5 1 3 1 54 1-102 1 25 1 24 1-30 1 39 1 4 1-10 1 10 1-2 1-8 1 30 1-51 1-17 1 72 1 2 1 25 1-67 1-10 1 35 1-4 1 26 1-15 1-28 1-64 1 63 1 47 1-45 1 5 1-15 1 28 1 9 1-36 1 22 1-55 1 65 1-12 1-5 1-100 1 133 1-55 1 28 1 19 1 26 1-46 1-34 1 39 1 16 1 16 1-32 1 12 1-37 1 39 1 26 1-52 1 21 1-25 1-28 1 20 1-24 1 39 1-2 1 30 1 10 1-36 1 6 1-40 1 71 1-68 1 11 1 8 1 13 1 21 1-40 1 47 1-31 1-10 1-10 1 39 1-13 1-8 1-9 1 13 1 46 1-38 1 6 1-7 1-16 1 2 1 17 1-26 1 1 1 9 1 8 1-50 1 43 1 35 1-24 1-17 1-38 1 20 1 13 1 9 1-8 1 17 1 60 1-35 1-19 1-27 1-5 1 9 1 29 1-21 1 55 1-77 1-17 1 29 1 15 1-25 1 28 1-3 1-43 1 46 1-31 1 39 1 24 1-29 1-61 1 0 1 65 1-17 1-15 1-21 1 74 1-71 1 25 1 12 1-34 1 52 1-16 1 1 2-3 1-20 1-25 1 54 1-4 1-10 1 39 1-26 1-25 1-29 1 26 1 5 1 39 1-7 1-7 1-18 1-30 1 48 1-1 1-41 1 18 1 15 1-21 1-2 1 14 1 7 1-26 1 13 1-32 1-7 1 83 1-51 1-5 1 12 1 12 1 33 1-28 1 12 1-24 1-11 1-1 1 12 1 4 1-3 1-23 1 23 1-23 1 40 1-35 1 14 1-17 1-15 1 50 1 17 1-19 1-26 1 22 1 10 1-65 1 64 1-58 1 9 1 4 1 17 1-12 1 15 1 41 1-74 1 37 1-33 1 71 1-57 1 38 1-33 1-9 1 54 1-57 1-2 1 29 1-8 1 9 1-49 1 63 1-34 1 15 1-44 1 14 1 32 1-53 1 26 1 24 1-47 1 16 1-8 1 21 1 42 1-73 1 51 1-26 1-17 1 8 1 17 1-11 1-17 1 3 1 62 1 9 1-27 1-26 1 19 1 21 1-14 1 23 1-47 1-2 1 5 1 12 1 38 1-30 1-46 1 67 1-30 1 8 1 11 1-5 1-84 1 76 1-22 1 6 1 16 1 12 1-62 1 43 1-16 1 36 1-85 1 55 1 15 1-49 1 32 1 11 1-58 1 112 1-69 1 29 1-39 1 5 1 20 1-69 1 34 1 26 1 21 1 27 1-125 1 71 1-9 1 16 1-12 1 48 1-59 1 45 1-14 1-11 1 15 1-53 1 79 1-51 1 28 1-7 1 10 1-17 1-12 1-33 1-6 1 52 1-7 1 35 1-88 1 57 1-29 1 17 1 27 1 15 1-41 1-5 1 22 1-39 1 30 1 12 1-23 1 15 1-21 1 27 1-14 1 13 1 18 1-53 1 33 1 9 1 2 1-1 1-34 1 56 1-40 1-9 1 25 1-50 1 45 1-13 1-47 1 40 1 28 1 26 1-25 1-32 1 30 1-24 1 30 1-34 1-3 1 7 1 37 1-74 1 14 1 30 1-28 1 17 1-42 1 72 1-27 1 9 1-44 1 53 1-7 1-18 1 23 1-38 1-41 1 50 1 64 1-76 1 14 1-8 1 19 1 4 1-14 1 9 1-8 1 9 1 19 1-32 1 28 1-35 1 54 1-57 1 12 1 20 1-1 1 28 1-81 1 42 1 6 1-2 1-27 1-40 1 3 1 113 1 0 1-98 1 45 1-14 1 24 1-2 1-18 1 24 1-55 1 19 1 35 1 24 1-96 1 54 1-12 1 13 1 31 1-43 1-25 1 32 1-37 1 66 1-57 1 14 1 3 1 22 1 3 1 4 1-19 1-14 1 12 1 24 1-27 1-1 1 10 1 11 1-35 1 18 1 23 1-83 1 83 1-4 1-39 1 4 1 19 1-17 1 47 1-18 1-68 1 89 1-46 1 22 1-63 1 67 1-29 1 8 1 7 1-10 1-35 1 16 1 72 1-93 1 14 1-10 1 41 1-13 1 1 1-36 1 103 1-40 1-29 1 19 1-15 1-11 1 55 1-22 1-35 1 20 1-7 1 0 1-26 1 35 1-28 1 59 1-1 1-15 1-27 1-14 1-14 1 48 1-18 1 0 1-20 1 48 1-76 1 55 1-29 1 26 1-53 1 81 1-89 1 49 1 9 1 19 1-8 1-5 1-8 1 43 1-92 1 84 1-36 1 23 1-39 1 78 1-103 1 66 1-53 1 44 1 5 1-24 1 3 1-14 1-7 1 5 1 12 1 5 1-25 1 50 1-32 1 9 1-4 1-5 1-12 1 21 1-5 1-15 1 36 1-27 1-11 1 21 1-29 1 7 1 8 1-2 1-18 1 68 1-69 1 16 1 40 1-5 1 11 1-17 1-54 1 10 1 49 1-15 1-17 1-42 1 52 1-9 1 5 1-3 1-1 1 17 1-17 1 1 1-22 1 37 1-47 1 54 1 8 1-26 1-19 1 33 1-32 1 14 1 12 1-25 0 14 1 1 1 5 1-3 1 17 1-3 1 12 1 4 1 6 1-2 2 13 1 8 1 2 1 6 1 13 1-7 1 16 1-1 1 7 1 11 0-3 1-9 1 79 1-29 1-27 1-2 1-34 1 19 1 19 1-9 1-6 1 9 1-25 1 20 1 45 1-100 1 26 1 15 1 27 1-29 1 14 1-10 1 50 1-54 1-5 1 22 1-19 1 9 1-45 1 29 1 21 1-30 1 30 1-13 1 29 1 57 1-65 1 17 1-24 1 2 1-10 1-14 1-3 1 32 1-36 1 29 1 27 1-45 1-8 1 27 1 9 1-92 1 27 1 50 1-22 1 23 1 25 1 26 1-61 1 6 1-2 1 59 1-11 1-76 1 8 1-14 1 29 1-41 1 72 1 3 1-8 1-32 1 11 1 31 1-23 1-22 1 20 1-29 1 27 1 67 1-118 1 61 1-5 1 17 1-11 1-21 1 8 1 7 1-41 1 25 1-46 1 46 1-5 1-7 1 26 1 17 1-30 1 62 1-86 1 37 1 50 1-60 1 11 1 37 1-41 1-31 1 31 1 19 1-28 1-8 1 0 1 26 1-21 1 57 1-61 1 23 1 25 1-21 1-59 1 56 1-18 1 5 1-18 1 21 1 6 1-33 1-13 1 56 1 3 1 12 1-27 1-15 1-13 1 53 1-6 1 31 1-66 1 6 1 47 1-70 1-12 1 31 1 36 1 11 1-47 1 10 1-36 1 91 1 3 1-48 1-20 1 34 1 0 1-35 1-18 1 9 1 86 1-93 1 16 1 21 1-15 1-2 1 21 1-4 1 31 1-49 1 20 1 11 1-14 1-13 1 7 1-54 1 68 1-1 1-10 1 39 1-95 1 59 1-26 1 32 1-60 1 35 1 41 1-21 1-5 1 14 1 5 1-11 1-35 1-6 1 63 1 18 1 16 1-41 1-25 1 25 1-27 1 45 1-14 1-95 1 82 1-9 1-51 1 11 1 24 1 17 1-15 1 25 1-69 1 46 1 9 1 14 1-24 1-32 1 68 1-45 1 28 1-32 1 14 1-30 1 7 1 2 1 39 1 25 1 2 1-35 1-6 1-75 1 82 1-7 1 7 1-21 1 31 1 21 1-36 1 50 1-19 1 0 1-21 1-63 1 60 1-5 1 26 1-21 1-2 1-50 1 42 1 18 1-11 1 41 1-50 1 8 1-4 1 7 1-26 1 31 1-11 1 12 1 15 1-23 1 30 1-59 1 46 1-52 1 44 1-12 1-10 1-31 1 60 1 16 1-56 1 22 1-17 1 5 1 53 1-25 1-18 1-11 1 3 1 48 1-18 1 1 1-7 1 15 1-88 1 65 1-35 1 35 1 17 1-43 1-13 1 1 1 95 1-98 1 49 1 31 1-64 1 29 1-77 1 46 1 15 1-15 1 27 1 40 1-45 1-12 1 6 1 21 1-24 1 23 1-8 1-68 1 50 1-32 1 9 1-7 1 13 1 29 1-20 1 48 1-50 1-10 1-12 1 19 1 13 1 45 1-43 1 12 1-37 1 50 1 5 1-8 1 5 1-11 1 13 1-44 1-27 1 25 1 32 1 46 1-36 1 16 1-58 1 9 1-27 1 47 1 9 1-4 1-37 1 20 1 24 1-21 1 23 1-26 1 3 1 22 1-24 1 25 1-17 1 4 1 11 1-21 1-20 1-32 1 40 1-8 1 29 1 17 1-23 1 46 1-49 1 26 1-17 1 2 1-8 1-53 1 36 1 34 1-65 1 59 1-11 1 20 1-19 1-53 1 88 1-41 1 13 1-21 1 13 1 29 1 13 1-26 1 17 1-53 1 13 1-65 1 91 1-13 1-25 1-10 1 16 1 62 1-36 1 32 1-35 1-15 1-1 1 41 1-25 1-14 1 50 1-107 1 74 1-10 1 64 1-88 1 33 1-4 1-2 1-51 1 79 1-18 1 4 1 19 1-3 1-61 1 25 1 32 1-37 1 42 1-53 1 70 1-29 1-6 1-25 1 5 1 0 1 7 1-1 1-2 1-10 1-2 1 12 1 12 1-32 1 22 1-31 1 43 1 37 1-69 1 68 1-19 1-43 1 12 1 9 1 20 1-55 1 31 1 28 1-44 1 8 1-15 1-22 1 9 1 18 1 48 1 9 1-54 1 3 1 13 1-5 1-10 1 21 1-21 1 32 1-50 1 18 1 58 1-47 1-25 1 20 2 15 1 4 1-8 1 31 1-58 1 38 1-30 1 6 1 38 1-29 1-49 1 38 1 36 1-49 1 9 1 0 1 26 1-19 1-27 1 30 1-38 1 69 1-48 1 48 1 17 1-48 1-47 1 61 1 15 1-36 1-2 1 12 1-4 1 5 1-9 1 3 1-8 1 35 1-19 1-28 1-45 1 47 1 43 1-40 1 9 1 0 1 46 1-60 1-15 1 5 1-9 1 63 1-59 1 50 1-14 1-5 1 21 1-52 1 42 1-17 1 7 1-26 1 20 1-14 1 18 1 22 1-5 1-23 1-4 1 36 1 13 1-13 1-52 1 19 1 14 1 12 1 25 1-59 1 23 1 26 1-41 1 36 1-46 1 33 1-20 1-28 1 14 1 36 1-45 1-33 1 63 1 4 1-26 1 91 1-45 1-16 1-40 1 16 1-11 1 8 1 27 1-10 1 15 1-32 1 63 1-62 1 0 1 8 1 5 1 56 1-50 1-23 1 42 1-56 1 90 1-60 1-3 1-17 1 19 1 24 1 6 1-30 1-48 1 74 1-1 1-5 1-31 1 61 1-40 1-2 1 13 1 18 1 7 1-55 1-4 1 1 1 6 1 53 1-30 1 14 1-65 1 102 1-92 1 52 1 16 1-64 1-22 1 59 1-44 1 30 1 1 1 35 1-10 1-18 1 21 1-11 1 3 1 3 1-37 1-11 1 50 1-21 1-22 1 3 1 50 1-72 1 44 1-18 1-20 1 41 1-8 1-11 1-14 1 34 1-1 1 10 1-33 1 32 1 8 1-24 1-20 1-27 1 86 1-17 1 2 1-17 1-3 1 21 1-9 1 16 1-61 1 30 1-20 1 49 1-17 1-15 1 18 1-28 1 22 1-18 1-30 1 33 1 64 1-76 1-23 1 67 1-26 1-13 1 13 1-16 1 47 1-16 1-33 1 84 1-75 1-35 1 80 1-34 1 9 1-30 1 5 1 32 1 39 1-39 1 4 1-48 1 61 1-29 1-9 1 11 1-19 1-14 1-34 1 68 1 9 1-38 1 51 1-47 1 1 1-23 1 50 1 15 1-16 1-29 1 0 1 1 1 65 1 12 1-46 1-18 1 19 1 9 1 22 1-73 1 31 1-3 1-46 1 43 1-34 1 59 1-17 1 9 1-7 1-18 1-33 1 1 1 59 1 61 1-73 1 12 1 5 1 1 1 0 1-1 1-25 1-6 1 28 1 2 1-53 1 101 1-105 1 38 1-24 1 68 1-57 1 22 1-10 1 10 1-1 1 13 1-38 1 38 1-31 1 10 1-9 1 33 1-32 1-9 1 23 1 8 1 3 1-15 1-3 1-36 1 71 1-31 1-23 1 41 1-29 1 10 1 19 1-25 1-17 1 21 1-3 1-38 1 45 1 15 1-37 1 25 1 4 1 3 1-13 1-94 1 100 1 16 1-8 1-60 1 77 1 3 1-84 1 3 1 31 1 24 1-12 1 26 1-7 1 16 1 15 1-60 1 35 1-42 1 23 1-33 1 61 1-29 1-6 1 35 1-32 1-16 1-40 1 32 1 72 1-76 1 60 1-47 1 54 1-30 1-21 1 2 1 20 1-19 1 42 1-1 1-98 1 76 1 3 1 14 1-31 1 24 1-36 1 1 1 0 1-3 1 44 1 7 1 15 1-41 1-19 1-23 1 72 1-20 1-8 1 91 1-89 1-2 1-11 1-20 1 70 1-35 1 6 1 8 1-71 1 33 1-3 1 58 1-53 1-20 1 18 1 15 1-13 1 39 1 13 1-40 1-38 1 60 1-74 1 8 1 48 1 25 1-3 1-34 1 27 1-55 1 6 1 43 1-33 1-8 1 24 1 48 1-25 1 23 1-45 1-2 1 30 1-74 1 60 1-78 1 57 1 18 1-7 1 18 1-11 1-47 1 7 1 105 1-113 1 28 1 4 1 12 1 15 1-69 1 43 1 57 1-10 1-31 1 20 1 0 1-61 1 42 1-43 1 58 1 37 1-55 1-22 1 51 1-71 1 26 1-27 1 64 1-24 1 68 1-37 1-67 1 25 1-5 1 71 1-62 1-31 1 17 1 15 1-15 1 18 1-42 1 65 1-15 1 5 1 27 1-23 1-38 1 20 1 14"/>
<path d="M703 3513l1-2 1-53 1-21 1-38 1-59 1-14 1-34 1 8 1-22 1-67 1-17 1 19 1-24 1-40 1 30 1-73 1 17 1-29 1 14 1-53 1 24 1-27 1-91 1 29 1 22 1-45 1 32 1-37 1-58 1 44 1-6 1-1 1-18 1-6 1-13 1-42 1 43 1-41 1-62 1-17 1 70 1-22 1-8 1-49 1 24 1-11 1-60 1 22 1-4 1-60 1 14 1 28 1 12 1-25 1-15 1-1 1 9 1-35 1 18 1 1 1-15 1 14 1-36 1 4 1-52 1 14 1 78 1-107 1-24 1 42 1 3 1 23 1-25 1-8 1-42 1 61 1-11 1-7 1-40 1 12 1-41 1 1 1 25 1-9 1-36 1 1 1 30 1-8 1-36 1 9 1-49 1 41 1-16 1 5 1-9 1 30 1-31 1-21 1 10 1-20 1-30 1 14 1-63 1 65 1-19 1 10 1-45 1 6 1-1 1-18 1-32 1 36 1-28 1 59 1-45 1-1 1 10 1-50 1 45 1-36 1 39 1-25 1 9 1-42 1-25 1 24 1-33 1 22 1-11 1-7 1-14 1 29 1 28 1-88 1 3 1 15 1 71 1-90 1 63 1-62 1 4 1-2 1-31 1 48 1-25 1-36 1 56 1-5 1-21 1 26 1-11 1-41 1 74 1-53 1-7 1 46 1-33 1-26 1 30 1-53 1 72 1-95 1 61 1-42 1 29 1-19 1-1 1 28 1 11 1-20 1 8 1-24 1 8 1 31 1-59 1 53 1-52 1 18 1 1 1-26 1 33 1-8 1 32 1-23 1 14 1-15 1 43 1-50 1-19 1-21 1 13 1 20 1-3 1 52 2-52 1 1 1 35 1-11 1-5 1-63 1 23 1 0 1 47 1 5 1-49 1 29 1 8 1-32 1 1 1 25 1-19 1-34 1 26 1-1 1-10 1-5 1 5 1-23 1 4 1 11 1-25 1 5 1 5 1 44 1-44 1 62 1-64 1-2 1 25 1 6 1-5 1 5 1-14 1 10 1-8 1-30 1-16 1 10 1 13 1 34 1-27 1 57 1-48 1-25 1-3 1 17 1 27 1-27 1 12 1-23 1-20 1-33 1 72 1-15 1 33 1-3 1-39 1 29 1-16 1-24 1 15 1 12 1 25 1-47 1-6 1 3 1 58 1-40 1-6 1-11 1 4 1 1 1-22 1 38 1 34 1-42 1-13 1 28 1-13 1 26 1-35 1 62 1-56 1 34 1-44 1 6 1 9 1-24 1 60 1-97 1 68 1-46 1 35 1-19 1 19 1 5 1-31 1 23 1-58 1 38 1 45 1 2 1-4 1-32 1 21 1-47 1 24 1-16 1 4 1-12 1 49 1 4 1-61 1 37 1 7 1 2 1-23 1 7 1 15 1-41 1 37 1-48 1 34 1 32 1-23 1-6 1-31 1 40 1 23 1-8 1-34 1 23 1-32 1 19 1-42 1-8 1 10 1 27 1-14 1 47 1-34 1 30 1-11 1-8 1 17 1-17 1-22 1-17 1-1 1 13 1 34 1 11 1-78 1 22 1 23 1-33 1 50 1-32 1 1 1-19 1 12 1 37 1-75 1 106 1-51 1-19 1 28 1-48 1 31 1 8 1 21 1-42 1 4 1 17 1-20 1 63 1-31 1-23 1 2 1 26 1-12 1 2 1 13 1-4 1-71 1-45 1 103 1 10 1-29 1-5 1 12 1-39 1 62 1-60 1 65 1-38 1-18 1 11 1 27 1-18 1 7 1-14 1-6 1 23 1-71 1 91 1-74 1 26 1-3 1 0 1 40 1-44 1 5 1 86 1-47 1-47 1 18 1 8 1 8 1-35 1-2 1 56 1-31 1-22 1 36 1-13 1 34 1-58 1 76 1-66 1 58 1-68 1-25 1 32 1 32 1 3 1-33 1 5 1 41 1-36 1-54 1 78 1-38 1-8 1-2 1 20 1-33 1-10 1 33 1-48 1 32 1 33 1-20 1 10 1 8 1-69 1 110 1-70 1 1 1 29 1-3 1-42 1-1 1-1 1 19 1 13 1-40 1 9 1 76 1-91 1 47 1-38 1 11 1-21 1 31 1 34 1-12 1-41 1 26 1-44 1 37 1 20 1-39 1 29 1-17 1 4 1-4 1-33 1 92 1-17 1-53 1-4 1 27 1 17 1-29 1-39 1 49 1-8 1-4 1 40 1-36 1 13 1-3 1 5 1-30 1 57 1-52 1 15 1 23 1-26 1-24 1 49 1-36 1 9 1-5 1-6 1 6 1-9 1 7 1-15 1 65 1-19 1-52 1-6 1 55 1-4 1-66 1 71 1-34 1-26 1 18 1 20 1 2 1 58 1-66 1-17 1 45 1-20 1-16 1-2 1-38 1 45 1-41 1 35 1 0 1-23 1 15 1 14 1-24 1-11 1-13 1 31 1 33 1-32 1-12 1-7 1-19 1 65 1-44 1-1 1 2 1-4 1 13 1-9 1 5 1 7 1 33 1-56 1 53 1-48 1-5 1 55 1-28 1-21 1-8 1 8 1-35 1 74 1-53 1 46 1-40 1 20 2-20 1-31 1 40 1-12 1 27 1-20 1 61 1-119 1 40 1-1 1-16 1 3 1 15 1 46 1 16 1-16 1-45 1 38 1-6 1-2 1 24 1-51 1 16 1 42 1-11 1-56 1 54 1-14 1-9 1-31 1 1 1-5 1-22 1 79 1-34 1-13 1-32 1 5 1 59 1-47 1 26 1-49 1 54 1 5 1-31 1-19 1 63 1-11 1-6 1-25 1 10 1 16 1-49 1 19 1-24 1 19 1-10 1 32 1 11 1-53 1 95 1-64 1 12 1-42 1 41 1-31 1 0 1-6 1 37 1 13 1-22 1 14 1-37 1-17 1 22 1-29 1 30 1 14 1 19 1-34 1-14 1-40 1 60 1-28 1 33 1 5 1-38 1 42 1 17 1-38 1-1 1-13 1-14 1-19 1 56 1-28 1 23 1 16 1-50 1 38 1-42 1 20 1 17 1-10 1-34 1 32 1 6 1-78 1 25 1 3 1-41 1 71 1-61 1-29 1 43 1 88 1-35 1-7 1 29 1-60 1 52 1-42 1-8 1 33 1-3 1-13 1-7 1 33 1-47 1 57 1-9 1-24 1-22 1 26 1-10 1 5 1-45 1 41 1 56 1-65 1-24 1 64 1 15 1-51 1-8 1-8 1 60 1-18 1-93 1 100 1-31 1-20 1 8 1 8 1-12 1 7 1-21 1 0 1 0 1 11 1-47 1 62 1-58 1 62 1-27 1 5 1-42 1 33 1 12 1-30 1-57 1 120 1-65 1 32 1-22 1 33 1-35 1 12 1-5 1-55 1 86 1-77 1 63 1-10 1-22 1-10 1 1 1 7 1 58 1-41 1-27 1 2 1-24 1 64 1-43 0 4 1 2 1 6 1 2 1 1 1 5 1 8 1-1 1 4 1 0 1 5 1 3 1 2 1 8 1-5 1 6 1 7 1 0 1 1 1 12 1-8 1 12 1-3 1 6 1 1 1-3 1 10 1-3 1 5 1 7 1-1 1 7 1 3 2 1 1 8 1 2 1-3 1 0 1 7 1 13 1-3 1 2 1 4 1 1 1 1 1 3 1 2 1 5 1 5 1 3 1 7 1-5 1 9 1 7 1-3 1 12 1 1 1-3 1 8 1 4 1 0 1-1 1 6 1 0 1 0 0 26 1-13 1-87 1 69 1 15 1-11 1 24 1-21 1-13 1-17 1 50 1 0 1 54 1-109 1 42 1-4 1 13 1 24 1-40 1-6 1 45 1-7 1-55 1 28 1 18 1-22 1 27 1-27 1 37 1-58 1-31 1 66 1-2 1-43 1 38 1-19 1 28 1-30 1 40 1-2 1 11 1-39 1 2 1-2 1 5 1 16 1 12 1-47 1 26 1 21 1-32 1 0 1 3 1-28 1 15 1-22 1 53 1 13 1-54 1 29 1 10 1 10 1-28 1-23 1 45 1-23 1 3 1-20 1 32 1-2 1 20 1 20 1-44 1-8 1 16 1-15 1-14 1 50 1-20 1-9 1-48 1 57 1 30 1-36 1 1 1-19 1 28 1-33 1-7 1 6 1-2 1 37 1-47 1 35 1 37 1-87 1 52 1 18 1-35 1 2 1 23 1 8 1-33 1 11 1 14 1-57 1 43 1-8 1 14 1-14 1 23 1-23 1-24 1 57 1 11 1-3 1-26 1-8 1 6 1-13 1 7 1-29 1 50 1-42 1-3 1 36 1-70 1 13 1 23 1-8 1 41 1-1 1-20 1 43 1-35 1-13 1-15 1 83 1-89 1-26 1 53 1-20 1 76 1-23 1 9 1-5 1-60 1 60 1-35 1 7 1 51 1-83 1 54 1-3 1 5 1 36 1-48 1-12 1 9 1-19 1-24 1 16 1 44 1-60 1 39 1-41 1 36 1-6 1 16 1 13 1-14 1-29 1 47 1-26 1 17 1-21 1 17 1-56 1 19 1-7 1 6 1 1 1 31 1-27 1 9 1-1 1 48 1-26 1-33 1 33 1-4 1-25 1 12 1-14 1 20 1-31 1 30 1 44 1-36 1-51 1 47 1-13 1-5 1 2 1 33 1-16 1-48 1 28 1 60 1-23 1-73 1 53 1 36 1-46 1 35 1 13 1 12 1-22 1-14 1 16 1-13 1-55 1 39 1-11 1-8 1 20 1 2 1 1 1-20 1 25 1-4 1-60 1 45 1 10 1 40 1-89 1 53 1-17 1-14 1 54 1 50 1-93 1 43 1-35 1 28 1-13 1-20 1 13 1-39 1 53 1-41 1 11 1 42 1-81 1 44 1 16 1 21 1-30 1-24 1 43 1-51 1 36 1-15 1-16 1 6 1 4 1 5 1 22 1-19 1-2 1 17 1-32 1 36 1-62 1 51 1-39 1 36 1 25 1-44 1 38 1-10 1 19 1-63 1 36 1 23 1-77 1 71 1-9 1-39 1 17 1 45 1-17 1-11 1 23 1-10 1-9 1 5 1 16 1-87 1 72 1-4 1 39 1-26 1-41 1 8 1 12 1 11 1-8 1-45 1 42 1-27 1 49 1-30 1 3 1-26 1 24 1-16 1 14 1 12 1 22 1-42 1-13 1 70 1-80 1 46 1-21 1 34 1-29 1 4 1 35 1-21 1-36 1 18 1 10 1 32 1-69 1 30 1 2 1 45 1-46 1-6 1 21 1-7 1 37 1-61 1 79 1-35 1 1 1 22 1-99 1 25 1 28 1 41 1-42 1-4 1 1 1-13 1-3 1 49 1-52 1-39 1 41 1 52 1-40 1 1 1 25 1-33 1 35 1-29 1 27 1-45 1 74 1-58 1 45 1-75 1 80 1-42 1-27 1 25 1 31 1-48 1 59 1-69 1 59 1-57 1 46 1-9 1-21 1 76 1-91 1-15 1 69 1-25 1 36 1-33 1 33 1 10 1-34 1-4 1-11 1 2 1 8 1 40 1-93 1 70 1-15 1-22 1 26 1 5 1-4 1 5 1-37 1 41 1-49 1 75 1-7 1-49 1 22 1-15 1 62 1-72 1 6 1-11 1-15 1 34 1 17 1-3 1-49 1 61 1-13 1 2 1-16 1-27 1-6 1 31 1 48 1-43 1 41 1-10 1-30 1-7 1-6 1 8 1 12 1-23 1 39 1 0 1-42 1 42 1-16 1-13 1-13 1 13 1 49 1-64 1 66 1-31 1-30 1 38 1-57 1 17 1 28 1-3 1-46 1 101 1-56 1-4 1 1 1-4 1-11 1-14 1-23 1 40 1 13 1-19 1-9 1-15 1 25 1-5 1 32 1 14 1-43 1 7 1 8 1-3 1-32 1 19 1 17 1-13 1-30 1 20 1 16 1-3 1-16 1 27 1-1 1 43 1-66 1 50 1-64 1-4 1 58 1-34 1 31 1-45 1 51 1-66 1 91 1 6 1-15 2-19 1-26 1 30 1-9 1-32 1-20 1 35 1 16 1-24 1-21 1 13 1 12 1 64 1-59 1 12 1-55 1 57 1-9 1-4 1-7 1-12 1 29 1-28 1 21 1 0 1 27 1 8 1-100 1 60 1 18 1-19 1 31 1 50 1-82 1-14 1 54 1-55 1 7 1 28 1-16 1-35 1 17 1 7 1 71 1-40 1 14 1-54 1 50 1-23 1 19 1-3 1-15 1 22 1-27 1 34 1-24 1-23 1 7 1 38 1-9 1-36 1 9 1-14 1 26 1-31 1 12 1 10 1-43 1 34 1 1 1-29 1 15 1 35 1-3 1-37 1 16 1 46 1 30 1-40 1-50 1 71 1-9 1-22 1-3 1 20 1-45 1-24 1 59 1-24 1-22 1-4 1 79 1-40 1-22 1-35 1 41 1-44 1 29 1 16 1-4 1 2 1-41 1 62 1-16 1 5 1-4 1-108 1 137 1 19 1-60 1 12 1 37 1-55 1 16 1 4 1 2 1-34 1 51 1-42 1-33 1 31 1 4 1 39 1 31 1-45 1 26 1-90 1 38 1 24 1 7 1-57 1 8 1 37 1 25 1-13 1 0 1-24 1 35 1-13 1-42 1-1 1 45 1-42 1 29 1 21 1-42 1-19 1 32 1 36 1-33 1 10 1 27 1-25 1-29 1 17 1-6 1-26 1 36 1 5 1 6 1-53 1 66 1-38 1-22 1 30 1 30 1-4 1 22 1-12 1-39 1-7 1 16 1-46 1 28 1-15 1 24 1 38 1-58 1-21 1 96 1-99 1 44 1-15 1 62 1-48 1 53 1-20 1-37 1 26 1-62 1 74 1-110 1 64 1 24 1-6 1-81 1 68 1-10 1 40 1-54 1 25 1 43 1-42 1-7 1 65 1-40 1-7 1 65 1-89 1 28 1 17 1-22 1 28 1-20 1-11 1-27 1 39 1-27 1 88 1-39 1-21 1-5 1-30 1 41 1 14 1-46 1 22 1 16 1-63 1 50 1-16 1-35 1 29 1 5 1-15 1 20 1 17 1 56 1-75 1-10 1 37 1-39 1 43 1-17 1-57 1 60 1 3 1 14 1-16 1 0 1 18 1-54 1 23 1-12 1 55 1-11 1-21 1 2 1-24 1 17 1 33 1-50 1 14 1-1 1 2 1 10 1-21 1 4 1 36 1-57 1 35 1-2 1 15 1 21 1-94 1 6 1 52 1 32 1-32 1-50 1 63 1 46 1-51 1-9 1-12 1-3 1 8 1 5 1-3 1 20 1-8 1 13 1-30 1 46 1-41 1 14 1 14 1 2 1-17 1 1 1-5 1 11 1 9 1 9 1-8 1-35 1-45 1 84 1-37 1-24 1 66 1-51 1 4 1-40 1 55 1-3 1 21 1-15 1-1 1 18 1-44 1 14 1 34 1-17 1-39 1 14 1 44 1-20 1 21 1 9 1-63 1 30 1-17 1 20 1 6 1-7 1-19 1-45 1 16 1 43 1 0 1 0 1 7 1-13 1 24 1-14 1-30 1-14 1 33 1 17 1-30 1 8 1 42 1-33 1-23 1 73 1-40 1 3 1-58 1 44 1 34 1-5 1-54 1 39 1-46 1 35 1 2 1-2 1 19 1 13 1-14 1-5 1 4 1-64 1 34 1 18 1 4 1-6 1-8 1-2 1 40 1-72 1 46 1 14 1-9 1-15 1-8 1-42 1 56 1 12 1-4 1-26 1-14 1-24 1 53 1 31 1-55 1 25 1-9 1 2 1 38 1-23 1 5 1-35 1 11 1-8 1-2 1 63 1-28 1-8 1-17 1 6 1-4 1 12 1 12 1 3 1 27 1-26 1-37 1 51 1-37 1 34 1-12 1-2 1-24 1-53 1 22 1 66 1-65 1 23 1 11 1-17 1 50 1 1 1-17 1-43 1 33 1-5 1 2 1 21 1 9 1-41 1-2 1 37 1 3 1-21 1-15 1 47 1-50 1-26 1 55 1-42 1 16 1 24 1-44 1 26 1-41 1 18 1 15 1-9 1-11 1 43 1 15 1-40 1 11 1-32 1 24 1 21 1-43 1 17 1 22 1-1 1 5 1-66 1 59 1-22 1 40 1-6 1 13 1-41 1 22 1-56 1 59 1-36 1 28 1 21 1-59 1 36 1-23 1-30 1 25 1 33 1 13 1 2 1-55 1 56 1-33 1 53 1-48 1-22 1 71 1-57 1-37 1 42 1 12 1 12 1-9 1-24 1 34"/>
<path d="M751 3678l1-4 1-60 1 13 1-29 1-44 1-66 1 22 1 27 1-78 1 44 1-64 1-39 1-22 1 39 1-39 1-32 1 29 1-42 1-10 1-7 1-46 1-1 1 3 1-38 1-58 1 12 1-35 1-30 1 14 1-5 1 24 1-58 1-33 1 26 1-65 1 23 1-19 1-35 1 26 1-26 1-51 1 1 1-14 1 59 1-35 1-36 1-17 1-3 1 8 1-8 1-17 1-9 1-5 1 6 1 8 1-5 1-3 1-26 1-8 1 11 1 0 1-19 1 11 1 37 1-48 1 4 1 3 1-6 1-14 1-17 1 19 1-19 1-43 1-14 1 93 1-59 1 7 1 49 1-40 1-138 1 79 1 46 1-81 1 27 1-3 1-6 1 36 1-27 1-17 1 29 1-3 1-5 1-83 1 84 1-52 1 38 1-28 1 26 1-37 1 2 1 18 1 8 1-1 1-44 1 13 1-58 1 5 1 65 1-33 1-14 1 5 1-49 1 55 1-36 1 50 1 4 1-70 1 39 1 25 1-41 1 0 1 42 1-38 1-15 1-7 1-33 1 15 1 14 1-3 1-31 1 32 1 45 1-6 1-62 1 12 1-28 1-14 1 27 1 49 1-71 1-18 1 35 1-46 1 41 1 17 1-14 1-10 1 32 1-31 1 24 1-4 1-12 1 12 1-27 1-14 1 24 1-37 1 22 1-46 1 33 1 60 1 10 1-66 1 35 1-58 1 11 1 40 1-34 1 34 1-28 1-18 1-8 1-36 1 23 1-14 1 14 1 18 1 14 1-26 1 11 1 20 1-30 1-15 1 2 1 7 1 34 1-33 1-15 1 51 1-117 1 103 1-32 1-11 1 24 1-24 1-47 1 68 1-35 1 26 1 6 1-51 1 104 1-36 1-41 1 2 1-32 1 49 1-32 1-31 1 62 1-114 1 48 1 30 1-15 1-9 1 6 1 2 1-1 1-1 1 7 1 12 1-73 1 61 1-12 1 34 1 4 1-30 1-10 1 11 1-9 1 7 1 13 1-32 1-25 1 57 1-41 1 41 1-51 1 5 1 45 1-85 1 13 1 51 1-15 1-52 1 27 1 22 1-26 1 30 1-8 1-9 1 6 1 2 1 18 1-25 2-11 1 9 1-29 1-22 1 58 1-32 1 13 1-7 1-10 1 8 1 51 1-89 1 30 1 36 1-24 1 41 1-74 1 9 1 54 1-48 1 27 1 13 1-37 1-12 1-23 1 3 1 53 1 21 1-43 1 27 1-22 1 3 1 16 1 7 1 33 1-27 1-68 1 66 1-32 1-12 1 19 1 30 1-25 1-11 1 18 1-48 1 38 1-10 1-16 1 21 1-53 1 9 1 27 1-23 1 8 1 72 1-35 1-24 1-5 1-22 1 70 1-17 1-31 1 66 1-99 1 57 1-19 1 2 1-40 1 55 1-23 1-2 1 34 1-48 1 22 1-15 1 33 1-58 1 51 1-1 1 7 1-65 1 90 1-63 1 18 1-14 1-9 1-28 1 40 1 26 1-35 1-63 1 82 1 1 1-24 1 8 1 24 1-29 1 16 1 19 1 22 1-70 1 27 1-16 1 13 1-28 1 39 1-39 1 4 1 23 1 3 1-22 1-9 1 26 1-33 1 17 1-5 1-1 1 32 1-9 1 2 1 16 1-42 1 3 1 17 1-28 1 6 1-5 1 14 1 9 1 3 1-4 1 5 1-5 1-2 1-64 1 32 1 11 1 41 1-82 1 47 1 25 1-12 1 25 1-40 1 37 1-83 1 55 1-37 1 31 1 19 1-35 1-6 1 57 1-40 1-16 1-40 1-1 1 76 1-24 1-13 1-5 1 3 1 2 1-3 1 15 1 35 1-55 1 39 1-52 1 40 1-26 1-16 1 29 1-7 1 63 1-41 1-32 1 38 1-49 1 33 1 6 1-3 1-48 1-9 1 56 1 36 1-27 1-8 1-3 1-18 1 31 1-66 1 43 1-45 1 9 1 37 1 23 1-39 1 19 1 11 1 17 1-3 1-42 1-6 1 9 1-1 1-12 1 23 1-25 1 24 1 27 1-27 1-19 1-8 1 7 1 27 1-16 1-4 1-11 1-71 1 27 1 37 1-39 1 52 1 43 1-62 1-14 1 23 1 0 1 25 1-21 1 22 1 6 1 26 1-88 1 30 1-43 1 45 1-5 1 41 1-44 1 29 1-33 1-36 1 35 1 15 1 22 1-17 1 46 1-33 1 7 1 19 1-10 1-52 1 45 1-87 0 67 1-7 1 5 1 1 1 1 1 1 1 6 1 1 1 3 1 6 1 1 1 3 2-3 1 2 1 8 1-3 1 8 1-14 1 17 1 0 1 1 1 8 1-13 1 12 0-34 1-17 1 52 2-18 1 42 1-54 1 10 2 32 1-57 1 23"/>
<path d="M1299 2311l1 37 1-19 1-43 1 27 1 1 1 3 1 23 1 28 1-44 1-42 1 42 1-35 1 42 1-47 1 26 1 16 1 20 1-25 1 4 1-5 1 72 1-84 1 2 1 14 1 21 1-54 1 24 1 10 1 14 1-67 1 51 1-12 1 11 1 12 1 3 1-22 1-18 1 49 1-25 1 6 1-64 1 36 1-40 1 29 1 72 1-70 1 47 1-82 1 107 1-70 1 19 1-24 1 8 1 20 1-33 1 15 1 10 1 16 1 16 1-46 1-21 1 14 1-22 1 48 1 0 1-17 1 18 1-17 1 40 1-13 1-5 1 5 1-21 1-29 1 73 1-40 1-45 1 24 1 40 1-56 1 40 1-5 1 5 1-9 1 10 1-42 1 31 1-26 1 24 1 15 1-28 1 2 1 69 1-66 1 47 1-77 1 63 1-42 1 8 1 20 1-41 1 33 1-11 1 32 1-48 1 46 1-50 1 6 1 32 1-27 1 10 1 55 1-61 1-17 1 20 1 48 1-61 2 37 1-50 1 61 1-83 1 21 1-5 1 81 1-9 1-19 1-25 1 7 1-13 1-2 1-25 1 42 1 36 1-10 1-78 1 52 1-3 1-24 1-25 1 50 1-51 1 25 1 75 1-60 1 4 1-27 1 10 1-4 1-22 1 16 1 29 1-12 1 21 1-14 1-1 1 30 1-36 1-52 1 36 1 33 1 3 1-26 1-15 1 71 1-55 1 37 1-29 1-4 1-2 1-11 1-6 1 14 1-36 1 64 1-14 1-23 1 1 1-14 1 49 1-23 1-6 1-25 1 64 1-21 1-55 1 50 1 14 1-36 1 32 1-57 1 68 1-17 1-9 1 0 1-30 1 43 1-27 1-26 1 6 1-2 1 5 1 98 1-95 1 36 1-40 1 82 1-70 1 16 1-40 1 75 1-21 1-43 1 22 1-23 1 32 1-1 1-39 1-15 1 23 1 20 1 8 1-23 1 26 1-40 1 52 1-24 1-27 1-9 1 8 1-8 1 30 1-14 1 50 1-79 1 52 1 36 1-37 1 15 1-7 1-24 1 29 1-48 1 45 1-18 1-12 1-40 1 89 1-37 1-12 1-8 1 22 1 6 1 16 1-3 1-32 1-30 1 87 1-20 1-17 1-11 1-12 1-41 1 45 1 1 1-19 1 53 1-29 1-22 1 2 1 57 1-72 1 50 1 11 1 0 1-46 1-10 1 77 1-87 1 48 1 8 1 0 1 15 1-84 1 45 1 8 1-3 1-9 1-14 1 24 1-17 1-1 1-29 1 38 1-36 1 13 1 49 1-30 1 27 1-53 1 35 1 15 1-48 1-7 1 18 1 38 1-22 1-2 1 16 1-36 1 26 1-14 1-21 1 85 1-45 1-62 1 46 1-4 1-2 1-44 1 16 1-5 1 34 1 23 1-33 1 48 1-41 1 49 1-21 1-56 1 54 1-18 1-50 1 18 1 31 1 6 1-20 1 5 1 31 1-6 1-32 1 14 1-26 1 27 1 5 1 48 1-67 1-3 1-3 1-23 1-12 1 36 2-17 1 51 1-53 1 14 1-38 1 65 1 6 1 12 1-48 1-42 1 2 1 49 1 25 1-23 1 26 1-47 1 41 1 3 1-22 1-16 1 20 1-28 1-11 1 73 1-24 1 1 1-15 1-24 1 12 1 3 1-3 1-23 1 10 1 22 1-3 1-48 1 95 1-58 1 44 1-2 1-19 1-37 1 32 1-87 1 62 1 26 1-47 1 62 1-19 1-8 1-52 1 87 1-62 1 17 1-4 1-41 1 41 1-24 1 13 1 18 1-41 1 16 1-3 1 15 1-3 1 37 1-52 1-25 1-15 1 20 1 35 1 42 1-56 1 8 1-3 1 21 1 10 1-15 1 3 1 32 1-107 1 90 1-51 1 3 1 26 1 14 1-82 1 94 1-5 1-25 1 9 1-51 1 38 1-41 1 14 1 49 1-49 1 45 1-16 1-17 1 30 1-33 1 9 1 52 1-46 1 12 1-17 1 21 1-52 1-20 1 93 1-38 1 3 1-5 1-7 1-10 1 17 1-21 0 12 1 1 1 9 1 7 1-6 1 3 1 2 1 7 1 11 1-5 1-1 1 5 1 2 1 7 1 0 1 7 1-1 1 7 1-2 1-1 1 1 1 12 1-2 1 4 1-2 1 5 1 4 1 6 1 6 1-1 2 5 1 1 1 2 1 8 1 5 1-1 1 0 1 5 1 6 1 4 1-2 1 4 1 2 1 6 1-5 1 9 1-5 1 8 1 8 1 0 1 3 1 2 1 3 1 7 1-1 1 4 1 4 1 1 1 2 1 3 0 38 1-35 1-13 1-10 1-11 1 44 1-5 1 46 1-18 1-67 1 42 1 10 1-8 1-25 1 21 1 1 1 23 1-31 1 20 1-4 1-42 1 0 1 22 1 0 1-30 1 3 1 21 1 9 1-30 1 25 1 25 1-39 1 0 1-15 1 64 1-20 1-54 1 53 1-33 1 63 1-53 1 30 1-9 1 36 1-51 1 29 1-14 1-18 1 34 1-52 1 54 1 20 1-35 1-7 1-8 1 12 1 40 1-54 1 28 1-39 1 11 1 13 1-44 1 65 1-45 1-6 1 70 1-94 1 86 1-57 1 25 1 10 1-58 1 37 1-7 1-20 1 45 1-8 1-18 1 39 1-45 1 18 1 17 1-41 1 39 1 5 1-29 1 19 1-48 1 43 1 22 1-69 1 36 1-43 1 72 1-43 1 8 1 19 1-17 1 18 1-36 1 2 1 26 1-15 1 12 1 40 1-40 1 3 1 20 1-30 1-4 1-25 1 6 1 55 1-11 1 5 1-30 1 40 1-48 1-5 1-12 1 67 1-19 1 8 1-2 1 18 1-71 1 37 1-42 1-11 1 90 1-28 1-14 1 31 1-4 1 12 1-22 1 7 1-25 1 11 1-44 1 69 1-16 1 17 1-46 1-22 1 15 1 2 1-31 1 64 1 20 1-52 1 54 1-36 1 24 1-26 1-69 1 53 1 31 1-47 1 53 1-15 1 6 1-14 1 57 1-94 1 60 1-37 1 28 1-29 1 1 1 41 1-50 1 75 1-52 1-28 1 99 1-90 1 52 1-24 1 4 1 16 1-14 1-5 1 3 1 27 1-52 1-50 1 77 1 41 1-24 1-66 1 27 1 32 1-55 1 3 1 16 1 52 1-38 1-13 1-13 1 49 1-1 1 2 1-60 1-33 1 3 1 86 1-13 1 7 1-9 1 4 1 21 1-13 1-5 1-10 1 21 1-9 1-29 1 24 1 2 1 36 1-46 1 34 1-28 1 13 1-14 1 21 1-21 1 29 1-89 1 62 1 22 1-94 1 75 1-38 1-23 1 66 1-48 1 46 1-30 1 15 1 8 1-14 1 26 1-23 1 59 1-79 1 27 1-6 1-1 1-45 1 104 1-61 1 11 1 9 1-52 1 46 1-22 1 33 1-55 1 90 1-46 1-19 1 15 1-17 1 30 1-57 1 110 1-99 1 13 1 69 1-95 1 57 1-63 1 71 1-46 1 37 1 6 1-29 1 23 1-18 1 4 1 9 1-35 1 44 1-67 1 62 1-23 1 45 1-18 1-28 1 30 1 4 1-37 1 8 1-6 1 9 1 9 1-2 1-4 1-9 1 21 1 14 1-12 1-34 1 76 1-61 1 14 1 3 1-49 1 56 1-12 1-9 1 16 1 19 1-25 1-43 1 64 1-10 1-41 1 57 1-44 1 8 1-40 1 100 1-64 1-11 1 34 1-22 1-6 1-4 1 26 1-19 1 11 1-31 1 4 1 37 1 20 1-74 1 44 1 21 1-13 1 16 1 0 1-62 1-9 1 54 1-3 1 15 1-55 1 54 1-8 1-28 1 82 1-99 1 61 1-20 1 42 1 6 1-35 1-49 1 52 1-25 1-63 1 80 1 23 1-59 1-20 1 43 1-11 1 5 1 23 1-67 1 29 1-6 1-1 1 31 1-20 1 15 1-2 1 3 1-40 1 34 1-4 1 13 1-21 1 17 1-14 1 30 1-2 1-23 1 43 1-35 2-2 1 6 1-6 1 3 1 12 1-17 1 58 1-23 1 12 1-60 1 15 1 57 1-8 1-36 1-3 1-8 1 5 1 24 1-54 1 11 1 33 1-18 1 12 1-4 1 13 1-10 1-35 1 36 1-52 1 25 1-4 1-26 1 79 1-21 1-13 1 17 1-5 1-11 1-22 1 82 1-46 1-31 1 80 1-89 1 15 1 19 1-8 1-19 1-7 1 16 1 7 1-6 1-5 1-16 1-15 1 101 1-35 1-41 1 54 1-66 1 53 1-38 1 80 1-85 1 33 1-47 1 44 1-9 1-34 1 43 1-53 1 21 1 45 1-10 1-29 1-2 1 15 1-23 1 9 1 49 1-6 1-80 1 41 1-4 1 8 1-6 1 20 1-14 1 24 1-49 1 25 1-4 1-6 1 12 1 44 1-49 1-5 1-23 1-7 1 40 1 29 1-15 1-37 1 48 1 10 1 11 1-18 1-31 1-15 1 32 1 21 1-24 1-15 1 29 1-43 1 45 1-13 1 0 1-33 1 48 1 20 1-57 1 37 1-26 1-11 1 26 1 43 1-59 1 22 1-32 1-17 1 23 1 27 1-2 1-8 1-15 1 22 1-66 1 36 1-24 1 37 1 19 1-59 1 54 1-16 1 3 1 22 1-58 1 47 1-17 1-27 1 78 1-16 1-22 1-2 1-9 1 16 1-51 1 26 1 48 1-21 1-55 1-18 1 72 1-16 1-15 1 7 1-15 1 23 1-12 1 17 1 21 1-23 1-15 1 41 1-15 1 15 1-5 1-28 1-24 1 36 1 11 1-7 1-52 1 67 1-71 1 38 1 32 1 24 1-18 1-65 1 81 1-38 1 33 1-69 1 32 1 4 1 25 1-60 1 77 1-50 1-20 1-5 1 75 1-71 1 6 1 27 1 7 1-34 1 15 1-33 1 75 1-54 1 58 1-58 1 72 1-64 1 73 1-89 1 53 1-1 1-34 1 0 1-32 1 14 1 33 1-24 1 25 1 24 1-31 1-23 1 39 1-47 1 77 1-48 1 25 1-18 1 29 1-33 1-41 1 68 1-42 1-14 1-22 1 43 1 12 1 21 1-21 1 2 1-7 1 26 1-14 1-55 1 33 1-6 1 12 1-30 1 27 1-27 1 50 1-7 1 2 1-41 1-17 1 48 1-26 1 40 1-16 1-2 1-4 1-22 1 13 1 36 1-28 1-20 1-2 1 20 1 39 1-30 1 20 1 10 1 37 1-28 1-25 1 15 1-20 1 28 1-4 1-32 1-40 1 30 1-31 1 35 1 12 1 0 1-11 1-37 1 37 1-18 1-4 1 7 1 25 1-7 1 16 1-26 1-7 1 7 1-8 1 32 1 0 1 0 1-27 1 2 1 18 1-63 1 112 1-42 1 0 1-13 1 69 1-77 1-26 1 41 1 23 1 44 1-73 1-34 1 19 1-5 1 24 1 59 1-65 1 24 1-41 1-28 1 34 1 4 1 5 1-21 1 51 1-22 1-31 1 8 1 4 1 31 1-15 1 0 1-27 1 40 1 30 1-51 1-13 1 0 1 22 1-9 1 0 1 24 1-47 1 37 1-12 1 31 1-27 1-3 1 5 1 0 1 8 1-38 1-14 1 76 1-34 1 27 1-9 1-27 1-3 1 43 1 16 1-113 1 71 1 5 1-30 1 21 1-2 1 4 1-2 1 17 1-57 1 69 1-19 1 45 1-36 1-2 1-28 1 26 1 17"/>
</g>
<g transform="scale(0.1)" fill="none" stroke="#1a1a1a" stroke-width="10" stroke-opacity="1.0" stroke-linejoin="round">
<path d="M847 3559l2-20 1-80 2-38 2-76 1-18 2-28 2-64 1-28 2-37 2-48 1-29 2-6 2-22 1-10 2-35 2 2 1-8 2-36 2-2 1-43 2-2 2 10 1-50 2-29 2 34 1-85 2 1 2 9 1-15 2 11 2 3 1-35 2 6 2 0 1-8 2-36 2-17 1 20 2 6 2-37 1 14 2 17 2-19 1-10 2 7 2 10 1-64 2 38 2 13 1-65 2 35 2-12 1 19 2-13 2 22 1-17 2 7 2-25 1 23 2-55 2 31 1 2 2 1 2-33 1 41 2 4 2-5 1-36 2 5 2 2 1 4 2-17 2 14 1 17 2-76 2 38 1 40 2-20 2 1 1-1 2-25 2 17 1 4 2-26 2 13 1-10 2 44 2-23 1-25 2 27 2 14 1-28 2 10 2 16 1-1 2-10 2-2 1-15 2 17 2-11 1-4 2 16 2-14 1 3 2 1 2 26 1-30 2 23 2 0 1-10 2 8 2 0 2 6 1-30 2-8 2 10 1 10 2 13 2-30 1 4 2 11 2 0 1 21 2 5 2 9 1-10 2-15 2-3 1 15 2-22 2-5 1 29 2-22 2 30 1-11 2-8 2-12 1 8 2-4 2-1 1-2 2 2 2 15 1-33 2 41 2-5 1-33 2 36 2-1 1 10 2-20 2 12 1-30 2 22 2-8 1-14 2 13 2-26 1 46 2-8 2-15 1-4 2 5 2 6 1 4 2-5 2-26 1 28 2-15 2-20 1 46 2-23 2-10 1 43 2-15 2-5 1-5 2 3 2 7 1-43 2 19 2 8 1-8 2 0 2 7 1 31 2-41 2 31 1-29 2 5 2-4 1 49 2-42 2-12 1 57 2-50 2 4 1 5 2-22 2 39 1-16 2 10 2 27 1-16 2-17 2 8 1-19 2 12 2-20 1 22 2-8 2 4 1 2 2-21 2 9 1 19 2 19 2-45 1 1 2 19 2-17 1 8 2-6 2 6 1 13 2-5 2-7 1 3 2-5 2-41 1 68 2 19 2-32 1 16 2-40 2 17 1 6 2 7 2 8 1-22 2 24 2-22 1 12 2-63 2 37 1 15 2-1 2-22 1 36 2-23 2 6 1 18 2-1 2-19 1-30 2 46 2-7 1-33 2 38 2-12 1 27 2-36 2 32 1-35 2-24 2 41 1 1 2-10 2 20 1 5 2-12 2-19 1 20 2-12 2 0 1 14 2 8 2-6 1 7 2 1 2-14 1 16 2-17 2 29 1-56 2-22 2 37 1 8 2-51 2 53 1 9 2-31 2 20 1-13 2 14 2 0 1 3 2-8 2 19 1-2 2 0 2-7 1 4 2-31 2 34 1-9 2 14 2-53 1 28 2 9 2 22 1-20 2-29 2 32 1-14 2 22 2-5 1-8 2-7 2-8 1 57 2-15 2-14 1 13 2-43 2 19 1 17 2-5 2-24 1-3 2 9 2-13 1 35 2-14 2-24 1 11 2 16 2 3 1-3 2 8 2-10 2-3 1-5 2 1 2 0 1-8 2 3 2-9 1-3 2 4 2 17 1-12 2 13 2 32 1-22 2-43 2 34 1-7 2-40 2 59 1-6 2-25 2 29 1-8 2-9 2 3 1-4 2 19 2 10 1-31 2-13 2 34 1-47 2-1 2 68 1-31 2 19 2-22 1-25 2 22 2-15 1 18 2 23 2-14 1-21 2-3 2 2 1 3 2 10 2 18 1-38 2 12 2 9 1 20 2-7 2 7 1-26 2 16 2-7 1 10 2-25 2-10 1 58 2-31 2 26 1-21 2-35 2 34 1 6 2-64 2 50 1 0 2 4 2-28 1 36 2-16 2 4 1-24 2 13 2 29 1-36 2 22 2-7 1-20 2 11 2-7 1 19 2 1 2 1 1 1 2 22 2-20 1-4 2-8 2-8 1 30 2-39 2 50 1-39 2 2 2-9 1 44 2-13 2-33 1-6 2 43 2-29 1 44 2-60 2 27 1 7 2-12 2 14 1-41 2 52 2-29 1 6 2 10 2-11 1-10 2-11 2 30 1-3 2 20 2-32 1 4 2-6 2-9 1 44 2-29 2 28 1-41 2 9 2-9 1 1 2 4 2 13 1-39 2 45 2 5 1-22 2 41 2-16 1-25 2-15 2 30 1-8 2-5 2 20 1-26 2 35 2-11 1 0 2-2 2-31 1 33 2 1 2-8 1 11 2-44 2 45 1-32 2 46 2-42 1 18 2-30 2 36 1-36 2 28 2 4 1-3 2-34 2 35 1-1 2 2 2 15 1-41 2 23 2 0 1-17 2 9 2 5 1 4 2-23 2 0 1 31 2-22 2-5 1 10 2 25 2-6 1 10 2-27 2 28 1-40 2 10 2 6 1 32 2-15 2-9 1-12 2 13 2-15 1-18 2-9 2 39 1-2 2 4 2 5 1-19 2 6 2 27 1-24 2-24 2 27 1-31 2 66 2-31 1-25 2 26 2-27 1-17 2 43 2-18 2 10 1-10 2 17 2-39 1 20 2 2 2 20 1 0 2-4 2-10 1-5 2 12 2 3 1-36 2 22 2-39 1 55 2-2 2-28 1-12 2 49 2-21 1-14 2 10 2 34 1-22 2 22 2-32 1 29 2-28 2 0 1 19 2-28 2 45 1-40 2-22 2 15 1 30 2-22 2 31 1-14 2-35 2 18 1-24 2 14 2 11 1-8 2 1 2-20 1 30 2 21 2-16 1 6 2 2 2-15 1-8 2 24 2-12 1-18 2 2 2-10 1 43 2-11 2 13 1-47 2 39 2-21 1 6 2-6 2 19 1-35 2 26 2-7 1-17 2 19 2 38 1-74 2 33 2 3 1-4 2 8 2 6 1-5 2 10 2 15 1-50 2 15 2 18 1 25 2-41 2 17 1 5 2-10 2-8 1-12 2 6 2-18 1 30 2-6 2-6 1-1 2-6 2 9 1 18 2 14 2-31 1-16 2 33 2 14 1-21 2-36 2 37 1 17 2-7 2-19 1 6 2-8 2-29 1 54 2-31 2-21 1 70 2-46 2 1 1 14 2 11 2-35 1 28 2-49 2 58 1-42 2 6 2 2 1 7 2 12 2 12 1 4 2-6 2-17 1 36 2-24 2-16 1-1 2-6 2-3 1-6 2 12 2-14 1 42 2-36 2 18 1-2 2 11 2 8 1-24 2-14 2 21 1 21 2 21 2-18 1-11 2-17 2-16 1 19 2 10 2-4 1-13 2 4 2 28 1 0 2-25 2 26 1 15 2 2 2-30 1-19 2 47 2-28 1 23 2-36 2-14 1 28 2-10 2 13 1 11 2-28 2 15 1-32 2-11 2 15 1 36 2-3 2-22 1-11 2 14 2 28 1-21 2-5 2 4 1-9 2 1 2 0 1-19 2 32 2-41 1 34 2 43 2-41 1-11 2-12 2 1 1 22 2 25 2-12 1-11 2-7 2 14 1-34 2 40 2-8 1-5 2 1 2 0 1-4 2 9 2-24 1 0 2 9 2 33 2-20 1 8 2-10 2-2 1-40 2 23 2-2 1-4 2 23 2 24 1-7 2 14 2-30 1-7 2-10 2 8 1 13 2-22 2 12 1-14 2 16 2-11 1-3 2 12 2 4 1-1 2 8 2-21 1 23 2-21 2 40 1-47 2 10 2-3 1-10 2 2 2 11 1 28 2-27 2 9 1-35 2 44 2-18 1 14 2-26 2 18 1 7 2 3 2 14 1-22 2-3 2-16 1 17 2-10 2 24 1-35 2 22 2-22 1 35 2-60 2 56 1-29 2 42 2-42 1 11 2-22 2 20 1-10 2 18 2 4 1-7 2-8 2 22 1 15 2-10 2-10 1 14 2-13 2-11 1-12 2 6 2 4 1-17 2 30 2-8 1-7 2 12 2-15 1-2 2-8 2 20 1-8 2 5 2-8 1 6 2-16 2 18 1-11 2 14 2 13 1-5 2-3 2-10 1 7 2-28 2 13 1 12 2-11 2-4 1 2 2 18 2-8 1-12 2 4 2 28 1-32 2 42 2-43 1-5 2 21 2-16 1 15 2 3 2 1 1-28 2 28 2-11 1 44 2-20 2-31 1 33 2-44 2 24 1 14 2-18 2 14 1-10 2 3 2-35 1 19 2-21 2 18 1 3 2-14 2-3 1 21 2-3 2 27 1-11 2 13 2-37 1 9 2-28 2 21 1-4 2 12 2 7 1-8 2-6 2 24 1 3 2-17 2 14 1 7 2-26 2 31 1-38 2 27 2 0 1-9 2-9 2 24 1-6 2 25 2-12 1-29 2 7 2 3 1-32 2 38 2-34 1 29 2-5 2 23 1-30 2 29 2-15 1-3 2 11 2-1 1 8 2-39 2 20 1 9 2-5 2-1 1 0 2-22 2-8 1 66 2-51 2 23 1-11 2-26 2 31 1 3 2-21 2 7 1 45 2-46 2-8 1-8 2 33 2-21 1 7 2-10 2 25 1-43 2 5 2 11 1 11 2-28 2 34 1-10 2-14 2 23 2-21 1 8 2 4 2 3 1-18 2-6 2 29 1 17 2-25 2-1 1 9 2-41 2 43 1-32 2 19 2 25 1-21 2 7 2-20 1-10 2 24 2-9 1 41 2-7 2-34 1 14 2-1 2-32 1 29 2-13 2 28 1-18 2 9 2 9 1-22 2-9 2-4 1 5 2 13 2 11 1-17 2 4 2-9 1 20 2-16 2-3 1 7 2-3 2-3 1 10 2-2 2-42 1 18 2 28 2-7 1-6 2 24 2-9 1-39 2 48 2-16 1 0 2 1 2 17 1-23 2-6 2 26 1-16 2 16 2-36 1 20 2-9 2-7 1-2 2 3 2 16 1 5 2 14 2-44 1 59 2-31 2 31 1-19 2 9 2-23 1-14 2 25 2-8 1-37 2 46 2 8 1-27 2 13 2-38 1 13 2 13 2 16 1-7 2-34 2 11 1 48 2-31 2 3 1-4 2 10 2-15 1-22 2 21 2-1 1 1 2 15"/>
<path d="M885 3663l2-43 1-39 2-33 2 8 1-62 2-33 2-31 1-31 2-21 2-23 1 15 2-28 2-34 1-25 2-29 2 3 1-1 2 26 2-70 1-12 2-21 2 7 1-16 2-22 2-9 1-26 2 0 2 5 1-6 2-11 2-20 1-42 2 33 2-9 1 6 2-32 2-28 1 39 2-8 2-26 1-3 2 37 2-45 1-18 2 22 2-20 1-11 2 7 2-46 1 16 2-10 2 3 1-4 2-26 2 8 1-9 2 15 2-37 1 26 2-7 2-22 1-8 2-6 2 9 1-2 2 4 2 4 1-20 2 29 2-20 1 3 2-10 2-8 1-1 2-16 2 10 1-6 2-13 2 19 1 18 2-4 2 5 1-52 2 33 2 27 1-29 2-23 2 30 1 22 2-28 2-9 1 10 2-7 2-41 1 35 2-4 2 32 1-12 2-12 2-9 1 32 2-1 2-44 1 15 2-9 2 2 1-18 2 8 2 35 1 8 2-18 2-15 2-15 1 24 2 0 2-21 1 26 2 14 2-22 1-26 2 12 2 5 1 14 2 29 2-35 1 23 2 2 2-5 1-24 2 27 2-6 1 2 2-3 2-40 1 30 2-11 2 13 1 21 2-29 2 28 1 15 2-71 2 83 1-55 2-37 2 57 1-5 2-8 2-8 1 7 2-10 2 13 1 11 2-11 2-8 1 4 2 5 2 9 1 11 2-9 2-27 1 42 2-14 2-11 1 14 2-21 2 8 1-17 2 10 2 5 1-10 2 29 2-33 1 7 2 0 2-10 1 35 2 16 2-40 1 5 2-2 2 22 1-10 2-28 2 11 1-17 2 42 2-7 1 1 2-15 2 14 1-8 2-28 2 6 1 18 2-16 2 35 1-32 2 56 2-37 1 17 2-27 2 7 1-29 2 31 2-4 1-15 2-13 2 57 1-37 2-2 2 33 1-52 2 64 2-78 1 24 2-16 2 35 1-26 2 50 2-10 1-3 2-13 2 31 1-4 2-12 2-41 1 28 2-1 2 7 1 6 2-10 2 14 1-19 2 4 2 16 1 11 2-15 2 2 1-6 2-5 2-1 1 9 2 8 2 3 1-34 2-12 2 28 1 16 2 8 2 12 1-10 2-44 2 12 1 0 2 21 2-22 1 9 2-24 2 48 1-25 2-4 2 2 1-15 2 26 2-10 1 38 2-57 2-6 1 31 2 6 2 0 1 22 2-10 2-17 1-2 2-7 2-5 1 19 2-2 2 13 1-30 2 4 2-2 1 22 2-10 2-13 1 12 2 3 2 4 1-15 2-17 2 38 1 27 2-32 2-14 1 34 2-22 2-6 1 12 2-3 2-36 1 23 2 45 2-53 1 34 2-37 2 3 1 13 2-23 2 16 1 44 2-38 2 19 1-17 2-7 2 14 1-1 2 1 2-11 1 0 2-14 2 24 1-14 2 0 2 18 1 5 2 1 2-33 1 10 2 34 2-40 1 23 2-24 2 5 2-17 1 36 2-22 2-26 1 19 2 50 2-15 1-27 2-10 2 50 1-25 2-7 2 10 1-2 2-1 2-5 1 13 2-28 2 7 1 48 2-62 2-23 1 47 2-11 2 13 1 4 2-11 2 16 1 16 2-43 2 34 1-11 2-50 2 56 1-17 2-8 2 42 1-61 2 36 2-21 1 10 2 17 2-16 1 23 2-31 2 9 1-2 2 20 2-11 1-25 2 38 2 3 1-12 2-11 2 14 1-19 2 1 2-14 1 7 2 24 2-2 1 0 2 0 2 11 1-28 2 20 2-14 1-1 2 19 2 13 1-49 2 12 2 21 1 14 2-35 2 28 1-7 2-4 2-7 1 5 2-26 2 19 1 26 2-17 2-2 1-15 2 2 2 12 1 16 2-14 2 4 1-23 2 11 2 0 1-5 2 20 2-27 1 13 2-1 2 5 1-8 2 28 2-33 1 26 2-18 2 31 1-49 2 17 2-25 1 24 2 12 2 4 1-23 2 22 2-12 1 2 2 4 2-3 1 3 2 16 2-17 1-17 2 25 2-14 1-9 2-9 2 14 1 21 2-23 2-13 1 34 2-27 2 28 1-30 2 58 2-62 1 30 2-55 2 51 1 8 2-27 2 35 1-8 2 10 2-20 1 0 2-26 2 20 1 27 2-33 2-9 1 9 2 5 2 29 1-24 2-20 2 27 1 6 2-23 2 20 1-37 2 40 2-15 1 9 2-11 2 32 1-39 2 5 2 1 1-7 2-1 2 30 1-23 2-16 2-3 1 39 2-15 2-1 1-5 2-6 2 8 1-2 2 7 2 3 1-39 2 34 2-9 1 34 2-51 2 6 1 27 2-19 2 27 1-21 2 23 2-3 1-20 2 16 2-8 1 7 2-32 2 32 1-23 2 31 2-34 1 20 2-32 2 24 1 12 2-2 2-2 1 22 2-12 2-9 1-14 2 7 2 27 1-11 2-10 2 10 1-10 2-40 2 58 2-21 1-1 2-4 2 15 1 16 2-13 2-7 1 25 2-22 2 2 1 35 2-54 2 5 1-7 2 4 2 47 1-42 2 32 2-33 1-2 2-4 2 5 1 3 2 23 2-15 1-1 2 33 2-40 1 14 2-16 2 18 1-17 2 13 2 17 1-25 2 1 2-22 1 16 2 10 2-32 1 6 2 52 2-65 1 19 2 35 2-22 1-23 2 30 2 28 1-41 2-1 2 28 1-18 2 2 2-17 1 18 2 32 2-21 1 2 2-34 2 2 1 8 2-33 2 42 1-26 2 31 2-18 1 16 2 2 2-42 1 32 2 4 2-15 1 14 2-9 2 16 1 1 2-21 2 17 1 5 2 0 2-12 1 1 2 9 2 0 1-41 2 42 2-4 1-3 2-6 2 9 1-2 2 1 2-29 1 29 2-46 2 48 1-11 2-20 2 44 1 7 2-35 2-5 1 37 2-35 2 27 1-36 2 50 2-5 1-52 2 21 2 11 1-22 2 1 2 11 1-10 2 14 2 28 1-29 2 2 2-7 1 24 2-3 2-10 1 23 2-40 2 26 1-11 2-11 2 33 1-35 2 7 2 22 1-71 2 53 2 12 1 3 2-13 2-36 1 24 2-4 2 22 1 19 2-51 2 28 1 9 2-14 2-18 1 32 2 6 2-15 1 2 2 7 2-12 1 6 2-46 2 6 1 47 2-24 2 32 1-12 2 19 2-26 1 2 2-4 2 9 1 5 2-7 2-3 1-11 2 8 2 26 1-51 2 35 2-19 1 15 2-27 2 7 1 4 2 16 2-19 1-31 2 55 2-34 1 17 2-30 2 41 1-31 2 13 2 10 1 33 2-40 2 19 1-9 2-1 2-14 1-1 2-12 2-12 1 39 2-12 2-11 1 21 2 15 2 21 1-46 2 27 2-9 1-7 2 0 2-11 1 2 2-3 2 26 1 26 2-36 2-2 1-20 2-11 2 36 2-9 1-49 2 32 2 18 1 12 2-53 2 41 1-12 2 22 2-1 1-14 2 12 2-47 1 73 2-65 2 26 1 21 2 10 2-54 1 54 2-4 2 15 1-48 2 7 2-23 1 50 2-26 2-13 1-12 2 21 2 30 1-39 2 8 2 24 1-25 2 1 2 1 1 32 2 20 2-19 1-51 2 30 2-25 1 21 2-15 2 26 1-13 2-5 2 17 1-4 2 7 2-39 1 6 2 10 2 5 1 14 2 13 2-45 1 33 2-27 2 42 1 28 2-57 2 17 1 0 2-15 2 0 1 12 2-3 2-15 1 5 2 7 2 2 1-16 2 7 2 37 1 13 2-47 2-11 1 23 2-20 2 5 1-18 2 23 2-23 1 33 2-6 2 12 1-10 2-8 2-2 1 20 2-14 2 5 1-27 2 38 2 12 1-19 2-26 2 8 1 9 2-9 2 13 1 22 2-62 2 46 1 16 2-37 2 19 1-16 2-4 2 11 1 21 2-38 2 20 1 7 2-16 2 14 1-12 2 2 2-14 1 41 2-22 2-8 1 6 2 5 2-25 1 28 2-3 2-13 1 2 2 1 2-12 1-13 2 29 2-28 1 0 2 8 2-6 1 22 2 12 2 23 1-11 2-2 2-28 1-19 2 13 2 16 1 25 2-31 2 28 1-26 2 11 2 13 1-37 2 20 2 24 1-14 2-14 2 8 1 2 2-2 2-4 1 30 2-43 2 18 1-17 2 26 2 13 1-19 2 4 2-2 1-10 2-30 2 40 1-29 2-13 2 16 1 1 2 8 2 1 1-23 2 23 2 31 1-30 2-17 2 25 1 7 2-48 2 20 1-10 2 4 2 16 1 5 2 19 2-15 1-2 2-16 2 31 1 10 2-22 2-9 1-37 2 34 2-39 1 63 2-57 2 54 1-23 2 7 2 4 1-17 2 24 2 10 1 7 2-25 2 4 1 19 2-24 2 19 1-36 2 10 2 33 2-29 1-9 2-2 2 30 1 0 2-30 2 17 1-20 2 0 2 36 1-25 2 2 2 7 1-12 2-14 2 8 1 15 2 14 2 5 1-9 2 2 2 5 1-22 2 19 2-44 1 45 2 14 2-23 1-11 2-1 2-22 1 12 2-4 2 14 1 32 2-32 2 29 1 0 2 5 2-30 1-10 2 18 2-29 1 22 2-26 2 24 1 15 2-15 2 18 1-11 2 8 2 15 1-38 2 6 2 21 1-58 2 35 2 11 1-8 2-2 2-7 1-25 2 18 2 19 1 22 2-26 2-21 1 17 2-5 2-20 1 53 2-8 2-8 1-11 2-14 2 22 1 9 2-8 2 6 1-38 2 41 2 22 1-4 2-5 2-27 1-9 2 35 2-29 1 23 2-4 2 7 1-14 2-22 2 29 1-4 2-17 2 41 1-45 2 27 2-19 1 18 2 0 2 5 1-49 2 9 2 27 1-5 2-1 2 20 1 6 2-3"/>
</g>
<g transform="scale(0.1)" fill="none" stroke="#1a1a1a" stroke-width="5" stroke-opacity="0.55" stroke-linejoin="round">
<path d="M847 3625l1-84 1-46 1-32 1-47 1 14 1-64 1 0 1-66 1 29 1-79 1-44 1 1 1-3 1-7 1-15 1-28 1-8 1-30 1 30 1-30 1-28 1-24 1 6 1-34 1-39 1-10 1 3 1 22 1-23 1-1 1-4 1-32 1 15 1-33 1-20 1 35 1-51 1-50 1 10 1 73 1-69 1 30 1-12 1-55 1 36 1-22 1 50 1-77 1-22 1 30 1-52 1 11 1-1 1 17 1 5 1-34 1 51 1-71 1 43 1-36 1-42 1 52 1 5 1-45 1-7 1 15 1-1 1-23 1-16 1 44 1-22 1-22 1 8 1 24 1-25 1-9 1 53 1-32 1-13 1 35 1-19 1-24 1-53 1 71 1-28 1 0 1-16 1 52 1-25 1-5 1 46 1-25 1-35 1 28 1-49 1 27 1-19 1 45 1 24 1-44 1-29 1-13 1-22 1 68 1-71 1 29 1 65 1-43 1-26 1-5 1 22 1 49 1-25 1-46 1 40 1-21 1 0 1 5 1-31 1 21 1-54 1 36 1-38 1 51 1 29 1-28 1 26 1-19 1-37 1 27 1-14 1 13 1-15 1-11 1 3 1 52 1-31 1 51 1-44 1 23 1 6 1-18 1-12 1 12 1-53 1 84 1-39 1 25 1-32 1 27 1 3 1-49 1 30 1 15 1-48 1 21 1-16 1 54 1-54 1 26 1 30 1 6 1-43 1 5 1 34 1-85 1 56 1 46 1-40 1-17 1-4 1 8 1-10 1 27 1-12 1-31 1 51 1-19 1-17 1-8 1 20 1 20 1-15 1 6 1 4 1-15 1 9 1-34 1 5 1 13 1 2 1-25 1 9 1 34 1-28 1-21 1 38 1 11 1-19 1 9 1 27 1-20 1-32 1 23 1 30 1-17 1 10 1-34 1 6 1 31 1-18 1-21 1-5 1 37 1 11 1-37 1-3 1-26 1 14 1 51 1-63 1 38 1-1 1-11 1 28 1-32 1 20 1 8 1 16 1-21 1-21 1-14 1 18 1 3 1 9 1-24 1 15 1 40 1-18 1-39 1 58 1-11 1-43 1 28 1 17 1 0 1-45 1 31 1-10 1 23 1-9 1-14 1 39 1-91 1 42 1 10 1-30 1 80 1-61 1-7 1-5 1 21 1-28 1 9 1 2 1-11 1-17 1 16 1 38 1-14 1 19 1-36 1 13 1-10 1 39 1-13 1-1 1 11 1-16 1 8 1-8 1 31 1-17 1-26 1 16 1-6 1-3 1 8 1-14 1 15 1-26 1 23 1-56 1 77 1-16 1 18 1-42 1 1 1 11 1 5 1 15 1-15 1 16 1-32 1 7 1 19 1-13 1-5 1-19 1 12 1-23 1 5 1 14 1 2 1 12 1 24 1-32 1 44 1-24 1 52 1-102 1 38 1 17 1 0 1-29 1 21 1 26 1-33 1 15 1 4 1-26 1 79 1-49 1 0 1-35 1 20 1 35 1-55 1 5 1 39 1-16 1-15 1-16 1 2 1 22 1 9 1 21 1-28 1 9 1-32 1 59 1-52 1 20 1-24 1 1 1 4 1 25 1 7 1 13 1-56 1 33 1-19 1-5 1-12 1 3 1 13 1 49 1-61 1-11 1 67 1-49 1 13 1 1 1 37 1-34 1-56 1 13 1 46 1-25 1 29 1-6 1-13 1 8 1 0 1-20 1 46 1-30 1 1 1 22 1-31 1 2 1-8 1 60 1-20 1-13 1-12 1 25 1-35 1-22 1 18 1-9 1-18 1 39 1 9 1 33 1 31 1-73 1 16 1-34 1 16 1 12 1 15 1-74 1 57 1-34 1 9 1 29 1-3 1-39 1 34 1-20 1 1 1 1 1-24 1 34 1 0 1-25 1 45 1-14 1 11 1 16 1-35 1 33 1 9 1-11 1-27 1 18 1 21 1-19 1-28 1-8 1 27 1-4 1 14 1-37 1 11 1 4 1-25 1 14 1 27 1-14 1-11 1-32 1 79 1-28 1 3 1 36 1-46 1 0 1-8 1 15 1-49 1 60 1-13 1 2 1-7 1-4 1 5 1 30 1-44 1 44 1-5 1-31 1-8 1 44 1-58 1 4 1 62 1-2 1-9 1 17 1-69 1 35 1 6 1-1 1 11 1-45 1 17 1-15 1-43 1 78 1 9 1-11 1-9 1-6 1-4 1-8 1 33 1 13 1 2 1-32 1-13 1 13 1 31 1-50 1-6 1 42 1 21 1-66 1-7 1 69 1-7 1-1 1-15 1-3 1 21 1-64 1 42 1-6 1 4 1-41 1 6 1 53 1-13 1 25 1-52 1 60 1-26 1-30 1 42 1-40 1 13 1 0 1 16 1 17 1-77 1 67 1-48 1-12 1 40 1 5 1-8 1-19 1 2 1 37 1 5 1 18 1-66 1 28 1-9 1 1 1-8 1 7 1 27 1-65 1 66 1 0 1-47 1-14 1 52 1-34 1-38 1 21 1 28 1 5 1 25 1-33 1 12 1-3 1-8 1 31 1 18 1-40 1 27 1-41 1 51 1-31 1-1 1 27 1-47 1 18 1-18 1-4 1 28 1-25 1 20 1 19 1-27 1 63 1-51 1-23 1 5 1 31 1-12 1-54 1 34 1-4 1-11 1 34 1 11 1-43 1-4 1 23 1 38 1-2 1-44 1 22 1-22 1 15 1-32 1 27 1 11 1-21 1 19 1 23 1-44 1 19 1-9 1 17 1-14 1-8 1 32 1-55 1 47 1-26 1 24 1-16 1 33 1-56 1 51 1 21 1-69 1 9 1 22 1-35 1 10 1 47 1-50 1 34 1 8 1 2 1-13 1-24 1 28 1-36 1 5 1 18 1-46 1 35 1 5 1 52 1-33 1-42 1 60 1-13 1-12 1-30 1 42 1-33 1 11 1-2 1 4 1 18 1-39 1 31 1 0 1-23 1 22 1 12 1-36 1 20 1-16 1 57 1-48 1 46 1-24 1-5 1 15 1-32 1-19 1 1 1-26 1 60 1 0 1 31 1-62 1 28 1 25 1-16 1-67 1 51 1-16 1 6 1 12 1-15 1 24 1-8 1 39 1-25 1-19 1 6 1 13 1-26 1 19 1-17 1-57 1 51 1 50 1-43 1 31 1-31 1 52 1-64 1 36 1-35 1-26 1 22 1 24 1 19 1-27 1 1 1 35 1-15 1-28 1-19 1-16 1 55 1 11 1-49 1 23 1 12 1 6 1-37 1 35 1-27 1 29 1-25 1 57 1-102 1 48 1 36 1-53 1 18 1-15 1 14 1 10 1 10 1-45 1 14 1 13 1 17 1 20 1-79 1 20 1 16 1-38 1 36 1 42 1-15 1-42 1 1 1 13 1 35 1-38 1 4 1 29 1-14 1 13 1-49 1 58 1-26 1-20 1 9 1 18 1 21 1-56 1 13 1-7 1 18 1 26 1-36 1 63 1-35 1 2 1-15 1-10 1-19 1 0 1 30 1-1 1 8 1 25 1-23 1-49 1 33 1 32 1-61 1 9 1 34 1-7 1-2 1-36 1 61 1-3 1-1 1-40 1 36 1-7 1 38 1-67 1 24 1-10 1-11 1-13 1 16 1 4 1-22 1 46 1-29 1 8 1 9 1-4 1 44 1-24 1 5 1 18 1-61 1 49 1 10 1-16 1 35 1-69 1 32 1-6 1 35 1-44 1-13 1 26 1-45 1-9 1 42 1-48 1 21 1 48 1-18 1-5 1-37 1 37 1-9 1 36 1-40 1 63 1-52 1 11 1-57 1 15 1 0 1 5 1 47 1-15 1 21 1-40 1-18 1 40 1-27 1 23 1 16 1-47 1-23 1 40 1-1 1 29 1-5 1-3 1 3 1-40 1 18 1 10 1 31 1-64 1 3 1 15 1-11 1 6 1 26 1-43 1 50 1 19 1-51 1 8 1 9 1-23 1-10 1 74 1-12 1 10 1 32 1-58 1 5 1-19 1 33 1-59 1 83 1-25 1-23 1-2 1-15 1 13 1-11 1 24 1-39 1 31 1 28 1-31 1-5 1 3 1-3 1-15 1 26 1 1 1-23 1 13 1 4 1-25 1 30 1-59 1 45 1-19 1 42 1-31 1 8 1 31 1-66 1 52 1-6 1 22 1-18 1-5 1-24 1 36 1-55 2 2 1 55 1-59 1 22 1 7 1-22 1 53 1 11 1 10 1-41 1-31 1 11 1 35 1-43 1 19 1-5 1 11 1 21 1-45 1 20 1 11 1 7 1-15 1 25 1-25 1 43 1-74 1 68 1-44 1 25 1-27 1-14 1 6 1 19 1-8 1-14 1 28 1 37 1-38 1-5 1-31 1 5 1 22 1 22 1-46 1-4 1 64 1-77 1 18 1 40 1 1 1-1 1 9 1 1 1 4 1-42 1-1 1 4 1 14 1 6 1-35 1 7 1 43 1-41 1 31 1 0 1-25 1 9 1 10 1 11 1 3 1-46 1 6 1 5 1-23 1 71 1-59 1 11 1 61 1-71 1-5 1 13 1 23 1 7 1-21 1-34 1 54 1-8 1-20 1-8 1-19 1 28 1-5 1 10 1 22 1 12 1-10 1-13 1-15 1 63 1-68 1 21 1 44 1-84 1 64 1-26 1 4 1-52 1 32 1 79 1-64 1 44 1-59 1 17 1-22 1 27 1-7 1 2 1 19 1-60 1-3 1 79 1-45 1-8 1 41 1 18 1-24 1-10 1-5 1-20 1-18 1 34 1-24 1-2 1 22 1 54 1-56 1-14 1 14 1 8 1-14 1-19 1 55 1-15 1-21 1 32 1-43 1-3 1 13 1 17 1 16 1-27 1 20 1 1 1 11 1-43 1 38 1-73 1 42 1 11 1 1 1 11 1-59 1 47 1 19 1-22 1 25 1-1 1-40 1-9 1 29 1-23 1 25 1 46 1-20 1-31 1-7 1-4 1-8 1 22 1 2 1 69 1-70 1-43 1 78 1-56 1 46 1-13 1-12 1-19 1-5 1 23 1-33 1 36 1-25 1 14 1-2 1 23 1 0 1 4 1-7 1-16 1 9 1 17 1-16 1 16 1-74 1 43 1 16 1 24 1-38 1-3 1 20 1 19 1-33 1 2 1 8 1-28 1 6 1 20 1-13 1-39 1 87 1-32 1 6 1-13 1-6 1-13 1-10 1 50 1-23 1 17 1-26 1 22 1 9 1-1 1-4 1-29 1 33 1-10 1-28 1 24 1-57 1 45 1-4 1-24 1 41 1-23 1 3 1-7 1-4 1 15 1 20 1-24 1 3 1-25 1 59 1-35 1 8 1-45 1 15 1 4 1 35 1-18 1-44 1 51 1-7 1 24 1-20 1 1 1 37 1-69 1 32 1 7 1 48 1-61 1-1 1 5 1-13 1 9 1-9 1 67 1-59 1 14 1-31 1 62 1-27 1 3 1-22 1 38 1-26 1-9 1 21 1 13 1-31 1 32 1 3 1-60 1 44 1-26 1 38 1-28 1-1 1 4 1 7 1 14 1-18 1-2 1-6 1 17 1-32 1 10 1 31 1-22 1 20 1-28 1 27 1-1 1-15 1 1 1-1 1 2 1 5 1 30 1-38 1 37 1-45 1 31 1-41 1 10 1 3 1-18 1 45 1 10 1-4 1-61 1 39 1 5 1-51 1 73 1 6 1 7 1-48 1 17 1-15 1-24 1 23 1-10 1-7 1 31 1-16 1 11 1 7 1-8 1 19 1-6 1-15 1 0 1 2 1 14 1-24 1 7 1-10 1 9 1-22 1-15 1-11 1 49 1 5 1-13 1 36 1-39 1 3 1 57 1-41 1 3 1 1 1-27 1 10 1 23 1 1 1-16 1-28 1 12 1 28 1-4 1-38 1 18 1 7 1-24 1 47 1-27 1 5 1-62 1 71 1 11 1 2 1-32 1 10 1-27 1 39 1-29 1-18 1 23 1 37 1-25 1 27 1-42 1-3 1-30 1 19 1 18 1 22 1-19 1-21 1 40 1-19 1 43 1-10 1 7 1-51 1-6 1 5 1 33 1-34 1 35 1 13 1-44 1 19 1 45 1-29 1-21 1 0 1-10 1 2 1-29 1 32 1-5 1 30 1-12 1 1 1 39 1-17 1-35 1 9 1 1 1-1 1 23 1-9 1 6 1-7 1-40 1 4 1 12 1-9 1-16 1 83 1-27 1-40 1-24 1 50 1-11 1 36 1-37 1-14 1 23 1 18 1-21 1 4 1-13 1 33 1-25 1 0 1-1 1 18 1-6 1-1 1-1 1-7 1-31 1 15 1 5 1-5 1 17 1 1 1 4 1-15 1 0 1-57 1 39 1-10 1 9 1 50 1-65 1 61 1-12 1-4 1-15 1 34 1-29 1-20 1-26 1 35 1 32 1-26 1-31 1 24 1 10 1-6 1-21 1 40 1 12 1-63 1-4 1 79 1-68 1 33 1-49 1 11 1-32 1 56 1 40 1-21 1-27 1 5 1 6 1-2 1 28 1-31 1-16 1 36 1 35 1-109 1 75 1 26 1-35 1 10 1 5 1 8 1-5 1-17 1 13 1-22 1-12 1 27 1 14 1-45 1 42 1-6 1-32 1 56 1-58 1 30 1-24 1 25 1-3 1 14 1-18 1 17 1 25 1-114 1 113 1-13 1-36 1-4 1 23 1 29 1-37 1 6 1-34 1 51 1-30 1-4 1 2 1 9 1-28 1 24 1 3 1-7 1 42 1 2 1-48 1 4 1 31 1-42 1 10 1 6 1 17 1-30 1-2 1-11 1 11 1-6 1 18 1 35 1-64 1 56 1-5 1 5 1-45 1 56 1 6 1-7 1-75 1 32 1 25 1 18 1-9 1-32 1 45 1-39 1 20 1-22 1-27 1 26 1-9 1 5 1-4 1 6 1 31 1-11 1-16 1 25 1-56 1 33 1 13 1 3 1-3 1 4 1-1 1-25 1 3 1 8 1 2 1-27 1-4 1 30 1-25 1-3 1 2 1 14 1-3 1 19 1 8 1-6 1 21 1-54 1 24 1 11 1-12 1 28 1-47 1 34 1 4 1-21 1 61 1-52 1-58 1 43 1 36 1-49 1 41 1-47 1 60 1-26 1-12 1 14 1-10 1-14 1 13 1 2 1 29 1 28 1-45 1-10 1-20 1-6 1 2 1 18 1-15 1 17 1 39 1-35 1 22 1 2 1-53 1 24 1-4 1-7 1 35 1-37 1-10 1 52 1-39 1-12 1 31 1-34 1 10 1-2 1-11 1 19 1-17 1 46 1-26 1-30 1 9 1 26 1 4 1 29 1 4 1-57 1 29 1-50 1-7 1 22 1 15 1 17 1 2 1 18 1-6 1-18 1 24 1 30 1-26 1 0 1 0 1-52 1 3 1-9 1 15 1 41 1-50 1 14 1-3 1 17 1-14 1 44 1-50 1 33 1-30 1 6 1-5 1 25 1-23 1 9 1 5 1-11 1-12 1-6 1 21 1 12 1 33 1-21 1-24 1-1 1-13 1 22 1 15 1-33 1 1 1 46 1-16 1 6 1-14 1 0 1-37 1 26 1 60 1-48 1 3 1-20 1 38 1-19 1 24 1-50 1 12 1 45 1-82 1 68 1-4 1-23 1-30 1 46 1 7 1-38 1-4 1 0 1 4 1 60 1-86 1 14 1 91 1-32 1-24 1-35 1 27 1-31 1 9 1 13 1 27 1-40 1 51 1-33 1-17 1 29 1-22 1 0 1 12 1 2 1-50 1 49 1-32 1 11 1 15 1 17 1 18 1-70 1 38 1-11 1-11 1 37 1-25 1 41 1 6 1-28 1 2 1-24 1 37 1-24 1 35 1-8 1-58 1 60 1-34 1 29 1-12 1-7 1-16 1-40 1 90 1-38 1-17 1 11 1 23 1 16 1-65 1-28 1 86 1 39 1-36 1-10 1-42 1 26 1 21 1 9 1-49 1 5 1-21 1 22 1-5 1 69 1-60 1-3 1 30 1-24 1 23 1-60 1 34 1 18 1 12 1-9 1-50 1 18 1-1 1 1 1-10 1 18 1-20 1 4 1 23 1-4 1 35 1-42 1 29 1-29 1-12 1 6 1 57 1 1 1-40 1 12 1-33 1-61 1 64 1 22 1-9 1 16 1-16 1-1 1 10 1 0 1-48 1 78 1-55 1 27 1 4 1-61 1 21 1 16 1-8 1 14 1 18 1-19 1-9 1 30 1-2 1 7 1-26 1 27 1-50 1 31 1 22 1-9 1-10 1-6 1 5 1-27 1 63 1-15 1 5 1-49 1 31 1 17 1-62 1 20 1 26 1-10 1-19 1 52 1-40 1 36 1-67 1 40"/>
<path d="M885 3651l1-21 1-6 1-41 1 5 1-2 1-63 1 8 1-52 1 24 1-18 1-53 1-24 1 9 1-25 1 15 1-46 1-9 1-29 1-7 1 22 1-46 1-30 1 9 1 11 1 1 1-31 1-15 1 12 1 24 1-54 1 7 1-21 1 16 1-44 1 34 1-48 1-4 1-22 1 20 1-24 1 30 1-26 1 5 1-6 1-32 1-10 1-14 1 17 1-4 1-39 1 40 1 1 1-19 1 21 1-63 1 30 1 34 1-69 1 30 1-17 1 20 1-6 1 3 1 5 1-47 1 14 1 46 1-64 1 49 1-57 1-5 1-7 1-41 1 98 1-90 1 26 1 27 1-21 1 2 1-41 1 18 1-30 1 36 1 1 1-60 1 39 1-32 1 0 1 8 1-5 1-1 1 20 1-53 1-41 1 48 1 14 1 5 1-25 1-11 1 22 1-35 1 27 1 14 1-5 1-51 1 19 1-8 1 16 1 0 1 16 1-48 1 36 1-4 1-36 1 20 1-5 1-16 1 13 1 16 1-8 1-4 1 32 1-60 1 52 1 1 1-28 1 47 1-86 1 68 1-43 1 1 1-48 1 35 1 8 1 14 1-24 1-5 1 1 1 27 1-15 1-8 1 21 1 57 1-87 1 1 1 35 1 16 1-6 1-8 1-6 1-8 1 21 1 19 1 0 1-6 1 6 1 14 1-35 1 17 1-30 1-24 1 37 1-44 1 46 1 10 1-52 1-20 1 68 1 16 1-37 1 20 1 12 1-4 1-35 1 21 1-23 1-12 1 56 1-20 1-22 1-19 1 31 1 24 1-40 1 71 1-23 1-45 1 15 1 19 1-41 1 7 1 12 1-42 1 56 1 14 1-39 1 28 1-61 1 22 1 15 1 33 1-24 1 49 1-80 1-6 1 3 1 28 1-27 1 15 1-31 1 58 1-45 1 1 1 2 1 75 1-96 1 61 1-10 1-3 1-22 1 3 1 65 1-65 1 32 1-64 1 36 1 50 1-40 1-6 1 17 1-24 1-9 1 30 1-36 1 41 1 15 1-54 1 45 1-44 1 53 1-33 1 36 1-67 1 34 1 38 1-43 1 6 1 38 1-70 1 5 1 28 1 59 1-58 1 1 1 2 1 40 1-63 1 78 1-67 1 52 1-90 1 73 1-6 1-5 1-18 1 16 1-47 1 94 1-93 1 60 1 18 1-32 1 7 1-30 1 14 1 19 1-45 1-58 1 124 1-44 1 26 1-14 1-21 1 26 1-24 1 32 1-6 1-1 1 5 1 13 1-32 1 17 1-19 1-27 1 22 1 34 1-4 1-20 1-2 1 15 1-1 1 7 1-23 1-26 1 34 1 5 1-14 1-58 1 38 1 17 1-4 1 20 1-26 1 9 1-38 1 53 1-44 1 57 1-19 1-55 1 60 1 4 1-28 1 8 1 39 1-23 1-38 1-22 1 6 1 36 1 10 1 9 1-18 1 43 1-65 1 31 1 3 1-21 1 14 1 15 1 7 1-22 1-8 1 10 1-6 1 7 1 7 1-11 1 21 1 1 1-12 1-4 1 2 1-23 1 37 1-18 1 4 1 9 1-24 1 47 1-22 1-39 1-16 1 39 1-43 1 67 1-11 1 16 1-46 1-3 1 20 1-11 1-18 1 42 1-8 1 0 1 18 1-27 1 42 1-22 1-5 1 5 1-8 1-35 1 1 1-3 1-17 1 56 1-15 1 7 1-2 1 37 1-34 1 19 1-23 1-16 1 18 1-6 1-10 1 25 1 41 1-15 1-2 1-61 1 13 1-20 1 32 1 44 1-63 1 24 1-29 1 5 1 12 1 19 1-10 1-13 1-14 1 92 1-58 1 38 1-22 1 25 1-19 1-12 1-19 1 7 1 3 1 50 1-34 1-45 1 52 1-38 1-4 1-10 1-10 1 4 1 31 1-3 1-12 1-1 1-2 1 71 1-26 1-53 1 13 1 54 1-31 1 21 1-14 1-21 1-19 1-19 1 71 1 12 1-3 1-53 1 16 1-3 1 45 1-40 1-37 1 62 1-12 1-35 1 38 1 3 1-1 1 3 1-25 1 12 1 12 1-31 1-3 1 2 1 54 1-42 1-46 1 61 1 4 1 15 1-52 1 22 1 30 1-4 1-16 1-20 1-5 1 31 1 11 1-34 1-3 1 13 1-54 1 68 1-9 1-54 1 47 1-13 1 49 1-67 1 15 1 53 1 2 1-55 1 9 1-17 1 27 1-28 1-8 1 15 1 16 1 12 1-4 1 27 1-13 1 0 1-15 1 46 1-58 1 31 1 10 1-23 1-12 1 20 1-5 1-16 1 17 1-48 1-10 1 57 1-12 1-1 1 21 1-6 1 20 1 26 1-24 1-14 1 34 1-79 1 30 1 8 1 1 1-56 1 77 1-10 1-14 1-26 1 14 1 4 1 8 1 7 1 29 1-47 1-11 1 29 1-1 1-31 1 20 1 7 1-21 1 19 1-15 1 18 1 17 1 1 1-57 1 62 1-89 1 49 1-4 1 33 1 3 1-64 1 36 1 21 1-9 1-31 1 33 1-45 1-15 1 27 1-20 1 33 1 56 1-34 1-3 1-24 1 40 1-29 1-9 1 33 1-35 1-5 1 14 1 36 1-45 1-33 1 73 1-7 1-7 1-14 1 21 1-22 1-11 1 5 1 52 1-8 1-72 1 42 1 13 1-42 1 22 1 0 1-9 1-28 1 75 1-36 1 21 1-37 1 6 1-4 1 17 1-8 1 1 1-6 1-23 1 32 1-30 1 54 1 4 1 17 1-29 1-42 1 16 1 1 1 10 1 11 1-39 1 14 1 36 1-52 1 23 1 24 1-28 1 2 1 11 1-12 1-4 1 50 1-42 1 27 1-22 1 27 1-4 1-40 1 32 1-16 1 2 1-13 1-17 1 42 1 5 1-24 1-3 1 25 1-1 1-37 1 20 1 13 1-42 1 18 1 19 1 24 1-30 1 23 1-69 1 46 1 13 1 19 1-20 1-31 1 14 1 8 1-11 1-23 1-18 1 25 1 33 1-13 1-23 1 0 1 12 1 32 1-23 1-52 1 89 1-40 1 16 1 21 1-24 1-4 1-4 1-26 1-24 1 53 1-7 1-13 1 57 1-61 1 27 1-22 1-45 1 66 1-31 1 16 1 17 1 34 1-82 1 59 1-36 1 28 1 6 1 39 1-72 1-11 1 49 1-24 1 28 1-13 1-47 1 58 1 1 1-17 1-38 1 36 1 20 1-36 1 34 1-37 1 12 1 46 1-56 1 20 1-31 1 47 1-32 1 41 1-22 1 10 1-13 1 28 1-64 1 11 1 94 1-86 1 4 1 1 1 22 1-15 1-24 1 1 1 43 1-44 1-1 1 6 1 42 1 19 1-47 1-10 1 50 1-80 1 37 1 15 1-68 1 96 1-52 1 43 1-78 1 54 1 13 1-2 1-51 1 10 1 70 1-24 1-15 1-8 1-18 1 8 1 11 1 14 1-21 1 19 1-51 1 17 1 30 1-42 1 60 1-3 1-17 1 15 1-57 1 40 1-14 1-9 1-14 1 24 1 25 1-22 1 2 1 24 1 9 1-78 1 77 1-39 1 19 1 6 1-7 1 13 1-6 1-13 1 3 1 43 1-79 1 18 1 48 1-19 1 8 1-23 1 18 1 8 1-20 1 24 1-40 1-34 1-3 1 46 1 8 1-41 1 42 1 19 1-16 1 11 1-25 1-5 1 17 1-1 1-42 1 10 1 42 1-31 1 15 1 4 1 16 1-7 1-32 1 20 1-33 1 26 1-18 1 40 1-27 1-5 1 4 1 37 1-53 1 39 1-22 1 54 1-61 1-23 1 32 1 16 1-22 1 27 1-21 1 10 1 8 1 18 1-67 1 18 1-4 1 25 1-10 1-33 1 66 1-11 1-14 1 10 1-3 1 50 1-2 1-37 1-61 1 63 1 31 1-59 1-14 1 61 1-41 1-12 1 36 1-1 1-26 1 21 1-35 1 5 1 40 1-40 1 8 1 14 1-5 1-30 1 34 1-13 1-3 1 38 1-9 1-25 1 26 1 23 1-44 1 34 1-43 1 41 1-42 2 14 1 11 1-15 1-3 1-1 1 2 1 17 1-8 1-9 1 22 1-11 1 4 1-44 1 48 1-23 1 39 1-14 1-27 1 32 1-66 1 0 1 92 1-34 1 5 1-22 1 6 1 14 1-67 1 47 1 7 1-5 1 1 1-6 1 26 1 4 1-15 1 1 1 14 1-42 1 31 1-29 1 30 1 15 1-42 1 13 1-5 1-19 1-2 1 79 1-35 1 18 1-28 1-26 1 50 1-33 1 14 1 7 1-34 1 0 1 42 1-36 1 11 1-2 1-38 1 51 1-4 1-19 1 49 1-49 1 30 1-30 1-5 1 19 1-42 1 4 1 40 1-15 1 29 1-31 1 21 1 15 1-2 1 22 1-54 1-39 1 63 1-10 1 6 1-23 1 32 1-29 1 19 1-8 1 7 1-7 1-19 1 27 1 15 1-35 1-17 1 84 1-51 1 5 1 23 1-9 1 24 1-39 1 2 1-15 1-36 1 22 1-1 1-15 1 63 1-33 1 4 1-2 1 31 1-38 1 1 1 15 1-36 1-19 1 57 1-13 1 43 1-44 1-8 1-4 1 34 1-32 1-6 1-1 1 44 1-7 1-48 1 16 1 7 1 8 1-17 1 29 1-11 1-10 1 23 1 12 1-37 1 30 1 48 1-62 1-53 1 59 1-19 1 27 1-8 1-5 1-19 1 16 1 8 1-22 1 25 1 20 1-34 1-2 1-1 1-4 1-59 1 19 1 29 1 40 1-10 1-21 1-2 1-4 1-16 1 28 1-7 1 27 1 4 1-32 1 18 1-23 1 19 1-5 1 1 1 3 1 42 1-51 1 22 1-15 1-4 1 31 1 0 1-3 1-22 1-21 1-10 1 9 1 17 1 34 1-15 1-22 1-4 1 14 1 51 1-61 1-37 1 65 1-38 1 56 1-30 1-13 1-12 1 47 1-43 1 18 1-9 1-24 1 59 1-28 1-7 1 13 1-39 1 20 1-9 1 0 1 2 1 39 1-39 1 62 1-22 1-17 1 17 1-53 1 28 1-38 1 66 1-29 1 6 1-2 1 9 1-46 1 48 1-56 1 46 1-59 1 17 1 16 1 19 1-37 1 43 1 31 1-5 1 14 1-64 1 5 1 14 1-3 1 33 1 1 1-56 1 39 1 4 1-10 1-43 1 62 1-15 1-8 1 18 1-30 1 59 1-62 1-17 1 15 1-48 1 48 1 8 1 6 1 37 1-31 1-10 1-17 1-15 1 52 1 3 1 4 1-74 1 31 1 48 1-2 1-28 1-57 1 57 1 6 1-1 1 16 1-37 1 8 1-7 1 45 1-69 1 44 1 6 1-15 1 9 1 43 1-42 1-9 1 30 1-21 1-7 1-50 1 59 1-20 1 26 1 15 1-26 1 37 1-25 1 37 1-42 1-52 1 34 1 8 1-25 1 32 1 6 1 6 1-1 1 8 1 1 1-2 1-5 1 12 1-56 1 33 1-46 1 98 1-52 1 6 1-36 1 35 1-14 1 25 1-22 1 1 1 42 1-85 1 76 1-45 1 19 1-15 1 10 1 2 1-44 1 35 1 15 1 29 1-4 1-61 1 69 1-41 1 15 1-30 1 8 1 14 1-19 1 33 1 8 1-35 1 23 1-4 1 12 1-25 1 18 1 4 1-50 1 43 1-32 1-7 1-2 1-6 1 29 1-26 1 43 1-42 1 49 1-13 1-22 1 62 1-42 1 5 1-26 1 31 1-26 1 29 1-34 1-19 1 87 1-39 1 15 1-20 1 27 1-46 1 42 1-27 1 16 1-64 1 84 1-43 1 16 1-1 1 32 1-50 1-1 1 32 1-29 1-29 1 28 1-2 1-38 1 42 1-11 1 16 1-60 1 100 1-50 1-43 1 27 1 40 1 4 1-21 1 6 1 19 1-37 1 22 1-31 1 58 1-47 1-10 1 4 1 11 1-11 1 12 1-9 1 32 1-55 1 52 1-9 1 21 1-32 1-35 1 54 1-1 1 2 1 1 1-8 1 8 1 18 1-17 1-3 1-5 1-2 1 20 1-14 1-15 1 10 1-20 1-5 1 53 1-85 1 18 1-37 1 38 1 4 1 7 1 1 1 40 1 23 1-28 1-23 1 38 1-41 1-8 1-31 1 49 1 0 1-31 1 29 1-16 1 16 1-30 1 52 1 8 1-60 1 32 1-34 1 13 1-1 1 36 1-24 1 17 1-16 1 24 1-25 1-20 1 60 1-15 1-9 1 12 1-7 1-13 1 13 1-61 1 24 1 37 1 15 1-23 1 1 1-25 1-6 1 56 1-35 1 41 1-22 1 4 1-35 1-4 1 42 1-16 1-13 1 17 1-41 1 27 1 36 1 9 1-24 1-2 1 15 1-27 1 13 1-19 1 14 1-37 1-11 1 15 1 58 1-25 1-27 1 42 1 4 1-16 1-15 1 64 1-84 1 43 1-19 1-8 1 48 1-100 1 35 1 69 1-68 1-6 1 46 1-36 1 53 1-14 1-48 1 18 1-14 1 49 1-33 1 11 1-6 1-11 1 19 1 5 1-45 1 25 1-46 1 59 1-20 1 16 1 19 1-33 1 16 1-22 1 36 1-13 1 4 1-47 1 22 1 9 1 2 1 1 1 28 1-21 1-20 1 16 1 13 1-17 1 7 1 48 1-41 1-31 1 42 1-7 1 15 1-17 1-1 1 19 1-21 1 16 1-29 1 21 1-25 1 28 1-9 1-11 1 9 1-27 1 18 1 45 1-78 1-4 1 13 1 40 1-49 1 42 1 20 1-74 1 68 1-24 1-34 1 31 1 24 1-21 1-9 1 78 1-131 1 63 1-5 1 26 1-5 1-38 1 43 1-43 1 10 1 18 1 26 1-21 1 25 1 6 1-30 1-29 1 40 1-71 1 50 1-3 1-31 1 44 1 31 1-62 1 33 1 4 1-34 1 16 1 9 1-37 1 24 1 5 1 37 1-58 1 34 1 40 1-26 1-9 1-25 1-1 1-20 1 21 1 47 1-59 1-25 1 77 1-18 1-2 1-5 1-10 1 16 1 4 1-26 1 11 1-11 1-8 1 2 1 45 1-42 1-24 1 29 1 10 1-29 1 62 1-55 1 20 1 6 1-23 1 22 1-9 1 13 1 7 1-23 1-51 1 42 1 27 1-9 1 9 1-11 1 5 1-40 1 20 1 15 1-28 1-12 1 75 1-21 1-74 1 74 1-35 1 50 1-46 1-13 1 62 1-36 1-21 1 5 1 0 1 72 1-44 1-27 1 20 1 25 1-27 1-19 1-32 1 38 1 33 1 1 1-50 1 33 1-31 1 41 1-28 1 27 1-16 1-4 1 22 1-5 1-48 1-17 1 94 1-58 1 16 1-4 1 5 1-8 1 3 1 24 1 0 1-23 1 23 1-39 1 11 1-11 1 19 1 3 1-67 1 66 1 25 1-34 1 46 1-7 1-7 1-2 1-81 1 53 1 4 1-19 1 28 1-15 1 28 1 1 1-35 1-23 1 47 1-49 1 59 1-36 1 20 1 21 1-19 1 9 1-9 1-2 1-40 1 81 1-113 1 53 1-1 1 31 1-37 1 43 1-7 1-31 1 32 1-23 1 15 1 0 1-23 1 37 1 10 1-50 1 0 1 42 1-33 1 17 1 1 1-5 1-17 1 33 1-52 1 22 1-1 1 22 1-47 1 44 1-10 1 13 1-13 1 2 1-33 1 21 1-11 1 17 1 27 1-7 1-31 1 33 1 1 1 14 1-46 1-23 1 32 1 12 1 25 1-41 1 31 1-29 1 66 1-73 1-6 1 7 1-22 1 47 1-35 1 40 1-34 1-7 1-10 1 69 1-43 1-7 1 24 1-9 1-9 1 19 1 49 1-58 1-3 1 21 1-19 1-24 1-5 1 52 1-36 1 24 1 18 1 1 1-40 1 31 1-18 1 36 1-45 1 5 1-34 1 68 1-36 1-18 1 32 1 52 1-60 1-7 1 12 1 12 1 13 1-81 1 68 1 22 1-24 1 10 1 6 1 3 1-27 1-21 1 25 1-8 1-8 1-11 1 42 1-44 1-39 1 49 1-1 1 3 1-35 1 13 1 53"/>
</g>
<rect x="35.8" y="9" width="242.9" height="366" fill="none" stroke="#000" stroke-width="3.8" rx="1.2"/>
<line x1="37" y1="25.5" x2="45.2" y2="25.5" stroke="#000" stroke-width="3"/>
<line x1="37" y1="64.3" x2="45.2" y2="64.3" stroke="#000" stroke-width="3"/>
<line x1="37" y1="103.2" x2="45.2" y2="103.2" stroke="#000" stroke-width="3"/>
<line x1="37" y1="142" x2="45.2" y2="142" stroke="#000" stroke-width="3"/>
<line x1="37" y1="181" x2="45.2" y2="181" stroke="#000" stroke-width="3"/>
<line x1="37" y1="220" x2="45.2" y2="220" stroke="#000" stroke-width="3"/>
<line x1="37" y1="258.6" x2="45.2" y2="258.6" stroke="#000" stroke-width="3"/>
<line x1="37" y1="297.5" x2="45.2" y2="297.5" stroke="#000" stroke-width="3"/>
<line x1="37" y1="336.5" x2="45.2" y2="336.5" stroke="#000" stroke-width="3"/>
<line x1="84.5" y1="366" x2="84.5" y2="374" stroke="#000" stroke-width="3"/>
<line x1="133" y1="366" x2="133" y2="374" stroke="#000" stroke-width="3"/>
<line x1="181.5" y1="366" x2="181.5" y2="374" stroke="#000" stroke-width="3"/>
<line x1="230" y1="366" x2="230" y2="374" stroke="#000" stroke-width="3"/>
<polygon points="109.3,12.4 118.9,12.4 114.1,26.3" fill="#000"/>
<text x="-0.2" y="19.3" font-size="17.6" fill="#1a1a1a">(A)</text>
<text x="62" y="399" font-size="17.5" fill="#1a1a1a">Extension (50-nm grid)</text>
<text transform="translate(20.5,173.5) rotate(-90)" text-anchor="middle" font-size="17.2" fill="#1a1a1a">Force (100-pN grid)</text>
<defs><linearGradient id="bg" x1="0" x2="1" y1="0" y2="0"><stop offset="0" stop-color="#f20000"/><stop offset="0.2" stop-color="#ff1010"/><stop offset="0.5" stop-color="#ffc4c4"/><stop offset="0.8" stop-color="#ff1010"/><stop offset="1" stop-color="#f20000"/></linearGradient></defs>
<g fill="url(#bg)">
<rect x="362.3" y="71.3" width="4.8" height="4.8"/>
<rect x="366.8" y="64.6" width="4.8" height="11.5"/>
<rect x="371.3" y="65.9" width="4.8" height="10.2"/>
<rect x="375.8" y="47.6" width="4.8" height="28.5"/>
<rect x="380.3" y="33" width="4.8" height="43.1"/>
<rect x="384.9" y="35.4" width="4.8" height="40.7"/>
<rect x="389.4" y="25.1" width="4.8" height="51"/>
<rect x="393.9" y="9.6" width="4.8" height="66.5"/>
<rect x="398.4" y="12.9" width="4.8" height="63.2"/>
<rect x="402.9" y="22" width="4.8" height="54.1"/>
<rect x="407.5" y="33" width="4.8" height="43.1"/>
<rect x="412" y="4.6" width="4.8" height="71.5"/>
<rect x="416.5" y="38" width="4.8" height="38.1"/>
<rect x="421" y="48" width="4.8" height="28.1"/>
<rect x="425.5" y="35.9" width="4.8" height="40.2"/>
<rect x="430" y="33" width="4.8" height="43.1"/>
<rect x="434.6" y="46.4" width="4.8" height="29.7"/>
<rect x="439.1" y="50" width="4.8" height="26.1"/>
<rect x="443.6" y="51.1" width="4.8" height="25"/>
<rect x="448.1" y="48" width="4.8" height="28.1"/>
<rect x="452.6" y="51.9" width="4.8" height="24.2"/>
<rect x="457.1" y="50" width="4.8" height="26.1"/>
<rect x="461.7" y="60" width="4.8" height="16.1"/>
<rect x="466.2" y="58.1" width="4.8" height="18"/>
<rect x="470.7" y="46.4" width="4.8" height="29.7"/>
<rect x="475.2" y="58.1" width="4.8" height="18"/>
<rect x="479.7" y="63.1" width="4.8" height="13"/>
<rect x="484.3" y="50" width="4.8" height="26.1"/>
<rect x="488.8" y="71.6" width="4.8" height="4.5"/>
<rect x="493.3" y="63.1" width="4.8" height="13"/>
<rect x="497.8" y="68.4" width="4.8" height="7.7"/>
<rect x="502.3" y="58.1" width="4.8" height="18"/>
<rect x="506.8" y="64.8" width="4.8" height="11.3"/>
<rect x="511.4" y="61.2" width="4.8" height="14.9"/>
<rect x="515.9" y="73" width="4.8" height="3.1"/>
<rect x="520.4" y="68.4" width="4.8" height="7.7"/>
<rect x="524.9" y="72.1" width="4.8" height="4"/>
<rect x="529.4" y="68.4" width="4.8" height="7.7"/>
<rect x="534" y="64.8" width="4.8" height="11.3"/>
<rect x="538.5" y="68.4" width="4.8" height="7.7"/>
<rect x="543" y="71.1" width="4.8" height="5"/>
<rect x="547.5" y="71.1" width="4.8" height="5"/>
<rect x="552" y="68.4" width="4.8" height="7.7"/>
<rect x="556.5" y="73.8" width="4.8" height="2.3"/>
<rect x="561.1" y="68.4" width="4.8" height="7.7"/>
<rect x="565.6" y="68.4" width="4.8" height="7.7"/>
<rect x="570.1" y="73.1" width="4.8" height="3"/>
<rect x="574.6" y="72.1" width="4.8" height="4"/>
<rect x="579.1" y="72.1" width="4.8" height="4"/>
<rect x="583.7" y="71.1" width="4.8" height="5"/>
<rect x="588.2" y="66.6" width="4.8" height="9.5"/>
<rect x="592.7" y="73.8" width="4.8" height="2.3"/>
<rect x="597.2" y="75.1" width="4.8" height="1"/>
<rect x="601.7" y="71.6" width="4.8" height="4.5"/>
<rect x="606.2" y="72.6" width="4.8" height="3.5"/>
<rect x="615.3" y="73" width="4.8" height="3.1"/>
<rect x="619.8" y="73.8" width="4.8" height="2.3"/>
<rect x="628.8" y="72.6" width="4.8" height="3.5"/>
<rect x="633.4" y="71.6" width="4.8" height="4.5"/>
<rect x="637.9" y="71.6" width="4.8" height="4.5"/>
<rect x="642.4" y="71.6" width="4.8" height="4.5"/>
<rect x="646.9" y="73" width="4.8" height="3.1"/>
<rect x="651.4" y="74.4" width="4.8" height="1.7"/>
<rect x="655.9" y="74.4" width="4.8" height="1.7"/>
<rect x="660.5" y="74.4" width="4.8" height="1.7"/>
<rect x="674" y="72.1" width="4.8" height="4"/>
<rect x="678.5" y="73.8" width="4.8" height="2.3"/>
</g>
<line x1="344" y1="76.1" x2="683.5" y2="76.1" stroke="#3a1010" stroke-width="1.3"/>
<line x1="389.4" y1="75.6" x2="389.4" y2="80.1" stroke="#000" stroke-width="2"/>
<line x1="434.6" y1="75.6" x2="434.6" y2="80.1" stroke="#000" stroke-width="2"/>
<line x1="479.7" y1="75.6" x2="479.7" y2="80.1" stroke="#000" stroke-width="2"/>
<line x1="524.9" y1="75.6" x2="524.9" y2="80.1" stroke="#000" stroke-width="2"/>
<line x1="570.1" y1="75.6" x2="570.1" y2="80.1" stroke="#000" stroke-width="2"/>
<line x1="615.3" y1="75.6" x2="615.3" y2="80.1" stroke="#000" stroke-width="2"/>
<line x1="660.5" y1="75.6" x2="660.5" y2="80.1" stroke="#000" stroke-width="2"/>
<line x1="338.2" y1="75.9" x2="344" y2="75.9" stroke="#000" stroke-width="1.8"/>
<text x="337.3" y="80.6" text-anchor="end" font-size="14.3" fill="#1a1a1a">0</text>
<line x1="338.2" y1="59.1" x2="344" y2="59.1" stroke="#000" stroke-width="1.8"/>
<text x="337.3" y="63.8" text-anchor="end" font-size="14.3" fill="#1a1a1a">10</text>
<line x1="338.2" y1="42.4" x2="344" y2="42.4" stroke="#000" stroke-width="1.8"/>
<text x="337.3" y="47.1" text-anchor="end" font-size="14.3" fill="#1a1a1a">20</text>
<line x1="338.2" y1="25.6" x2="344" y2="25.6" stroke="#000" stroke-width="1.8"/>
<text x="337.3" y="30.3" text-anchor="end" font-size="14.3" fill="#1a1a1a">30</text>
<line x1="338.2" y1="8.9" x2="344" y2="8.9" stroke="#000" stroke-width="1.8"/>
<text x="337.3" y="13.6" text-anchor="end" font-size="14.3" fill="#1a1a1a">40</text>
<g fill="url(#bg)">
<rect x="362.4" y="146.2" width="4.8" height="4.8"/>
<rect x="367" y="139.5" width="4.8" height="11.5"/>
<rect x="371.5" y="140.8" width="4.8" height="10.2"/>
<rect x="376.1" y="122.5" width="4.8" height="28.5"/>
<rect x="380.6" y="107.9" width="4.8" height="43.1"/>
<rect x="385.2" y="110.3" width="4.8" height="40.7"/>
<rect x="389.7" y="100" width="4.8" height="51"/>
<rect x="394.3" y="84.5" width="4.8" height="66.5"/>
<rect x="398.8" y="87.8" width="4.8" height="63.2"/>
<rect x="403.4" y="96.9" width="4.8" height="54.1"/>
<rect x="407.9" y="107.9" width="4.8" height="43.1"/>
<rect x="412.5" y="79.5" width="4.8" height="71.5"/>
<rect x="417" y="112.9" width="4.8" height="38.1"/>
<rect x="421.6" y="122.9" width="4.8" height="28.1"/>
<rect x="426.1" y="110.8" width="4.8" height="40.2"/>
<rect x="430.7" y="107.9" width="4.8" height="43.1"/>
<rect x="435.2" y="121.3" width="4.8" height="29.7"/>
<rect x="439.8" y="124.9" width="4.8" height="26.1"/>
<rect x="444.3" y="126" width="4.8" height="25"/>
<rect x="448.9" y="122.9" width="4.8" height="28.1"/>
<rect x="453.4" y="126.8" width="4.8" height="24.2"/>
<rect x="458" y="124.9" width="4.8" height="26.1"/>
<rect x="462.6" y="134.9" width="4.8" height="16.1"/>
<rect x="467.1" y="133" width="4.8" height="18"/>
<rect x="471.7" y="121.3" width="4.8" height="29.7"/>
<rect x="476.2" y="133" width="4.8" height="18"/>
<rect x="480.8" y="138" width="4.8" height="13"/>
<rect x="485.3" y="124.9" width="4.8" height="26.1"/>
<rect x="489.9" y="146.5" width="4.8" height="4.5"/>
<rect x="494.4" y="138" width="4.8" height="13"/>
<rect x="499" y="143.3" width="4.8" height="7.7"/>
<rect x="503.5" y="133" width="4.8" height="18"/>
<rect x="508.1" y="139.7" width="4.8" height="11.3"/>
<rect x="512.6" y="136.1" width="4.8" height="14.9"/>
<rect x="517.2" y="147.9" width="4.8" height="3.1"/>
<rect x="521.7" y="143.3" width="4.8" height="7.7"/>
<rect x="526.3" y="147" width="4.8" height="4"/>
<rect x="530.8" y="143.3" width="4.8" height="7.7"/>
<rect x="535.4" y="139.7" width="4.8" height="11.3"/>
<rect x="539.9" y="143.3" width="4.8" height="7.7"/>
<rect x="544.5" y="146" width="4.8" height="5"/>
<rect x="549" y="146" width="4.8" height="5"/>
<rect x="553.6" y="143.3" width="4.8" height="7.7"/>
<rect x="558.1" y="148.7" width="4.8" height="2.3"/>
<rect x="562.7" y="143.3" width="4.8" height="7.7"/>
<rect x="567.2" y="143.3" width="4.8" height="7.7"/>
<rect x="571.8" y="148" width="4.8" height="3"/>
<rect x="576.4" y="147" width="4.8" height="4"/>
<rect x="580.9" y="147" width="4.8" height="4"/>
<rect x="585.5" y="146" width="4.8" height="5"/>
<rect x="590" y="141.5" width="4.8" height="9.5"/>
<rect x="594.6" y="148.7" width="4.8" height="2.3"/>
<rect x="599.1" y="150" width="4.8" height="1"/>
<rect x="603.7" y="146.5" width="4.8" height="4.5"/>
<rect x="608.2" y="147.5" width="4.8" height="3.5"/>
<rect x="617.3" y="147.9" width="4.8" height="3.1"/>
<rect x="621.9" y="148.7" width="4.8" height="2.3"/>
<rect x="631" y="147.5" width="4.8" height="3.5"/>
<rect x="635.5" y="146.5" width="4.8" height="4.5"/>
<rect x="640.1" y="146.5" width="4.8" height="4.5"/>
<rect x="644.6" y="146.5" width="4.8" height="4.5"/>
<rect x="649.2" y="147.9" width="4.8" height="3.1"/>
<rect x="653.7" y="149.3" width="4.8" height="1.7"/>
<rect x="658.3" y="149.3" width="4.8" height="1.7"/>
<rect x="662.8" y="149.3" width="4.8" height="1.7"/>
<rect x="676.5" y="147" width="4.8" height="4"/>
<rect x="681" y="148.7" width="4.8" height="2.3"/>
</g>
<line x1="344" y1="151" x2="683.5" y2="151" stroke="#3a1010" stroke-width="1.3"/>
<line x1="389.7" y1="150.5" x2="389.7" y2="155" stroke="#000" stroke-width="2"/>
<line x1="435.2" y1="150.5" x2="435.2" y2="155" stroke="#000" stroke-width="2"/>
<line x1="480.8" y1="150.5" x2="480.8" y2="155" stroke="#000" stroke-width="2"/>
<line x1="526.3" y1="150.5" x2="526.3" y2="155" stroke="#000" stroke-width="2"/>
<line x1="571.8" y1="150.5" x2="571.8" y2="155" stroke="#000" stroke-width="2"/>
<line x1="617.3" y1="150.5" x2="617.3" y2="155" stroke="#000" stroke-width="2"/>
<line x1="662.8" y1="150.5" x2="662.8" y2="155" stroke="#000" stroke-width="2"/>
<line x1="338.2" y1="150.8" x2="344" y2="150.8" stroke="#000" stroke-width="1.8"/>
<text x="337.3" y="155.5" text-anchor="end" font-size="14.3" fill="#1a1a1a">0</text>
<line x1="338.2" y1="134.1" x2="344" y2="134.1" stroke="#000" stroke-width="1.8"/>
<text x="337.3" y="138.8" text-anchor="end" font-size="14.3" fill="#1a1a1a">10</text>
<line x1="338.2" y1="117.4" x2="344" y2="117.4" stroke="#000" stroke-width="1.8"/>
<text x="337.3" y="122.1" text-anchor="end" font-size="14.3" fill="#1a1a1a">20</text>
<line x1="338.2" y1="100.7" x2="344" y2="100.7" stroke="#000" stroke-width="1.8"/>
<text x="337.3" y="105.4" text-anchor="end" font-size="14.3" fill="#1a1a1a">30</text>
<line x1="338.2" y1="84" x2="344" y2="84" stroke="#000" stroke-width="1.8"/>
<text x="337.3" y="88.7" text-anchor="end" font-size="14.3" fill="#1a1a1a">40</text>
<g fill="url(#bg)">
<rect x="362.4" y="222.3" width="4.8" height="4.8"/>
<rect x="367" y="215.6" width="4.8" height="11.5"/>
<rect x="371.5" y="216.9" width="4.8" height="10.2"/>
<rect x="376.1" y="198.6" width="4.8" height="28.5"/>
<rect x="380.6" y="184" width="4.8" height="43.1"/>
<rect x="385.2" y="186.4" width="4.8" height="40.7"/>
<rect x="389.7" y="176.1" width="4.8" height="51"/>
<rect x="394.3" y="160.6" width="4.8" height="66.5"/>
<rect x="398.8" y="163.9" width="4.8" height="63.2"/>
<rect x="403.4" y="173" width="4.8" height="54.1"/>
<rect x="407.9" y="184" width="4.8" height="43.1"/>
<rect x="412.5" y="155.6" width="4.8" height="71.5"/>
<rect x="417" y="189" width="4.8" height="38.1"/>
<rect x="421.6" y="199" width="4.8" height="28.1"/>
<rect x="426.1" y="186.9" width="4.8" height="40.2"/>
<rect x="430.7" y="184" width="4.8" height="43.1"/>
<rect x="435.2" y="197.4" width="4.8" height="29.7"/>
<rect x="439.8" y="201" width="4.8" height="26.1"/>
<rect x="444.3" y="202.1" width="4.8" height="25"/>
<rect x="448.9" y="199" width="4.8" height="28.1"/>
<rect x="453.4" y="202.9" width="4.8" height="24.2"/>
<rect x="458" y="201" width="4.8" height="26.1"/>
<rect x="462.6" y="211" width="4.8" height="16.1"/>
<rect x="467.1" y="209.1" width="4.8" height="18"/>
<rect x="471.7" y="197.4" width="4.8" height="29.7"/>
<rect x="476.2" y="209.1" width="4.8" height="18"/>
<rect x="480.8" y="214.1" width="4.8" height="13"/>
<rect x="485.3" y="201" width="4.8" height="26.1"/>
<rect x="489.9" y="222.6" width="4.8" height="4.5"/>
<rect x="494.4" y="214.1" width="4.8" height="13"/>
<rect x="499" y="219.4" width="4.8" height="7.7"/>
<rect x="503.5" y="209.1" width="4.8" height="18"/>
<rect x="508.1" y="215.8" width="4.8" height="11.3"/>
<rect x="512.6" y="212.2" width="4.8" height="14.9"/>
<rect x="517.2" y="224" width="4.8" height="3.1"/>
<rect x="521.7" y="219.4" width="4.8" height="7.7"/>
<rect x="526.3" y="223.1" width="4.8" height="4"/>
<rect x="530.8" y="219.4" width="4.8" height="7.7"/>
<rect x="535.4" y="215.8" width="4.8" height="11.3"/>
<rect x="539.9" y="219.4" width="4.8" height="7.7"/>
<rect x="544.5" y="222.1" width="4.8" height="5"/>
<rect x="549" y="222.1" width="4.8" height="5"/>
<rect x="553.6" y="219.4" width="4.8" height="7.7"/>
<rect x="558.1" y="224.8" width="4.8" height="2.3"/>
<rect x="562.7" y="219.4" width="4.8" height="7.7"/>
<rect x="567.2" y="219.4" width="4.8" height="7.7"/>
<rect x="571.8" y="224.1" width="4.8" height="3"/>
<rect x="576.4" y="223.1" width="4.8" height="4"/>
<rect x="580.9" y="223.1" width="4.8" height="4"/>
<rect x="585.5" y="222.1" width="4.8" height="5"/>
<rect x="590" y="217.6" width="4.8" height="9.5"/>
<rect x="594.6" y="224.8" width="4.8" height="2.3"/>
<rect x="599.1" y="226.1" width="4.8" height="1"/>
<rect x="603.7" y="222.6" width="4.8" height="4.5"/>
<rect x="608.2" y="223.6" width="4.8" height="3.5"/>
<rect x="617.3" y="224" width="4.8" height="3.1"/>
<rect x="621.9" y="224.8" width="4.8" height="2.3"/>
<rect x="631" y="223.6" width="4.8" height="3.5"/>
<rect x="635.5" y="222.6" width="4.8" height="4.5"/>
<rect x="640.1" y="222.6" width="4.8" height="4.5"/>
<rect x="644.6" y="222.6" width="4.8" height="4.5"/>
<rect x="649.2" y="224" width="4.8" height="3.1"/>
<rect x="653.7" y="225.4" width="4.8" height="1.7"/>
<rect x="658.3" y="225.4" width="4.8" height="1.7"/>
<rect x="662.8" y="225.4" width="4.8" height="1.7"/>
<rect x="676.5" y="223.1" width="4.8" height="4"/>
<rect x="681" y="224.8" width="4.8" height="2.3"/>
</g>
<line x1="344" y1="227.1" x2="683.5" y2="227.1" stroke="#3a1010" stroke-width="1.3"/>
<line x1="389.7" y1="226.6" x2="389.7" y2="231.1" stroke="#000" stroke-width="2"/>
<line x1="435.2" y1="226.6" x2="435.2" y2="231.1" stroke="#000" stroke-width="2"/>
<line x1="480.8" y1="226.6" x2="480.8" y2="231.1" stroke="#000" stroke-width="2"/>
<line x1="526.3" y1="226.6" x2="526.3" y2="231.1" stroke="#000" stroke-width="2"/>
<line x1="571.8" y1="226.6" x2="571.8" y2="231.1" stroke="#000" stroke-width="2"/>
<line x1="617.3" y1="226.6" x2="617.3" y2="231.1" stroke="#000" stroke-width="2"/>
<line x1="662.8" y1="226.6" x2="662.8" y2="231.1" stroke="#000" stroke-width="2"/>
<line x1="338.2" y1="226.9" x2="344" y2="226.9" stroke="#000" stroke-width="1.8"/>
<text x="337.3" y="231.6" text-anchor="end" font-size="14.3" fill="#1a1a1a">0</text>
<line x1="338.2" y1="210.4" x2="344" y2="210.4" stroke="#000" stroke-width="1.8"/>
<text x="337.3" y="215.1" text-anchor="end" font-size="14.3" fill="#1a1a1a">10</text>
<line x1="338.2" y1="193.9" x2="344" y2="193.9" stroke="#000" stroke-width="1.8"/>
<text x="337.3" y="198.6" text-anchor="end" font-size="14.3" fill="#1a1a1a">20</text>
<line x1="338.2" y1="177.4" x2="344" y2="177.4" stroke="#000" stroke-width="1.8"/>
<text x="337.3" y="182.1" text-anchor="end" font-size="14.3" fill="#1a1a1a">30</text>
<line x1="338.2" y1="160.9" x2="344" y2="160.9" stroke="#000" stroke-width="1.8"/>
<text x="337.3" y="165.6" text-anchor="end" font-size="14.3" fill="#1a1a1a">40</text>
<path d="M344.5 68.4 345.6 68.2 346.8 68 347.9 67.7 349 67.4 350.1 67.1 351.3 66.7 352.4 66.4 353.5 66 354.7 65.6 355.8 65.1 356.9 64.6 358 64.1 359.2 63.5 360.3 62.9 361.4 62.3 362.6 61.6 363.7 60.9 364.8 60.2 365.9 59.4 367.1 58.6 368.2 57.7 369.3 56.8 370.5 55.8 371.6 54.9 372.7 53.8 373.8 52.8 375 51.7 376.1 50.6 377.2 49.5 378.4 48.3 379.5 47.1 380.6 45.9 381.7 44.7 382.9 43.4 384 42.2 385.1 41 386.3 39.7 387.4 38.5 388.5 37.2 389.7 36 390.8 34.8 391.9 33.7 393 32.5 394.2 31.4 395.3 30.3 396.4 29.3 397.6 28.3 398.7 27.4 399.8 26.6 400.9 25.8 402.1 25.1 403.2 24.4 404.3 23.8 405.5 23.3 406.6 22.9 407.7 22.6 408.8 22.3 410 22.2 411.1 22.1 412.2 22.1 413.4 22.2 414.5 22.4 415.6 22.7 416.7 23 417.9 23.5 419 24 420.1 24.6 421.3 25.3 422.4 26 423.5 26.8 424.6 27.7 425.8 28.6 426.9 29.6 428 30.6 429.2 31.7 430.3 32.8 431.4 34 432.5 35.2 433.7 36.4 434.8 37.6 435.9 38.8 437.1 40.1 438.2 41.3 439.3 42.6 440.4 43.8 441.6 45 442.7 46.3 443.8 47.5 445 48.6 446.1 49.8 447.2 50.9 448.3 52 449.5 53.1 450.6 54.1 451.7 55.1 452.9 56.1 454 57 455.1 57.9 456.2 58.8 457.4 59.6 458.5 60.4 459.6 61.1 460.8 61.8 461.9 62.5 463 63.1 464.1 63.7 465.3 64.2 466.4 64.8 467.5 65.2 468.7 65.7 469.8 66.1 470.9 66.5 472.1 66.8 473.2 67.2 474.3 67.5 475.4 67.8 476.6 68 477.7 68.3 478.8 68.5 480 68.7 481.1 68.9 482.2 69 483.3 69.2 484.5 69.3 485.6 69.4 486.7 69.5 487.9 69.6 489 69.7 490.1 69.8 491.2 69.9 492.4 69.9 493.5 70 494.6 70 495.8 70.1 496.9 70.1 498 70.2 499.1 70.2 500.3 70.2 501.4 70.2 502.5 70.3 503.7 70.3 504.8 70.3 505.9 70.3 507 70.3 508.2 70.3 509.3 70.3 510.4 70.4 511.6 70.4 512.7 70.4 513.8 70.4 514.9 70.4 516.1 70.4 517.2 70.4 518.3 70.4 519.5 70.4 520.6 70.4 521.7 70.4 522.8 70.4 524 70.4 525.1 70.4 526.2 70.4 527.4 70.4 528.5 70.4 529.6 70.4 530.7 70.4 531.9 70.4 533 70.4 534.1 70.4 535.3 70.4 536.4 70.4 537.5 70.4 538.6 70.4 539.8 70.4 540.9 70.4 542 70.4 543.2 70.4 544.3 70.4 545.4 70.4 546.5 70.4 547.7 70.4 548.8 70.4 549.9 70.4 551.1 70.4 552.2 70.4 553.3 70.4 554.4 70.4 555.6 70.4 556.7 70.4 557.8 70.4 559 70.4 560.1 70.4 561.2 70.4 562.4 70.4 563.5 70.4 564.6 70.4 565.7 70.4 566.9 70.4 568 70.4 569.1 70.4 570.3 70.4 571.4 70.4 572.5 70.4 573.6 70.4 574.8 70.4 575.9 70.4 577 70.4 578.2 70.4 579.3 70.4 580.4 70.4 581.5 70.4 582.7 70.4 583.8 70.4 584.9 70.4 586.1 70.4 587.2 70.4 588.3 70.4 589.4 70.4 590.6 70.4 591.7 70.4 592.8 70.4 594 70.4 595.1 70.4 596.2 70.4 597.3 70.4 598.5 70.4 599.6 70.4 600.7 70.4 601.9 70.4 603 70.4 604.1 70.4 605.2 70.4 606.4 70.4 607.5 70.4 608.6 70.4 609.8 70.4 610.9 70.4 612 70.4 613.1 70.4 614.3 70.4 615.4 70.4 616.5 70.4 617.7 70.4 618.8 70.4 619.9 70.4 621 70.4 622.2 70.4 623.3 70.4 624.4 70.4 625.6 70.4 626.7 70.4 627.8 70.4 628.9 70.4 630.1 70.4 631.2 70.4 632.3 70.4 633.5 70.4 634.6 70.4 635.7 70.4 636.8 70.4 638 70.4 639.1 70.4 640.2 70.4 641.4 70.4 642.5 70.4 643.6 70.4 644.8 70.4 645.9 70.4 647 70.4 648.1 70.4 649.3 70.4 650.4 70.4 651.5 70.4 652.7 70.4 653.8 70.4 654.9 70.4 656 70.4 657.2 70.4 658.3 70.4 659.4 70.4 660.6 70.4 661.7 70.4 662.8 70.4 663.9 70.4 665.1 70.4 666.2 70.4 667.3 70.4 668.5 70.4 669.6 70.4 670.7 70.4 671.8 70.4 673 70.4 674.1 70.4 675.2 70.4 676.4 70.4 677.5 70.4 678.6 70.4 679.7 70.4 680.9 70.4 682 70.4" fill="none" stroke="#1414f0" stroke-width="1.75"/>
<path d="M344.5 150.4 345.6 150.4 346.8 150.4 347.9 150.4 349 150.3 350.1 150.3 351.3 150.2 352.4 150.2 353.5 150.1 354.7 150 355.8 149.9 356.9 149.7 358 149.6 359.2 149.3 360.3 149.1 361.4 148.8 362.6 148.4 363.7 148 364.8 147.6 365.9 147 367.1 146.4 368.2 145.7 369.3 144.9 370.5 144.1 371.6 143.1 372.7 142 373.8 140.8 375 139.5 376.1 138 377.2 136.5 378.4 134.9 379.5 133.2 380.6 131.3 381.7 129.4 382.9 127.5 384 125.4 385.1 123.4 386.3 121.3 387.4 119.3 388.5 117.2 389.7 115.3 390.8 113.4 391.9 111.6 393 109.9 394.2 108.4 395.3 107.1 396.4 106 397.6 105.1 398.7 104.4 399.8 103.9 400.9 103.7 402.1 103.8 403.2 104 404.3 104.6 405.5 105.3 406.6 106.3 407.7 107.5 408.8 108.9 410 110.4 411.1 112.1 412.2 113.9 413.4 115.9 414.5 117.9 415.6 119.9 416.7 122 417.9 124 419 126.1 420.1 128.1 421.3 130 422.4 131.9 423.5 133.7 424.6 135.4 425.8 137 426.9 138.5 428 139.9 429.2 141.2 430.3 142.3 431.4 143.4 432.5 144.3 433.7 145.2 434.8 146 435.9 146.6 437.1 147.2 438.2 147.7 439.3 148.2 440.4 148.6 441.6 148.9 442.7 149.2 443.8 149.4 445 149.6 446.1 149.8 447.2 149.9 448.3 150 449.5 150.1 450.6 150.2 451.7 150.3 452.9 150.3 454 150.4 455.1 150.4 456.2 150.4 457.4 150.4 458.5 150.4 459.6 150.5 460.8 150.5 461.9 150.5 463 150.5 464.1 150.5 465.3 150.5 466.4 150.5 467.5 150.5 468.7 150.5 469.8 150.5 470.9 150.5 472.1 150.5 473.2 150.5 474.3 150.5 475.4 150.5 476.6 150.5 477.7 150.5 478.8 150.5 480 150.5 481.1 150.5 482.2 150.5 483.3 150.5 484.5 150.5 485.6 150.5 486.7 150.5 487.9 150.5 489 150.5 490.1 150.5 491.2 150.5 492.4 150.5 493.5 150.5 494.6 150.5 495.8 150.5 496.9 150.5 498 150.5 499.1 150.5 500.3 150.5 501.4 150.5 502.5 150.5 503.7 150.5 504.8 150.5 505.9 150.5 507 150.5 508.2 150.5 509.3 150.5 510.4 150.5 511.6 150.5 512.7 150.5 513.8 150.5 514.9 150.5 516.1 150.5 517.2 150.5 518.3 150.5 519.5 150.5 520.6 150.5 521.7 150.5 522.8 150.5 524 150.5 525.1 150.5 526.2 150.5 527.4 150.5 528.5 150.5 529.6 150.5 530.7 150.5 531.9 150.5 533 150.5 534.1 150.5 535.3 150.5 536.4 150.5 537.5 150.5 538.6 150.5 539.8 150.5 540.9 150.5 542 150.5 543.2 150.5 544.3 150.5 545.4 150.5 546.5 150.5 547.7 150.5 548.8 150.5 549.9 150.5 551.1 150.5 552.2 150.5 553.3 150.5 554.4 150.5 555.6 150.5 556.7 150.5 557.8 150.5 559 150.5 560.1 150.5 561.2 150.5 562.4 150.5 563.5 150.5 564.6 150.5 565.7 150.5 566.9 150.5 568 150.5 569.1 150.5 570.3 150.5 571.4 150.5 572.5 150.5 573.6 150.5 574.8 150.5 575.9 150.5 577 150.5 578.2 150.5 579.3 150.5 580.4 150.5 581.5 150.5 582.7 150.5 583.8 150.5 584.9 150.5 586.1 150.5 587.2 150.5 588.3 150.5 589.4 150.5 590.6 150.5 591.7 150.5 592.8 150.5 594 150.5 595.1 150.5 596.2 150.5 597.3 150.5 598.5 150.5 599.6 150.5 600.7 150.5 601.9 150.5 603 150.5 604.1 150.5 605.2 150.5 606.4 150.5 607.5 150.5 608.6 150.5 609.8 150.5 610.9 150.5 612 150.5 613.1 150.5 614.3 150.5 615.4 150.5 616.5 150.5 617.7 150.5 618.8 150.5 619.9 150.5 621 150.5 622.2 150.5 623.3 150.5 624.4 150.5 625.6 150.5 626.7 150.5 627.8 150.5 628.9 150.5 630.1 150.5 631.2 150.5 632.3 150.5 633.5 150.5 634.6 150.5 635.7 150.5 636.8 150.5 638 150.5 639.1 150.5 640.2 150.5 641.4 150.5 642.5 150.5 643.6 150.5 644.8 150.5 645.9 150.5 647 150.5 648.1 150.5 649.3 150.5 650.4 150.5 651.5 150.5 652.7 150.5 653.8 150.5 654.9 150.5 656 150.5 657.2 150.5 658.3 150.5 659.4 150.5 660.6 150.5 661.7 150.5 662.8 150.5 663.9 150.5 665.1 150.5 666.2 150.5 667.3 150.5 668.5 150.5 669.6 150.5 670.7 150.5 671.8 150.5 673 150.5 674.1 150.5 675.2 150.5 676.4 150.5 677.5 150.5 678.6 150.5 679.7 150.5 680.9 150.5 682 150.5" fill="none" stroke="#000" stroke-width="1.4" stroke-dasharray="3.3 4.5"/>
<path d="M344.5 148.6 345.6 148.5 346.8 148.4 347.9 148.3 349 148.2 350.1 148 351.3 147.9 352.4 147.8 353.5 147.7 354.7 147.5 355.8 147.4 356.9 147.2 358 147.1 359.2 146.9 360.3 146.7 361.4 146.6 362.6 146.4 363.7 146.2 364.8 146 365.9 145.8 367.1 145.6 368.2 145.4 369.3 145.2 370.5 145 371.6 144.8 372.7 144.6 373.8 144.3 375 144.1 376.1 143.9 377.2 143.6 378.4 143.4 379.5 143.1 380.6 142.8 381.7 142.6 382.9 142.3 384 142 385.1 141.7 386.3 141.4 387.4 141.1 388.5 140.8 389.7 140.5 390.8 140.2 391.9 139.9 393 139.6 394.2 139.3 395.3 139 396.4 138.6 397.6 138.3 398.7 138 399.8 137.7 400.9 137.3 402.1 137 403.2 136.7 404.3 136.3 405.5 136 406.6 135.7 407.7 135.3 408.8 135 410 134.7 411.1 134.3 412.2 134 413.4 133.7 414.5 133.3 415.6 133 416.7 132.7 417.9 132.4 419 132.1 420.1 131.8 421.3 131.5 422.4 131.2 423.5 130.9 424.6 130.6 425.8 130.4 426.9 130.1 428 129.8 429.2 129.6 430.3 129.3 431.4 129.1 432.5 128.9 433.7 128.7 434.8 128.5 435.9 128.3 437.1 128.1 438.2 127.9 439.3 127.7 440.4 127.6 441.6 127.5 442.7 127.3 443.8 127.2 445 127.1 446.1 127 447.2 126.9 448.3 126.9 449.5 126.8 450.6 126.8 451.7 126.7 452.9 126.7 454 126.7 455.1 126.7 456.2 126.7 457.4 126.8 458.5 126.8 459.6 126.9 460.8 126.9 461.9 127 463 127.1 464.1 127.2 465.3 127.3 466.4 127.5 467.5 127.6 468.7 127.8 469.8 127.9 470.9 128.1 472.1 128.3 473.2 128.5 474.3 128.7 475.4 128.9 476.6 129.1 477.7 129.4 478.8 129.6 480 129.9 481.1 130.1 482.2 130.4 483.3 130.7 484.5 131 485.6 131.2 486.7 131.5 487.9 131.8 489 132.1 490.1 132.4 491.2 132.8 492.4 133.1 493.5 133.4 494.6 133.7 495.8 134 496.9 134.4 498 134.7 499.1 135 500.3 135.4 501.4 135.7 502.5 136 503.7 136.4 504.8 136.7 505.9 137 507 137.4 508.2 137.7 509.3 138 510.4 138.4 511.6 138.7 512.7 139 513.8 139.3 514.9 139.6 516.1 140 517.2 140.3 518.3 140.6 519.5 140.9 520.6 141.2 521.7 141.5 522.8 141.8 524 142 525.1 142.3 526.2 142.6 527.4 142.9 528.5 143.1 529.6 143.4 530.7 143.6 531.9 143.9 533 144.1 534.1 144.4 535.3 144.6 536.4 144.8 537.5 145 538.6 145.3 539.8 145.5 540.9 145.7 542 145.9 543.2 146.1 544.3 146.2 545.4 146.4 546.5 146.6 547.7 146.8 548.8 146.9 549.9 147.1 551.1 147.2 552.2 147.4 553.3 147.5 554.4 147.7 555.6 147.8 556.7 147.9 557.8 148.1 559 148.2 560.1 148.3 561.2 148.4 562.4 148.5 563.5 148.6 564.6 148.7 565.7 148.8 566.9 148.9 568 149 569.1 149.1 570.3 149.1 571.4 149.2 572.5 149.3 573.6 149.3 574.8 149.4 575.9 149.5 577 149.5 578.2 149.6 579.3 149.6 580.4 149.7 581.5 149.7 582.7 149.8 583.8 149.8 584.9 149.9 586.1 149.9 587.2 149.9 588.3 150 589.4 150 590.6 150 591.7 150.1 592.8 150.1 594 150.1 595.1 150.1 596.2 150.2 597.3 150.2 598.5 150.2 599.6 150.2 600.7 150.2 601.9 150.3 603 150.3 604.1 150.3 605.2 150.3 606.4 150.3 607.5 150.3 608.6 150.3 609.8 150.4 610.9 150.4 612 150.4 613.1 150.4 614.3 150.4 615.4 150.4 616.5 150.4 617.7 150.4 618.8 150.4 619.9 150.4 621 150.4 622.2 150.4 623.3 150.4 624.4 150.4 625.6 150.5 626.7 150.5 627.8 150.5 628.9 150.5 630.1 150.5 631.2 150.5 632.3 150.5 633.5 150.5 634.6 150.5 635.7 150.5 636.8 150.5 638 150.5 639.1 150.5 640.2 150.5 641.4 150.5 642.5 150.5 643.6 150.5 644.8 150.5 645.9 150.5 647 150.5 648.1 150.5 649.3 150.5 650.4 150.5 651.5 150.5 652.7 150.5 653.8 150.5 654.9 150.5 656 150.5 657.2 150.5 658.3 150.5 659.4 150.5 660.6 150.5 661.7 150.5 662.8 150.5 663.9 150.5 665.1 150.5 666.2 150.5 667.3 150.5 668.5 150.5 669.6 150.5 670.7 150.5 671.8 150.5 673 150.5 674.1 150.5 675.2 150.5 676.4 150.5 677.5 150.5 678.6 150.5 679.7 150.5 680.9 150.5 682 150.5" fill="none" stroke="#000" stroke-width="1.4" stroke-dasharray="3.3 4.5"/>
<path d="M344.5 148.5 345.6 148.4 346.8 148.3 347.9 148.2 349 148 350.1 147.8 351.3 147.7 352.4 147.5 353.5 147.3 354.7 147 355.8 146.7 356.9 146.5 358 146.1 359.2 145.8 360.3 145.3 361.4 144.9 362.6 144.4 363.7 143.8 364.8 143.1 365.9 142.4 367.1 141.6 368.2 140.7 369.3 139.7 370.5 138.6 371.6 137.4 372.7 136 373.8 134.6 375 133.1 376.1 131.4 377.2 129.6 378.4 127.7 379.5 125.7 380.6 123.7 381.7 121.5 382.9 119.2 384 116.9 385.1 114.6 386.3 112.2 387.4 109.9 388.5 107.6 389.7 105.3 390.8 103.1 391.9 101 393 99 394.2 97.2 395.3 95.6 396.4 94.1 397.6 92.9 398.7 91.9 399.8 91.1 400.9 90.5 402.1 90.2 403.2 90.2 404.3 90.4 405.5 90.8 406.6 91.5 407.7 92.3 408.8 93.4 410 94.6 411.1 96 412.2 97.4 413.4 99 414.5 100.7 415.6 102.4 416.7 104.2 417.9 105.9 419 107.7 420.1 109.4 421.3 111 422.4 112.6 423.5 114.1 424.6 115.5 425.8 116.9 426.9 118.1 428 119.2 429.2 120.2 430.3 121.2 431.4 122 432.5 122.7 433.7 123.4 434.8 123.9 435.9 124.4 437.1 124.8 438.2 125.1 439.3 125.4 440.4 125.7 441.6 125.8 442.7 126 443.8 126.1 445 126.2 446.1 126.3 447.2 126.3 448.3 126.4 449.5 126.4 450.6 126.5 451.7 126.5 452.9 126.5 454 126.6 455.1 126.6 456.2 126.6 457.4 126.7 458.5 126.8 459.6 126.8 460.8 126.9 461.9 127 463 127.1 464.1 127.2 465.3 127.3 466.4 127.5 467.5 127.6 468.7 127.8 469.8 127.9 470.9 128.1 472.1 128.3 473.2 128.5 474.3 128.7 475.4 128.9 476.6 129.1 477.7 129.4 478.8 129.6 480 129.9 481.1 130.1 482.2 130.4 483.3 130.7 484.5 131 485.6 131.2 486.7 131.5 487.9 131.8 489 132.1 490.1 132.4 491.2 132.8 492.4 133.1 493.5 133.4 494.6 133.7 495.8 134 496.9 134.4 498 134.7 499.1 135 500.3 135.4 501.4 135.7 502.5 136 503.7 136.4 504.8 136.7 505.9 137 507 137.4 508.2 137.7 509.3 138 510.4 138.4 511.6 138.7 512.7 139 513.8 139.3 514.9 139.6 516.1 140 517.2 140.3 518.3 140.6 519.5 140.9 520.6 141.2 521.7 141.5 522.8 141.8 524 142 525.1 142.3 526.2 142.6 527.4 142.9 528.5 143.1 529.6 143.4 530.7 143.6 531.9 143.9 533 144.1 534.1 144.4 535.3 144.6 536.4 144.8 537.5 145 538.6 145.3 539.8 145.5 540.9 145.7 542 145.9 543.2 146.1 544.3 146.2 545.4 146.4 546.5 146.6 547.7 146.8 548.8 146.9 549.9 147.1 551.1 147.2 552.2 147.4 553.3 147.5 554.4 147.7 555.6 147.8 556.7 147.9 557.8 148.1 559 148.2 560.1 148.3 561.2 148.4 562.4 148.5 563.5 148.6 564.6 148.7 565.7 148.8 566.9 148.9 568 149 569.1 149.1 570.3 149.1 571.4 149.2 572.5 149.3 573.6 149.3 574.8 149.4 575.9 149.5 577 149.5 578.2 149.6 579.3 149.6 580.4 149.7 581.5 149.7 582.7 149.8 583.8 149.8 584.9 149.9 586.1 149.9 587.2 149.9 588.3 150 589.4 150 590.6 150 591.7 150.1 592.8 150.1 594 150.1 595.1 150.1 596.2 150.2 597.3 150.2 598.5 150.2 599.6 150.2 600.7 150.2 601.9 150.3 603 150.3 604.1 150.3 605.2 150.3 606.4 150.3 607.5 150.3 608.6 150.3 609.8 150.4 610.9 150.4 612 150.4 613.1 150.4 614.3 150.4 615.4 150.4 616.5 150.4 617.7 150.4 618.8 150.4 619.9 150.4 621 150.4 622.2 150.4 623.3 150.4 624.4 150.4 625.6 150.5 626.7 150.5 627.8 150.5 628.9 150.5 630.1 150.5 631.2 150.5 632.3 150.5 633.5 150.5 634.6 150.5 635.7 150.5 636.8 150.5 638 150.5 639.1 150.5 640.2 150.5 641.4 150.5 642.5 150.5 643.6 150.5 644.8 150.5 645.9 150.5 647 150.5 648.1 150.5 649.3 150.5 650.4 150.5 651.5 150.5 652.7 150.5 653.8 150.5 654.9 150.5 656 150.5 657.2 150.5 658.3 150.5 659.4 150.5 660.6 150.5 661.7 150.5 662.8 150.5 663.9 150.5 665.1 150.5 666.2 150.5 667.3 150.5 668.5 150.5 669.6 150.5 670.7 150.5 671.8 150.5 673 150.5 674.1 150.5 675.2 150.5 676.4 150.5 677.5 150.5 678.6 150.5 679.7 150.5 680.9 150.5 682 150.5" fill="none" stroke="#1414f0" stroke-width="1.75"/>
<path d="M344.5 226.5 345.6 226.5 346.8 226.5 347.9 226.5 349 226.4 350.1 226.4 351.3 226.3 352.4 226.2 353.5 226.1 354.7 226 355.8 225.9 356.9 225.7 358 225.5 359.2 225.2 360.3 224.9 361.4 224.5 362.6 224.1 363.7 223.6 364.8 223 365.9 222.4 367.1 221.6 368.2 220.8 369.3 219.8 370.5 218.7 371.6 217.5 372.7 216.2 373.8 214.7 375 213.2 376.1 211.5 377.2 209.7 378.4 207.8 379.5 205.8 380.6 203.7 381.7 201.6 382.9 199.4 384 197.1 385.1 194.9 386.3 192.7 387.4 190.6 388.5 188.6 389.7 186.6 390.8 184.9 391.9 183.2 393 181.8 394.2 180.6 395.3 179.6 396.4 178.9 397.6 178.5 398.7 178.3 399.8 178.4 400.9 178.8 402.1 179.4 403.2 180.3 404.3 181.5 405.5 182.9 406.6 184.4 407.7 186.2 408.8 188.1 410 190.1 411.1 192.2 412.2 194.4 413.4 196.6 414.5 198.8 415.6 201 416.7 203.2 417.9 205.3 419 207.3 420.1 209.2 421.3 211 422.4 212.8 423.5 214.4 424.6 215.8 425.8 217.2 426.9 218.4 428 219.5 429.2 220.5 430.3 221.4 431.4 222.2 432.5 222.9 433.7 223.5 434.8 224 435.9 224.4 437.1 224.8 438.2 225.1 439.3 225.4 440.4 225.6 441.6 225.8 442.7 226 443.8 226.1 445 226.2 446.1 226.3 447.2 226.4 448.3 226.4 449.5 226.5 450.6 226.5 451.7 226.5 452.9 226.5 454 226.5 455.1 226.6 456.2 226.6 457.4 226.6 458.5 226.6 459.6 226.6 460.8 226.6 461.9 226.6 463 226.6 464.1 226.6 465.3 226.6 466.4 226.6 467.5 226.6 468.7 226.6 469.8 226.6 470.9 226.6 472.1 226.6 473.2 226.6 474.3 226.6 475.4 226.6 476.6 226.6 477.7 226.6 478.8 226.6 480 226.6 481.1 226.6 482.2 226.6 483.3 226.6 484.5 226.6 485.6 226.6 486.7 226.6 487.9 226.6 489 226.6 490.1 226.6 491.2 226.6 492.4 226.6 493.5 226.6 494.6 226.6 495.8 226.6 496.9 226.6 498 226.6 499.1 226.6 500.3 226.6 501.4 226.6 502.5 226.6 503.7 226.6 504.8 226.6 505.9 226.6 507 226.6 508.2 226.6 509.3 226.6 510.4 226.6 511.6 226.6 512.7 226.6 513.8 226.6 514.9 226.6 516.1 226.6 517.2 226.6 518.3 226.6 519.5 226.6 520.6 226.6 521.7 226.6 522.8 226.6 524 226.6 525.1 226.6 526.2 226.6 527.4 226.6 528.5 226.6 529.6 226.6 530.7 226.6 531.9 226.6 533 226.6 534.1 226.6 535.3 226.6 536.4 226.6 537.5 226.6 538.6 226.6 539.8 226.6 540.9 226.6 542 226.6 543.2 226.6 544.3 226.6 545.4 226.6 546.5 226.6 547.7 226.6 548.8 226.6 549.9 226.6 551.1 226.6 552.2 226.6 553.3 226.6 554.4 226.6 555.6 226.6 556.7 226.6 557.8 226.6 559 226.6 560.1 226.6 561.2 226.6 562.4 226.6 563.5 226.6 564.6 226.6 565.7 226.6 566.9 226.6 568 226.6 569.1 226.6 570.3 226.6 571.4 226.6 572.5 226.6 573.6 226.6 574.8 226.6 575.9 226.6 577 226.6 578.2 226.6 579.3 226.6 580.4 226.6 581.5 226.6 582.7 226.6 583.8 226.6 584.9 226.6 586.1 226.6 587.2 226.6 588.3 226.6 589.4 226.6 590.6 226.6 591.7 226.6 592.8 226.6 594 226.6 595.1 226.6 596.2 226.6 597.3 226.6 598.5 226.6 599.6 226.6 600.7 226.6 601.9 226.6 603 226.6 604.1 226.6 605.2 226.6 606.4 226.6 607.5 226.6 608.6 226.6 609.8 226.6 610.9 226.6 612 226.6 613.1 226.6 614.3 226.6 615.4 226.6 616.5 226.6 617.7 226.6 618.8 226.6 619.9 226.6 621 226.6 622.2 226.6 623.3 226.6 624.4 226.6 625.6 226.6 626.7 226.6 627.8 226.6 628.9 226.6 630.1 226.6 631.2 226.6 632.3 226.6 633.5 226.6 634.6 226.6 635.7 226.6 636.8 226.6 638 226.6 639.1 226.6 640.2 226.6 641.4 226.6 642.5 226.6 643.6 226.6 644.8 226.6 645.9 226.6 647 226.6 648.1 226.6 649.3 226.6 650.4 226.6 651.5 226.6 652.7 226.6 653.8 226.6 654.9 226.6 656 226.6 657.2 226.6 658.3 226.6 659.4 226.6 660.6 226.6 661.7 226.6 662.8 226.6 663.9 226.6 665.1 226.6 666.2 226.6 667.3 226.6 668.5 226.6 669.6 226.6 670.7 226.6 671.8 226.6 673 226.6 674.1 226.6 675.2 226.6 676.4 226.6 677.5 226.6 678.6 226.6 679.7 226.6 680.9 226.6 682 226.6" fill="none" stroke="#000" stroke-width="1.4" stroke-dasharray="3.3 4.5"/>
<path d="M344.5 226.3 345.6 226.3 346.8 226.3 347.9 226.2 349 226.2 350.1 226.1 351.3 226.1 352.4 226 353.5 226 354.7 225.9 355.8 225.9 356.9 225.8 358 225.7 359.2 225.6 360.3 225.5 361.4 225.4 362.6 225.3 363.7 225.2 364.8 225.1 365.9 225 367.1 224.8 368.2 224.7 369.3 224.5 370.5 224.4 371.6 224.2 372.7 224 373.8 223.8 375 223.6 376.1 223.4 377.2 223.1 378.4 222.9 379.5 222.6 380.6 222.4 381.7 222.1 382.9 221.8 384 221.5 385.1 221.1 386.3 220.8 387.4 220.4 388.5 220.1 389.7 219.7 390.8 219.3 391.9 218.9 393 218.5 394.2 218.1 395.3 217.6 396.4 217.2 397.6 216.7 398.7 216.3 399.8 215.8 400.9 215.3 402.1 214.8 403.2 214.3 404.3 213.9 405.5 213.4 406.6 212.8 407.7 212.3 408.8 211.8 410 211.3 411.1 210.8 412.2 210.3 413.4 209.8 414.5 209.4 415.6 208.9 416.7 208.4 417.9 208 419 207.5 420.1 207.1 421.3 206.7 422.4 206.3 423.5 205.9 424.6 205.5 425.8 205.2 426.9 204.9 428 204.6 429.2 204.3 430.3 204.1 431.4 203.9 432.5 203.7 433.7 203.5 434.8 203.4 435.9 203.3 437.1 203.2 438.2 203.1 439.3 203.1 440.4 203.1 441.6 203.1 442.7 203.2 443.8 203.3 445 203.4 446.1 203.6 447.2 203.8 448.3 204 449.5 204.2 450.6 204.5 451.7 204.8 452.9 205.1 454 205.4 455.1 205.7 456.2 206.1 457.4 206.5 458.5 206.9 459.6 207.3 460.8 207.8 461.9 208.2 463 208.7 464.1 209.1 465.3 209.6 466.4 210.1 467.5 210.6 468.7 211.1 469.8 211.6 470.9 212.1 472.1 212.6 473.2 213.1 474.3 213.6 475.4 214.1 476.6 214.6 477.7 215.1 478.8 215.6 480 216.1 481.1 216.5 482.2 217 483.3 217.5 484.5 217.9 485.6 218.3 486.7 218.7 487.9 219.1 489 219.5 490.1 219.9 491.2 220.3 492.4 220.6 493.5 221 494.6 221.3 495.8 221.6 496.9 221.9 498 222.2 499.1 222.5 500.3 222.8 501.4 223 502.5 223.3 503.7 223.5 504.8 223.7 505.9 223.9 507 224.1 508.2 224.3 509.3 224.5 510.4 224.6 511.6 224.8 512.7 224.9 513.8 225 514.9 225.2 516.1 225.3 517.2 225.4 518.3 225.5 519.5 225.6 520.6 225.7 521.7 225.8 522.8 225.8 524 225.9 525.1 226 526.2 226 527.4 226.1 528.5 226.1 529.6 226.2 530.7 226.2 531.9 226.2 533 226.3 534.1 226.3 535.3 226.3 536.4 226.4 537.5 226.4 538.6 226.4 539.8 226.4 540.9 226.5 542 226.5 543.2 226.5 544.3 226.5 545.4 226.5 546.5 226.5 547.7 226.5 548.8 226.5 549.9 226.5 551.1 226.5 552.2 226.6 553.3 226.6 554.4 226.6 555.6 226.6 556.7 226.6 557.8 226.6 559 226.6 560.1 226.6 561.2 226.6 562.4 226.6 563.5 226.6 564.6 226.6 565.7 226.6 566.9 226.6 568 226.6 569.1 226.6 570.3 226.6 571.4 226.6 572.5 226.6 573.6 226.6 574.8 226.6 575.9 226.6 577 226.6 578.2 226.6 579.3 226.6 580.4 226.6 581.5 226.6 582.7 226.6 583.8 226.6 584.9 226.6 586.1 226.6 587.2 226.6 588.3 226.6 589.4 226.6 590.6 226.6 591.7 226.6 592.8 226.6 594 226.6 595.1 226.6 596.2 226.6 597.3 226.6 598.5 226.6 599.6 226.6 600.7 226.6 601.9 226.6 603 226.6 604.1 226.6 605.2 226.6 606.4 226.6 607.5 226.6 608.6 226.6 609.8 226.6 610.9 226.6 612 226.6 613.1 226.6 614.3 226.6 615.4 226.6 616.5 226.6 617.7 226.6 618.8 226.6 619.9 226.6 621 226.6 622.2 226.6 623.3 226.6 624.4 226.6 625.6 226.6 626.7 226.6 627.8 226.6 628.9 226.6 630.1 226.6 631.2 226.6 632.3 226.6 633.5 226.6 634.6 226.6 635.7 226.6 636.8 226.6 638 226.6 639.1 226.6 640.2 226.6 641.4 226.6 642.5 226.6 643.6 226.6 644.8 226.6 645.9 226.6 647 226.6 648.1 226.6 649.3 226.6 650.4 226.6 651.5 226.6 652.7 226.6 653.8 226.6 654.9 226.6 656 226.6 657.2 226.6 658.3 226.6 659.4 226.6 660.6 226.6 661.7 226.6 662.8 226.6 663.9 226.6 665.1 226.6 666.2 226.6 667.3 226.6 668.5 226.6 669.6 226.6 670.7 226.6 671.8 226.6 673 226.6 674.1 226.6 675.2 226.6 676.4 226.6 677.5 226.6 678.6 226.6 679.7 226.6 680.9 226.6 682 226.6" fill="none" stroke="#000" stroke-width="1.4" stroke-dasharray="3.3 4.5"/>
<path d="M344.5 226.2 345.6 226.2 346.8 226.2 347.9 226.2 349 226.2 350.1 226.1 351.3 226.1 352.4 226.1 353.5 226.1 354.7 226.1 355.8 226 356.9 226 358 226 359.2 226 360.3 226 361.4 225.9 362.6 225.9 363.7 225.9 364.8 225.9 365.9 225.8 367.1 225.8 368.2 225.8 369.3 225.7 370.5 225.7 371.6 225.7 372.7 225.7 373.8 225.6 375 225.6 376.1 225.6 377.2 225.5 378.4 225.5 379.5 225.4 380.6 225.4 381.7 225.4 382.9 225.3 384 225.3 385.1 225.2 386.3 225.2 387.4 225.2 388.5 225.1 389.7 225.1 390.8 225 391.9 225 393 224.9 394.2 224.9 395.3 224.8 396.4 224.8 397.6 224.7 398.7 224.7 399.8 224.6 400.9 224.6 402.1 224.5 403.2 224.4 404.3 224.4 405.5 224.3 406.6 224.3 407.7 224.2 408.8 224.1 410 224.1 411.1 224 412.2 223.9 413.4 223.9 414.5 223.8 415.6 223.7 416.7 223.7 417.9 223.6 419 223.5 420.1 223.5 421.3 223.4 422.4 223.3 423.5 223.2 424.6 223.2 425.8 223.1 426.9 223 428 222.9 429.2 222.9 430.3 222.8 431.4 222.7 432.5 222.6 433.7 222.6 434.8 222.5 435.9 222.4 437.1 222.3 438.2 222.2 439.3 222.1 440.4 222.1 441.6 222 442.7 221.9 443.8 221.8 445 221.7 446.1 221.7 447.2 221.6 448.3 221.5 449.5 221.4 450.6 221.3 451.7 221.2 452.9 221.2 454 221.1 455.1 221 456.2 220.9 457.4 220.8 458.5 220.7 459.6 220.7 460.8 220.6 461.9 220.5 463 220.4 464.1 220.3 465.3 220.3 466.4 220.2 467.5 220.1 468.7 220 469.8 219.9 470.9 219.9 472.1 219.8 473.2 219.7 474.3 219.7 475.4 219.6 476.6 219.5 477.7 219.4 478.8 219.4 480 219.3 481.1 219.2 482.2 219.2 483.3 219.1 484.5 219.1 485.6 219 486.7 218.9 487.9 218.9 489 218.8 490.1 218.8 491.2 218.7 492.4 218.7 493.5 218.6 494.6 218.6 495.8 218.5 496.9 218.5 498 218.5 499.1 218.4 500.3 218.4 501.4 218.4 502.5 218.3 503.7 218.3 504.8 218.3 505.9 218.2 507 218.2 508.2 218.2 509.3 218.2 510.4 218.2 511.6 218.1 512.7 218.1 513.8 218.1 514.9 218.1 516.1 218.1 517.2 218.1 518.3 218.1 519.5 218.1 520.6 218.1 521.7 218.1 522.8 218.1 524 218.1 525.1 218.1 526.2 218.2 527.4 218.2 528.5 218.2 529.6 218.2 530.7 218.2 531.9 218.3 533 218.3 534.1 218.3 535.3 218.3 536.4 218.4 537.5 218.4 538.6 218.4 539.8 218.5 540.9 218.5 542 218.6 543.2 218.6 544.3 218.7 545.4 218.7 546.5 218.8 547.7 218.8 548.8 218.9 549.9 218.9 551.1 219 552.2 219 553.3 219.1 554.4 219.2 555.6 219.2 556.7 219.3 557.8 219.4 559 219.4 560.1 219.5 561.2 219.6 562.4 219.6 563.5 219.7 564.6 219.8 565.7 219.8 566.9 219.9 568 220 569.1 220.1 570.3 220.1 571.4 220.2 572.5 220.3 573.6 220.4 574.8 220.5 575.9 220.5 577 220.6 578.2 220.7 579.3 220.8 580.4 220.9 581.5 221 582.7 221 583.8 221.1 584.9 221.2 586.1 221.3 587.2 221.4 588.3 221.5 589.4 221.5 590.6 221.6 591.7 221.7 592.8 221.8 594 221.9 595.1 222 596.2 222 597.3 222.1 598.5 222.2 599.6 222.3 600.7 222.4 601.9 222.4 603 222.5 604.1 222.6 605.2 222.7 606.4 222.8 607.5 222.8 608.6 222.9 609.8 223 610.9 223.1 612 223.1 613.1 223.2 614.3 223.3 615.4 223.4 616.5 223.4 617.7 223.5 618.8 223.6 619.9 223.7 621 223.7 622.2 223.8 623.3 223.9 624.4 223.9 625.6 224 626.7 224.1 627.8 224.1 628.9 224.2 630.1 224.2 631.2 224.3 632.3 224.4 633.5 224.4 634.6 224.5 635.7 224.5 636.8 224.6 638 224.6 639.1 224.7 640.2 224.8 641.4 224.8 642.5 224.9 643.6 224.9 644.8 225 645.9 225 647 225 648.1 225.1 649.3 225.1 650.4 225.2 651.5 225.2 652.7 225.3 653.8 225.3 654.9 225.4 656 225.4 657.2 225.4 658.3 225.5 659.4 225.5 660.6 225.5 661.7 225.6 662.8 225.6 663.9 225.6 665.1 225.7 666.2 225.7 667.3 225.7 668.5 225.8 669.6 225.8 670.7 225.8 671.8 225.8 673 225.9 674.1 225.9 675.2 225.9 676.4 225.9 677.5 226 678.6 226 679.7 226 680.9 226 682 226.1" fill="none" stroke="#000" stroke-width="1.4" stroke-dasharray="3.3 4.5"/>
<path d="M344.5 225.9 345.6 225.8 346.8 225.7 347.9 225.7 349 225.6 350.1 225.5 351.3 225.3 352.4 225.2 353.5 225 354.7 224.8 355.8 224.6 356.9 224.3 358 224 359.2 223.6 360.3 223.2 361.4 222.7 362.6 222.1 363.7 221.5 364.8 220.8 365.9 220 367.1 219 368.2 218 369.3 216.9 370.5 215.6 371.6 214.2 372.7 212.6 373.8 211 375 209.2 376.1 207.2 377.2 205.1 378.4 203 379.5 200.7 380.6 198.3 381.7 195.8 382.9 193.3 384 190.7 385.1 188.1 386.3 185.5 387.4 183 388.5 180.6 389.7 178.2 390.8 176 391.9 173.9 393 172 394.2 170.4 395.3 168.9 396.4 167.7 397.6 166.7 398.7 166.1 399.8 165.6 400.9 165.5 402.1 165.6 403.2 165.9 404.3 166.5 405.5 167.3 406.6 168.3 407.7 169.5 408.8 170.8 410 172.3 411.1 173.8 412.2 175.5 413.4 177.1 414.5 178.8 415.6 180.4 416.7 182.1 417.9 183.6 419 185.1 420.1 186.6 421.3 187.9 422.4 189.2 423.5 190.3 424.6 191.4 425.8 192.3 426.9 193.1 428 193.9 429.2 194.5 430.3 195.1 431.4 195.6 432.5 196 433.7 196.3 434.8 196.6 435.9 196.9 437.1 197.1 438.2 197.3 439.3 197.4 440.4 197.6 441.6 197.7 442.7 197.9 443.8 198 445 198.2 446.1 198.3 447.2 198.5 448.3 198.7 449.5 198.9 450.6 199.1 451.7 199.3 452.9 199.5 454 199.8 455.1 200.1 456.2 200.4 457.4 200.7 458.5 201 459.6 201.4 460.8 201.7 461.9 202.1 463 202.5 464.1 202.9 465.3 203.3 466.4 203.7 467.5 204.1 468.7 204.5 469.8 205 470.9 205.4 472.1 205.8 473.2 206.3 474.3 206.7 475.4 207.1 476.6 207.5 477.7 208 478.8 208.4 480 208.8 481.1 209.2 482.2 209.6 483.3 210 484.5 210.4 485.6 210.7 486.7 211.1 487.9 211.4 489 211.8 490.1 212.1 491.2 212.4 492.4 212.7 493.5 213 494.6 213.3 495.8 213.6 496.9 213.8 498 214.1 499.1 214.3 500.3 214.6 501.4 214.8 502.5 215 503.7 215.2 504.8 215.4 505.9 215.5 507 215.7 508.2 215.9 509.3 216 510.4 216.2 511.6 216.3 512.7 216.4 513.8 216.6 514.9 216.7 516.1 216.8 517.2 216.9 518.3 217 519.5 217.1 520.6 217.2 521.7 217.3 522.8 217.3 524 217.4 525.1 217.5 526.2 217.6 527.4 217.6 528.5 217.7 529.6 217.8 530.7 217.8 531.9 217.9 533 218 534.1 218 535.3 218.1 536.4 218.1 537.5 218.2 538.6 218.3 539.8 218.3 540.9 218.4 542 218.4 543.2 218.5 544.3 218.6 545.4 218.6 546.5 218.7 547.7 218.7 548.8 218.8 549.9 218.9 551.1 218.9 552.2 219 553.3 219.1 554.4 219.1 555.6 219.2 556.7 219.3 557.8 219.3 559 219.4 560.1 219.5 561.2 219.5 562.4 219.6 563.5 219.7 564.6 219.8 565.7 219.8 566.9 219.9 568 220 569.1 220.1 570.3 220.1 571.4 220.2 572.5 220.3 573.6 220.4 574.8 220.5 575.9 220.5 577 220.6 578.2 220.7 579.3 220.8 580.4 220.9 581.5 221 582.7 221 583.8 221.1 584.9 221.2 586.1 221.3 587.2 221.4 588.3 221.5 589.4 221.5 590.6 221.6 591.7 221.7 592.8 221.8 594 221.9 595.1 222 596.2 222 597.3 222.1 598.5 222.2 599.6 222.3 600.7 222.4 601.9 222.4 603 222.5 604.1 222.6 605.2 222.7 606.4 222.8 607.5 222.8 608.6 222.9 609.8 223 610.9 223.1 612 223.1 613.1 223.2 614.3 223.3 615.4 223.4 616.5 223.4 617.7 223.5 618.8 223.6 619.9 223.7 621 223.7 622.2 223.8 623.3 223.9 624.4 223.9 625.6 224 626.7 224.1 627.8 224.1 628.9 224.2 630.1 224.2 631.2 224.3 632.3 224.4 633.5 224.4 634.6 224.5 635.7 224.5 636.8 224.6 638 224.6 639.1 224.7 640.2 224.8 641.4 224.8 642.5 224.9 643.6 224.9 644.8 225 645.9 225 647 225 648.1 225.1 649.3 225.1 650.4 225.2 651.5 225.2 652.7 225.3 653.8 225.3 654.9 225.4 656 225.4 657.2 225.4 658.3 225.5 659.4 225.5 660.6 225.5 661.7 225.6 662.8 225.6 663.9 225.6 665.1 225.7 666.2 225.7 667.3 225.7 668.5 225.8 669.6 225.8 670.7 225.8 671.8 225.8 673 225.9 674.1 225.9 675.2 225.9 676.4 225.9 677.5 226 678.6 226 679.7 226 680.9 226 682 226.1" fill="none" stroke="#1414f0" stroke-width="1.75"/>
<line x1="344.3" y1="0" x2="344.3" y2="231" stroke="#000" stroke-width="2.4"/>
<text x="344.2" y="245.6" text-anchor="middle" font-size="13.7" fill="#1a1a1a">0</text>
<text x="389.7" y="245.6" text-anchor="middle" font-size="13.7" fill="#1a1a1a">20</text>
<text x="435.2" y="245.6" text-anchor="middle" font-size="13.7" fill="#1a1a1a">40</text>
<text x="480.8" y="245.6" text-anchor="middle" font-size="13.7" fill="#1a1a1a">60</text>
<text x="526.3" y="245.6" text-anchor="middle" font-size="13.7" fill="#1a1a1a">80</text>
<text x="571.8" y="245.6" text-anchor="middle" font-size="13.7" fill="#1a1a1a">100</text>
<text x="617.3" y="245.6" text-anchor="middle" font-size="13.7" fill="#1a1a1a">120</text>
<text x="662.8" y="245.6" text-anchor="middle" font-size="13.7" fill="#1a1a1a">140</text>
<text x="454" y="259.9" font-size="14.8" fill="#1a1a1a" style="white-space:pre">Unbinding  force (pN)</text>
<text x="293.3" y="19.6" font-size="18" fill="#1a1a1a">(B)</text>
<text transform="translate(312.3,116.4) rotate(-90)" text-anchor="middle" font-size="15.4" fill="#1a1a1a">Events</text>
<text transform="translate(429.9,25.3) scale(1,1.02)" font-size="14.9" fill="#1a1a1a">29.6 +/- 16.8</text>
<text x="559" y="22.4" font-size="14.6" fill="#1a1a1a">Unimodal</text>
<text transform="translate(428.6,102) scale(1,1.02)" font-size="14.9" fill="#1a1a1a">25.1 +/- 7.4</text>
<text x="559" y="105.7" font-size="14.6" fill="#1a1a1a">Bimodal</text>
<text transform="translate(491.7,128.7) scale(1,1.02)" font-size="14.9" fill="#1a1a1a">48.2 +/- 21.9</text>
<text transform="translate(426.1,170.5) scale(1,1.02)" font-size="14.9" fill="#1a1a1a">24.0 +/- 6.9</text>
<text x="559.1" y="178.3" font-size="14.6" fill="#1a1a1a">Trimodal</text>
<text transform="translate(449.5,194.3) scale(1,1.02)" font-size="14.9" fill="#1a1a1a">41.9 +/- 14.0</text>
<text transform="translate(522.5,213.9) scale(1,1.02)" font-size="14.9" fill="#1a1a1a">76.6 +/- 30.6</text>
<text x="293.6" y="263.2" font-size="18.2" fill="#1a1a1a">(C)</text>
<line x1="345" y1="267.7" x2="345" y2="385" stroke="#000" stroke-width="2"/>
<line x1="345" y1="384.1" x2="664.5" y2="384.1" stroke="#808080" stroke-width="1.6"/>
<line x1="338.5" y1="384.1" x2="345" y2="384.1" stroke="#000" stroke-width="1.5"/>
<text x="336" y="388.7" text-anchor="end" font-size="13" fill="#1a1a1a">0</text>
<line x1="338.5" y1="355" x2="345" y2="355" stroke="#000" stroke-width="1.5"/>
<text x="336" y="359.6" text-anchor="end" font-size="13" fill="#1a1a1a">20</text>
<line x1="338.5" y1="325.9" x2="345" y2="325.9" stroke="#000" stroke-width="1.5"/>
<text x="336" y="330.5" text-anchor="end" font-size="13" fill="#1a1a1a">40</text>
<line x1="338.5" y1="296.8" x2="345" y2="296.8" stroke="#000" stroke-width="1.5"/>
<text x="336" y="301.4" text-anchor="end" font-size="13" fill="#1a1a1a">60</text>
<line x1="338.5" y1="267.7" x2="345" y2="267.7" stroke="#000" stroke-width="1.5"/>
<text x="336" y="272.3" text-anchor="end" font-size="13" fill="#1a1a1a">80</text>
<rect x="391" y="294.2" width="46" height="89.9" fill="#4444ff" stroke="#333" stroke-width="0.8"/>
<rect x="482" y="337.9" width="46.5" height="46.2" fill="#ff3c3c" stroke="#333" stroke-width="0.8"/>
<rect x="573.5" y="381.6" width="45.8" height="2.5" fill="#3c9a6a" stroke="#2a6a4a" stroke-width="0.6"/>
<text x="414" y="399" text-anchor="middle" font-size="13.2" fill="#1a1a1a">0</text>
<text x="505" y="399" text-anchor="middle" font-size="13.2" fill="#1a1a1a">30</text>
<text x="598.5" y="399" text-anchor="middle" font-size="13.2" fill="#1a1a1a">300</text>
<text x="434.3" y="413.5" font-size="15" fill="#1a1a1a" style="white-space:pre">Free 3’-sialyllactose  (µM)</text>
<text transform="translate(310.8,326.1) rotate(-90)" text-anchor="middle" font-size="15.4" fill="#1a1a1a">Events</text>
<text x="552.3" y="329" font-size="16.5" fill="#1a1a1a">3’-sialyllactose</text>
<g><line x1="568.4" y1="290.1" x2="571.4" y2="290.7" stroke="#d4bc98" stroke-width="2.0"/>
<line x1="571.4" y1="290.7" x2="574.4" y2="291.3" stroke="#d4bc98" stroke-width="2.0"/>
<line x1="574.4" y1="291.3" x2="575.6" y2="289.5" stroke="#d4bc98" stroke-width="2.0"/>
<line x1="575.6" y1="289.5" x2="576.8" y2="287.7" stroke="#dc2020" stroke-width="2.0"/>
<line x1="574.4" y1="291.3" x2="577" y2="292.8" stroke="#d4bc98" stroke-width="2.0"/>
<line x1="577" y1="292.8" x2="579.7" y2="294.3" stroke="#3858e0" stroke-width="2.0"/>
<line x1="579.7" y1="294.3" x2="579.2" y2="295.8" stroke="#3858e0" stroke-width="2.0"/>
<line x1="579.2" y1="295.8" x2="578.6" y2="297.3" stroke="#f2f2f2" stroke-width="2.0"/>
<line x1="579.7" y1="294.3" x2="583" y2="295.2" stroke="#3858e0" stroke-width="2.0"/>
<line x1="583" y1="295.2" x2="586.3" y2="296.1" stroke="#d4bc98" stroke-width="2.0"/>
<line x1="586.3" y1="296.1" x2="588.7" y2="294" stroke="#d4bc98" stroke-width="2.0"/>
<line x1="588.7" y1="294" x2="591.1" y2="291.9" stroke="#d4bc98" stroke-width="2.0"/>
<line x1="591.1" y1="291.9" x2="594.1" y2="292.8" stroke="#d4bc98" stroke-width="2.0"/>
<line x1="594.1" y1="292.8" x2="597.1" y2="293.7" stroke="#dc2020" stroke-width="2.0"/>
<line x1="597.1" y1="293.7" x2="598.6" y2="296.7" stroke="#dc2020" stroke-width="2.0"/>
<line x1="598.6" y1="296.7" x2="600.1" y2="299.7" stroke="#d4bc98" stroke-width="2.0"/>
<line x1="600.1" y1="299.7" x2="597.4" y2="301.8" stroke="#d4bc98" stroke-width="2.0"/>
<line x1="597.4" y1="301.8" x2="594.7" y2="303.9" stroke="#d4bc98" stroke-width="2.0"/>
<line x1="594.7" y1="303.9" x2="591.1" y2="303.6" stroke="#d4bc98" stroke-width="2.0"/>
<line x1="591.1" y1="303.6" x2="587.5" y2="303.3" stroke="#d4bc98" stroke-width="2.0"/>
<line x1="587.5" y1="303.3" x2="586.9" y2="299.7" stroke="#d4bc98" stroke-width="2.0"/>
<line x1="586.9" y1="299.7" x2="586.3" y2="296.1" stroke="#d4bc98" stroke-width="2.0"/>
<line x1="587.5" y1="303.3" x2="585.7" y2="304.5" stroke="#d4bc98" stroke-width="2.0"/>
<line x1="585.7" y1="304.5" x2="583.9" y2="305.7" stroke="#dc2020" stroke-width="2.0"/>
<line x1="583.9" y1="305.7" x2="582.4" y2="306" stroke="#dc2020" stroke-width="2.0"/>
<line x1="582.4" y1="306" x2="580.9" y2="306.3" stroke="#f2f2f2" stroke-width="2.0"/>
<line x1="600.1" y1="299.7" x2="600.1" y2="303.6" stroke="#d4bc98" stroke-width="2.0"/>
<line x1="600.1" y1="303.6" x2="600.1" y2="307.5" stroke="#dc2020" stroke-width="2.0"/>
<line x1="600.1" y1="299.7" x2="600.8" y2="298.1" stroke="#d4bc98" stroke-width="2.0"/>
<line x1="600.8" y1="298.1" x2="601.5" y2="296.5" stroke="#dc2020" stroke-width="2.0"/>
<line x1="591.1" y1="291.9" x2="591.1" y2="288" stroke="#d4bc98" stroke-width="2.0"/>
<line x1="591.1" y1="288" x2="591.1" y2="284.1" stroke="#d4bc98" stroke-width="2.0"/>
<line x1="591.1" y1="284.1" x2="589.3" y2="285.3" stroke="#d4bc98" stroke-width="2.0"/>
<line x1="589.3" y1="285.3" x2="587.5" y2="286.5" stroke="#f2f2f2" stroke-width="2.0"/>
<line x1="591.1" y1="284.1" x2="593.8" y2="283.8" stroke="#d4bc98" stroke-width="2.0"/>
<line x1="593.8" y1="283.8" x2="596.5" y2="283.5" stroke="#dc2020" stroke-width="2.0"/>
<line x1="596.5" y1="283.5" x2="597.4" y2="285.3" stroke="#dc2020" stroke-width="2.0"/>
<line x1="597.4" y1="285.3" x2="598.3" y2="287.1" stroke="#f2f2f2" stroke-width="2.0"/>
<line x1="596.5" y1="283.5" x2="596.2" y2="278.4" stroke="#dc2020" stroke-width="2.0"/>
<line x1="596.2" y1="278.4" x2="595.9" y2="273.4" stroke="#d4bc98" stroke-width="2.0"/>
<line x1="595.9" y1="273.4" x2="598.9" y2="272.2" stroke="#d4bc98" stroke-width="2.0"/>
<line x1="598.9" y1="272.2" x2="601.9" y2="271" stroke="#dc2020" stroke-width="2.0"/>
<line x1="601.9" y1="271" x2="603.1" y2="271.6" stroke="#dc2020" stroke-width="2.0"/>
<line x1="603.1" y1="271.6" x2="604.3" y2="272.2" stroke="#f2f2f2" stroke-width="2.0"/>
<line x1="600.1" y1="299.7" x2="602.8" y2="300.3" stroke="#d4bc98" stroke-width="2.0"/>
<line x1="602.8" y1="300.3" x2="605.5" y2="300.9" stroke="#dc2020" stroke-width="2.0"/>
<line x1="605.5" y1="300.9" x2="608.1" y2="299.4" stroke="#dc2020" stroke-width="2.0"/>
<line x1="608.1" y1="299.4" x2="610.8" y2="297.9" stroke="#d4bc98" stroke-width="2.0"/>
<line x1="610.8" y1="297.9" x2="612.3" y2="295.8" stroke="#d4bc98" stroke-width="2.0"/>
<line x1="612.3" y1="295.8" x2="613.8" y2="293.7" stroke="#d4bc98" stroke-width="2.0"/>
<line x1="613.8" y1="293.7" x2="612.3" y2="291.9" stroke="#d4bc98" stroke-width="2.0"/>
<line x1="612.3" y1="291.9" x2="610.8" y2="290.1" stroke="#dc2020" stroke-width="2.0"/>
<line x1="610.8" y1="290.1" x2="612" y2="288.9" stroke="#dc2020" stroke-width="2.0"/>
<line x1="612" y1="288.9" x2="613.2" y2="287.7" stroke="#f2f2f2" stroke-width="2.0"/>
<line x1="613.8" y1="293.7" x2="617.3" y2="292.2" stroke="#d4bc98" stroke-width="2.0"/>
<line x1="617.3" y1="292.2" x2="620.9" y2="290.7" stroke="#d4bc98" stroke-width="2.0"/>
<line x1="620.9" y1="290.7" x2="622.4" y2="292.5" stroke="#d4bc98" stroke-width="2.0"/>
<line x1="622.4" y1="292.5" x2="623.9" y2="294.3" stroke="#dc2020" stroke-width="2.0"/>
<line x1="623.9" y1="294.3" x2="623.3" y2="296.7" stroke="#dc2020" stroke-width="2.0"/>
<line x1="623.3" y1="296.7" x2="622.7" y2="299.1" stroke="#d4bc98" stroke-width="2.0"/>
<line x1="622.7" y1="299.1" x2="619.5" y2="300.6" stroke="#d4bc98" stroke-width="2.0"/>
<line x1="619.5" y1="300.6" x2="616.2" y2="302.1" stroke="#d4bc98" stroke-width="2.0"/>
<line x1="616.2" y1="302.1" x2="613.5" y2="300" stroke="#d4bc98" stroke-width="2.0"/>
<line x1="613.5" y1="300" x2="610.8" y2="297.9" stroke="#d4bc98" stroke-width="2.0"/>
<line x1="616.2" y1="302.1" x2="616.8" y2="304.8" stroke="#d4bc98" stroke-width="2.0"/>
<line x1="616.8" y1="304.8" x2="617.4" y2="307.5" stroke="#dc2020" stroke-width="2.0"/>
<line x1="617.4" y1="307.5" x2="616.3" y2="308.2" stroke="#dc2020" stroke-width="2.0"/>
<line x1="616.3" y1="308.2" x2="615.2" y2="309" stroke="#f2f2f2" stroke-width="2.0"/>
<line x1="622.7" y1="299.1" x2="625.1" y2="301.2" stroke="#d4bc98" stroke-width="2.0"/>
<line x1="625.1" y1="301.2" x2="627.5" y2="303.3" stroke="#d4bc98" stroke-width="2.0"/>
<line x1="627.5" y1="303.3" x2="629.9" y2="301.5" stroke="#d4bc98" stroke-width="2.0"/>
<line x1="629.9" y1="301.5" x2="632.3" y2="299.7" stroke="#dc2020" stroke-width="2.0"/>
<line x1="632.3" y1="299.7" x2="633.5" y2="298.9" stroke="#dc2020" stroke-width="2.0"/>
<line x1="633.5" y1="298.9" x2="634.6" y2="298" stroke="#f2f2f2" stroke-width="2.0"/>
<line x1="620.9" y1="290.7" x2="622.7" y2="289.2" stroke="#d4bc98" stroke-width="2.0"/>
<line x1="622.7" y1="289.2" x2="624.5" y2="287.7" stroke="#dc2020" stroke-width="2.0"/>
<line x1="624.5" y1="287.7" x2="626.6" y2="285.6" stroke="#dc2020" stroke-width="2.0"/>
<line x1="626.6" y1="285.6" x2="628.7" y2="283.5" stroke="#d4bc98" stroke-width="2.0"/>
<line x1="628.7" y1="283.5" x2="628.4" y2="280.6" stroke="#d4bc98" stroke-width="2.0"/>
<line x1="628.4" y1="280.6" x2="628.1" y2="277.6" stroke="#d4bc98" stroke-width="2.0"/>
<line x1="628.1" y1="277.6" x2="625.4" y2="276.7" stroke="#d4bc98" stroke-width="2.0"/>
<line x1="625.4" y1="276.7" x2="622.7" y2="275.8" stroke="#d4bc98" stroke-width="2.0"/>
<line x1="622.7" y1="275.8" x2="622.1" y2="272.2" stroke="#d4bc98" stroke-width="2.0"/>
<line x1="622.1" y1="272.2" x2="621.5" y2="268.6" stroke="#dc2020" stroke-width="2.0"/>
<line x1="628.1" y1="277.6" x2="630.8" y2="275.5" stroke="#d4bc98" stroke-width="2.0"/>
<line x1="630.8" y1="275.5" x2="633.5" y2="273.4" stroke="#dc2020" stroke-width="2.0"/>
<line x1="633.5" y1="273.4" x2="636.8" y2="274.9" stroke="#dc2020" stroke-width="2.0"/>
<line x1="636.8" y1="274.9" x2="640.1" y2="276.4" stroke="#d4bc98" stroke-width="2.0"/>
<line x1="640.1" y1="276.4" x2="639.2" y2="274" stroke="#d4bc98" stroke-width="2.0"/>
<line x1="639.2" y1="274" x2="638.3" y2="271.6" stroke="#f2f2f2" stroke-width="2.0"/>
<line x1="640.1" y1="276.4" x2="640.7" y2="279.6" stroke="#d4bc98" stroke-width="2.0"/>
<line x1="640.7" y1="279.6" x2="641.3" y2="282.9" stroke="#d4bc98" stroke-width="2.0"/>
<line x1="641.3" y1="282.9" x2="643.7" y2="283.8" stroke="#d4bc98" stroke-width="2.0"/>
<line x1="643.7" y1="283.8" x2="646.1" y2="284.7" stroke="#dc2020" stroke-width="2.0"/>
<line x1="641.3" y1="282.9" x2="638" y2="285" stroke="#d4bc98" stroke-width="2.0"/>
<line x1="638" y1="285" x2="634.7" y2="287.1" stroke="#d4bc98" stroke-width="2.0"/>
<line x1="634.7" y1="287.1" x2="631.7" y2="285.3" stroke="#d4bc98" stroke-width="2.0"/>
<line x1="631.7" y1="285.3" x2="628.7" y2="283.5" stroke="#d4bc98" stroke-width="2.0"/>
<line x1="634.7" y1="287.1" x2="635.6" y2="289.8" stroke="#d4bc98" stroke-width="2.0"/>
<line x1="635.6" y1="289.8" x2="636.5" y2="292.5" stroke="#dc2020" stroke-width="2.0"/>
<line x1="636.5" y1="292.5" x2="638" y2="293.4" stroke="#dc2020" stroke-width="2.0"/>
<line x1="638" y1="293.4" x2="639.5" y2="294.3" stroke="#f2f2f2" stroke-width="2.0"/>
<circle cx="568.4" cy="290.1" r="2.1" fill="#d4bc98" stroke="#5a4a3a" stroke-opacity="0.45" stroke-width="0.5"/>
<circle cx="574.4" cy="291.3" r="2.1" fill="#d4bc98" stroke="#5a4a3a" stroke-opacity="0.45" stroke-width="0.5"/>
<circle cx="576.8" cy="287.7" r="2.0" fill="#dc2020" stroke="#5a4a3a" stroke-opacity="0.45" stroke-width="0.5"/>
<circle cx="579.7" cy="294.3" r="1.4" fill="#3858e0" stroke="#5a4a3a" stroke-opacity="0.45" stroke-width="0.5"/>
<circle cx="578.6" cy="297.3" r="1.4" fill="#f2f2f2" stroke="#5a4a3a" stroke-opacity="0.45" stroke-width="0.5"/>
<circle cx="586.3" cy="296.1" r="2.1" fill="#d4bc98" stroke="#5a4a3a" stroke-opacity="0.45" stroke-width="0.5"/>
<circle cx="591.1" cy="291.9" r="2.1" fill="#d4bc98" stroke="#5a4a3a" stroke-opacity="0.45" stroke-width="0.5"/>
<circle cx="597.1" cy="293.7" r="2.0" fill="#dc2020" stroke="#5a4a3a" stroke-opacity="0.45" stroke-width="0.5"/>
<circle cx="600.1" cy="299.7" r="2.1" fill="#d4bc98" stroke="#5a4a3a" stroke-opacity="0.45" stroke-width="0.5"/>
<circle cx="594.7" cy="303.9" r="2.1" fill="#d4bc98" stroke="#5a4a3a" stroke-opacity="0.45" stroke-width="0.5"/>
<circle cx="587.5" cy="303.3" r="2.1" fill="#d4bc98" stroke="#5a4a3a" stroke-opacity="0.45" stroke-width="0.5"/>
<circle cx="583.9" cy="305.7" r="2.0" fill="#dc2020" stroke="#5a4a3a" stroke-opacity="0.45" stroke-width="0.5"/>
<circle cx="580.9" cy="306.3" r="1.4" fill="#f2f2f2" stroke="#5a4a3a" stroke-opacity="0.45" stroke-width="0.5"/>
<circle cx="600.1" cy="307.5" r="2.0" fill="#dc2020" stroke="#5a4a3a" stroke-opacity="0.45" stroke-width="0.5"/>
<circle cx="601.5" cy="296.5" r="2.0" fill="#dc2020" stroke="#5a4a3a" stroke-opacity="0.45" stroke-width="0.5"/>
<circle cx="591.1" cy="284.1" r="2.1" fill="#d4bc98" stroke="#5a4a3a" stroke-opacity="0.45" stroke-width="0.5"/>
<circle cx="587.5" cy="286.5" r="1.4" fill="#f2f2f2" stroke="#5a4a3a" stroke-opacity="0.45" stroke-width="0.5"/>
<circle cx="596.5" cy="283.5" r="2.0" fill="#dc2020" stroke="#5a4a3a" stroke-opacity="0.45" stroke-width="0.5"/>
<circle cx="598.3" cy="287.1" r="1.4" fill="#f2f2f2" stroke="#5a4a3a" stroke-opacity="0.45" stroke-width="0.5"/>
<circle cx="595.9" cy="273.4" r="2.1" fill="#d4bc98" stroke="#5a4a3a" stroke-opacity="0.45" stroke-width="0.5"/>
<circle cx="601.9" cy="271" r="2.0" fill="#dc2020" stroke="#5a4a3a" stroke-opacity="0.45" stroke-width="0.5"/>
<circle cx="604.3" cy="272.2" r="1.4" fill="#f2f2f2" stroke="#5a4a3a" stroke-opacity="0.45" stroke-width="0.5"/>
<circle cx="605.5" cy="300.9" r="2.0" fill="#dc2020" stroke="#5a4a3a" stroke-opacity="0.45" stroke-width="0.5"/>
<circle cx="610.8" cy="297.9" r="2.1" fill="#d4bc98" stroke="#5a4a3a" stroke-opacity="0.45" stroke-width="0.5"/>
<circle cx="610.8" cy="290.1" r="2.0" fill="#dc2020" stroke="#5a4a3a" stroke-opacity="0.45" stroke-width="0.5"/>
<circle cx="613.2" cy="287.7" r="1.4" fill="#f2f2f2" stroke="#5a4a3a" stroke-opacity="0.45" stroke-width="0.5"/>
<circle cx="613.8" cy="293.7" r="2.1" fill="#d4bc98" stroke="#5a4a3a" stroke-opacity="0.45" stroke-width="0.5"/>
<circle cx="620.9" cy="290.7" r="2.1" fill="#d4bc98" stroke="#5a4a3a" stroke-opacity="0.45" stroke-width="0.5"/>
<circle cx="623.9" cy="294.3" r="2.0" fill="#dc2020" stroke="#5a4a3a" stroke-opacity="0.45" stroke-width="0.5"/>
<circle cx="622.7" cy="299.1" r="2.1" fill="#d4bc98" stroke="#5a4a3a" stroke-opacity="0.45" stroke-width="0.5"/>
<circle cx="616.2" cy="302.1" r="2.1" fill="#d4bc98" stroke="#5a4a3a" stroke-opacity="0.45" stroke-width="0.5"/>
<circle cx="617.4" cy="307.5" r="2.0" fill="#dc2020" stroke="#5a4a3a" stroke-opacity="0.45" stroke-width="0.5"/>
<circle cx="615.2" cy="309" r="1.4" fill="#f2f2f2" stroke="#5a4a3a" stroke-opacity="0.45" stroke-width="0.5"/>
<circle cx="627.5" cy="303.3" r="2.1" fill="#d4bc98" stroke="#5a4a3a" stroke-opacity="0.45" stroke-width="0.5"/>
<circle cx="632.3" cy="299.7" r="2.0" fill="#dc2020" stroke="#5a4a3a" stroke-opacity="0.45" stroke-width="0.5"/>
<circle cx="634.6" cy="298" r="1.4" fill="#f2f2f2" stroke="#5a4a3a" stroke-opacity="0.45" stroke-width="0.5"/>
<circle cx="624.5" cy="287.7" r="2.0" fill="#dc2020" stroke="#5a4a3a" stroke-opacity="0.45" stroke-width="0.5"/>
<circle cx="628.7" cy="283.5" r="2.1" fill="#d4bc98" stroke="#5a4a3a" stroke-opacity="0.45" stroke-width="0.5"/>
<circle cx="628.1" cy="277.6" r="2.1" fill="#d4bc98" stroke="#5a4a3a" stroke-opacity="0.45" stroke-width="0.5"/>
<circle cx="622.7" cy="275.8" r="2.1" fill="#d4bc98" stroke="#5a4a3a" stroke-opacity="0.45" stroke-width="0.5"/>
<circle cx="621.5" cy="268.6" r="2.0" fill="#dc2020" stroke="#5a4a3a" stroke-opacity="0.45" stroke-width="0.5"/>
<circle cx="633.5" cy="273.4" r="2.0" fill="#dc2020" stroke="#5a4a3a" stroke-opacity="0.45" stroke-width="0.5"/>
<circle cx="640.1" cy="276.4" r="2.1" fill="#d4bc98" stroke="#5a4a3a" stroke-opacity="0.45" stroke-width="0.5"/>
<circle cx="638.3" cy="271.6" r="1.4" fill="#f2f2f2" stroke="#5a4a3a" stroke-opacity="0.45" stroke-width="0.5"/>
<circle cx="641.3" cy="282.9" r="2.1" fill="#d4bc98" stroke="#5a4a3a" stroke-opacity="0.45" stroke-width="0.5"/>
<circle cx="646.1" cy="284.7" r="2.0" fill="#dc2020" stroke="#5a4a3a" stroke-opacity="0.45" stroke-width="0.5"/>
<circle cx="634.7" cy="287.1" r="2.1" fill="#d4bc98" stroke="#5a4a3a" stroke-opacity="0.45" stroke-width="0.5"/>
<circle cx="636.5" cy="292.5" r="2.0" fill="#dc2020" stroke="#5a4a3a" stroke-opacity="0.45" stroke-width="0.5"/>
<circle cx="639.5" cy="294.3" r="1.4" fill="#f2f2f2" stroke="#5a4a3a" stroke-opacity="0.45" stroke-width="0.5"/></g>
</svg></body></html>
